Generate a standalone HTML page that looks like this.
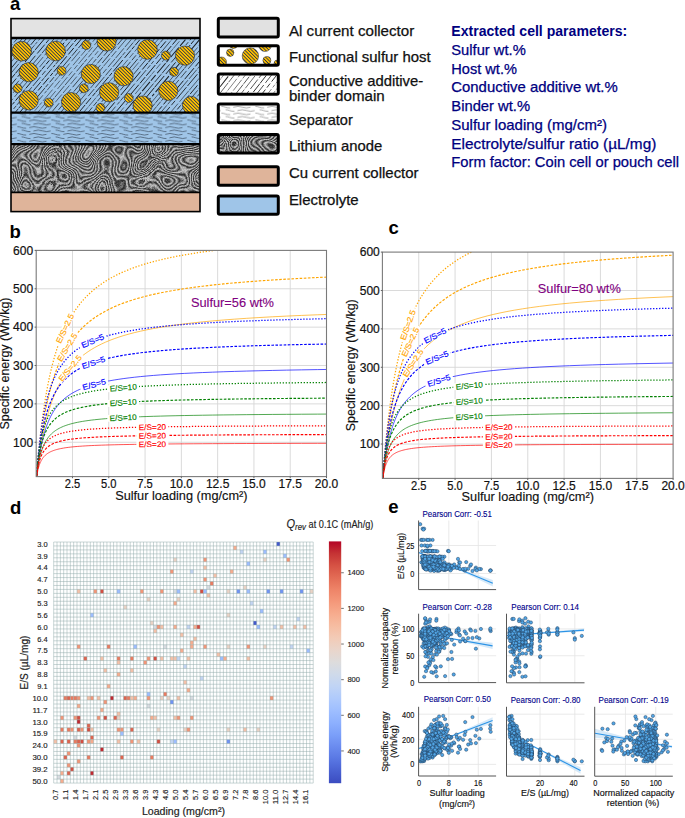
<!DOCTYPE html><html><head><meta charset="utf-8"><title>Figure</title><style>html,body{margin:0;padding:0;background:#fff;width:685px;height:818px;overflow:hidden}svg{display:block;font-family:"Liberation Sans",sans-serif}</style></head><body><svg width="685" height="818" viewBox="0 0 685 818" font-family='"Liberation Sans", sans-serif'><defs><pattern id="goldstripe" width="2.45" height="2.45" patternUnits="userSpaceOnUse" patternTransform="rotate(-45)"><rect width="2.45" height="2.45" fill="#ffc000"/><rect width="0.75" height="2.45" fill="#1c2a4a"/></pattern><pattern id="wave" width="34" height="6.8" patternUnits="userSpaceOnUse"><path d="M0 1.7 q4.25 -1.6 8.5 0 t8.5 0 t8.5 0 t8.5 0 M-4.25 5.1 q4.25 -1.6 8.5 0 t8.5 0 t8.5 0 t8.5 0 t8.5 0" stroke="#18202e" stroke-width="0.7" fill="none" opacity="0.75" stroke-dasharray="17 5 9 3"/></pattern><pattern id="wavew" width="34" height="6.8" patternUnits="userSpaceOnUse"><path d="M0 1.7 q4.25 -1.6 8.5 0 t8.5 0 t8.5 0 t8.5 0 M-4.25 5.1 q4.25 -1.6 8.5 0 t8.5 0 t8.5 0 t8.5 0 t8.5 0" stroke="#333" stroke-width="0.6" fill="none" opacity="0.7" stroke-dasharray="17 5 9 3"/></pattern><filter id="swirl" x="0" y="0" width="100%" height="100%" color-interpolation-filters="sRGB"><feTurbulence type="fractalNoise" baseFrequency="0.03" numOctaves="2" seed="11" result="n"/><feColorMatrix type="matrix" values="1 0 0 0 0  1 0 0 0 0  1 0 0 0 0  0 0 0 0 1"/><feComponentTransfer><feFuncR type="table" tableValues="0.17 0.77 0.17 0.77 0.17 0.77 0.17 0.77 0.17 0.77 0.17 0.77 0.17 0.77 0.17 0.77 0.17 0.77 0.17 0.77 0.17 0.77 0.17 0.77 0.17 0.77 0.17 0.77 0.17 0.77 0.17 0.77 0.17 0.77 0.17 0.77 0.17 0.77 0.17 0.77"/><feFuncG type="table" tableValues="0.17 0.77 0.17 0.77 0.17 0.77 0.17 0.77 0.17 0.77 0.17 0.77 0.17 0.77 0.17 0.77 0.17 0.77 0.17 0.77 0.17 0.77 0.17 0.77 0.17 0.77 0.17 0.77 0.17 0.77 0.17 0.77 0.17 0.77 0.17 0.77 0.17 0.77 0.17 0.77"/><feFuncB type="table" tableValues="0.17 0.77 0.17 0.77 0.17 0.77 0.17 0.77 0.17 0.77 0.17 0.77 0.17 0.77 0.17 0.77 0.17 0.77 0.17 0.77 0.17 0.77 0.17 0.77 0.17 0.77 0.17 0.77 0.17 0.77 0.17 0.77 0.17 0.77 0.17 0.77 0.17 0.77 0.17 0.77"/></feComponentTransfer></filter><clipPath id="cathclip"><rect x="11.5" y="38" width="188" height="74"/></clipPath><clipPath id="leg2clip"><rect x="218.3" y="45.8" width="60" height="19.5"/></clipPath><clipPath id="leg3clip"><rect x="218.3" y="74.1" width="60" height="20.1"/></clipPath><clipPath id="anclip"><rect x="11.5" y="144" width="188" height="48"/></clipPath><clipPath id="leg5clip"><rect x="218.3" y="134.4" width="60" height="18.7"/></clipPath><linearGradient id="cbar" x1="0" y1="1" x2="0" y2="0"><stop offset="0.000" stop-color="#3b4cc0"/><stop offset="0.050" stop-color="#4961d2"/><stop offset="0.100" stop-color="#5977e3"/><stop offset="0.150" stop-color="#6a8bef"/><stop offset="0.200" stop-color="#7b9ff9"/><stop offset="0.250" stop-color="#8db0fe"/><stop offset="0.300" stop-color="#9ebeff"/><stop offset="0.350" stop-color="#afcafc"/><stop offset="0.400" stop-color="#c0d4f5"/><stop offset="0.450" stop-color="#cfdaea"/><stop offset="0.500" stop-color="#dddcdc"/><stop offset="0.550" stop-color="#e9d5cb"/><stop offset="0.600" stop-color="#f2cbb7"/><stop offset="0.650" stop-color="#f6bda2"/><stop offset="0.700" stop-color="#f7ac8e"/><stop offset="0.750" stop-color="#f4987a"/><stop offset="0.800" stop-color="#ee8468"/><stop offset="0.850" stop-color="#e36c55"/><stop offset="0.900" stop-color="#d65244"/><stop offset="0.950" stop-color="#c53334"/><stop offset="1.000" stop-color="#b40426"/></linearGradient></defs><rect width="685" height="818" fill="#fff"/><text x="10.00" y="10.30" font-size="18.5" fill="#000" font-weight="bold">a</text><rect x="11" y="18.6" width="189" height="19.4" fill="#e3e3e3"/><rect x="11" y="38" width="189" height="74.5" fill="#9fc5e8"/><g clip-path="url(#cathclip)"><g stroke="#0a0a0a" opacity="0.9" fill="none"><path d="M-41.7 87.1 L91.4 -71.6" stroke-dasharray="10.1 1.5 10.9 2.1 3.9 0.6 13.9 1.2 6.0 3.0 9.1 2.6 9.2 2.1 5.0 2.1 14.3 1.9 12.6 2.2 3.8 2.4 10.7 1.3 3.4 2.7 9.1 2.3 14.4 2.3 15.0 1.5 13.4 1.7 15.2 2.7" stroke-width="0.61"/><path d="M-39.1 89.4 L94.0 -69.3" stroke-dasharray="5.8 2.9 8.7 2.1 6.9 1.8 8.0 1.4 10.6 2.0 14.8 2.2 15.1 2.7 15.9 2.2 5.1 2.7 15.5 2.8 10.4 2.3 5.7 2.6 10.5 1.3 3.8 2.6 15.9 0.8 13.4 1.6 5.0 1.3 13.0 2.7" stroke-width="0.58"/><path d="M-36.1 91.6 L97.1 -67.1" stroke-dasharray="3.6 2.3 7.3 2.7 15.7 1.8 16.0 1.3 4.0 2.0 3.4 1.1 8.3 2.1 5.0 0.7 14.3 1.4 15.5 2.8 7.9 1.7 9.8 2.1 10.7 1.9 11.1 2.9 9.6 1.6 12.4 1.2 6.9 2.9 9.8 1.9 3.1 1.6" stroke-width="0.84"/><path d="M-33.9 93.9 L99.3 -64.8" stroke-dasharray="11.0 2.1 3.8 2.1 9.1 2.2 7.6 2.3 12.6 0.7 3.8 2.2 15.5 1.2 8.9 2.0 7.2 1.5 7.1 1.5 10.7 1.3 7.9 2.5 3.3 2.0 12.6 1.3 5.9 2.5 6.1 1.0 8.7 2.3 4.3 1.4 7.3 2.6 8.7 2.7 5.2 1.4 11.5 2.7" stroke-width="0.78"/><path d="M-31.0 96.1 L102.1 -62.6" stroke-dasharray="4.6 1.9 5.5 2.5 13.9 1.0 6.6 2.5 11.3 2.5 7.5 0.9 6.8 2.5 6.5 1.4 8.4 1.6 8.3 2.8 5.0 0.6 15.3 2.7 15.8 1.6 15.4 2.8 5.9 2.4 13.9 2.2 9.7 1.3 7.4 1.1 3.9 2.0" stroke-width="0.70"/><path d="M-27.9 98.4 L105.3 -60.3" stroke-dasharray="3.6 2.8 12.0 2.8 14.7 2.8 10.5 0.6 12.7 1.0 6.9 2.2 9.8 1.6 15.2 2.1 7.4 1.2 14.2 1.7 13.2 1.4 5.6 1.9 13.6 1.0 13.3 2.8 13.5 2.6 3.1 2.1 14.2 0.7" stroke-width="0.69"/><path d="M-25.6 100.6 L107.5 -58.1" stroke-dasharray="9.9 1.6 9.1 2.5 3.0 0.7 4.6 0.9 3.9 2.9 14.1 0.8 9.5 1.4 7.1 1.4 11.4 2.0 7.7 1.1 7.3 0.9 10.2 2.3 7.9 0.8 5.3 1.5 10.9 2.5 7.9 2.5 11.1 1.6 7.8 1.8 12.1 1.6 12.0 1.7 6.2 1.9" stroke-width="0.89"/><path d="M-23.1 102.8 L110.1 -55.8" stroke-dasharray="8.5 1.6 14.4 2.8 7.9 2.8 13.3 1.2 9.0 0.9 13.6 2.2 14.5 2.5 11.7 2.4 10.3 0.8 10.6 0.6 4.9 2.5 3.6 0.8 4.3 2.7 5.3 0.7 13.9 0.9 14.0 2.2 13.9 2.9 10.5 2.5" stroke-width="0.58"/><path d="M-19.8 105.1 L113.3 -53.6" stroke-dasharray="9.6 2.3 4.4 2.4 15.1 0.7 7.2 2.0 13.8 1.2 5.3 1.2 11.0 2.4 8.1 1.5 8.2 1.4 8.4 0.8 9.5 2.9 8.4 2.4 5.1 2.3 12.8 2.2 9.7 1.8 11.4 2.8 4.9 0.8 12.7 2.8 9.7 1.7" stroke-width="0.91"/><path d="M-17.6 107.3 L115.5 -51.3" stroke-dasharray="6.5 1.1 10.6 1.4 6.0 2.3 15.4 1.3 12.2 1.6 14.1 2.0 6.5 1.1 3.3 1.8 8.0 1.0 7.7 1.4 13.1 0.9 15.9 1.8 10.8 1.7 13.8 2.6 10.2 1.8 12.4 2.7 8.2 2.4 15.5 1.7" stroke-width="0.67"/><path d="M-14.9 109.6 L118.2 -49.1" stroke-dasharray="12.3 2.2 15.5 2.6 6.1 1.1 6.4 1.0 12.2 2.7 14.7 1.2 14.2 1.4 8.5 2.3 4.1 0.8 13.8 1.3 7.6 2.0 11.8 0.6 7.4 1.6 9.3 1.1 10.6 2.9 8.1 1.9 4.5 1.3 11.7 0.9" stroke-width="0.99"/><path d="M-11.7 111.8 L121.5 -46.8" stroke-dasharray="4.3 2.9 7.9 2.5 12.8 1.3 11.8 2.2 13.5 1.2 12.8 2.9 11.7 1.9 4.5 1.8 7.6 2.3 11.8 2.0 5.4 2.1 11.2 1.0 14.6 2.2 4.6 2.8 4.8 1.4 12.4 2.0 10.2 2.2 9.0 1.3 5.3 0.8" stroke-width="0.90"/><path d="M-9.1 114.1 L124.0 -44.6" stroke-dasharray="10.1 2.4 7.7 1.2 8.0 2.7 3.5 1.8 6.2 2.4 7.6 1.4 8.2 1.9 13.0 1.4 14.0 0.9 6.5 0.8 4.5 2.5 12.5 1.0 5.5 1.6 12.7 2.6 12.7 2.0 4.9 1.6 5.5 1.9 10.4 1.1 6.3 2.5 3.4 2.5 14.6 2.9" stroke-width="0.74"/><path d="M-6.6 116.3 L126.5 -42.3" stroke-dasharray="10.6 2.1 15.7 2.2 6.9 2.7 9.3 2.0 12.4 0.6 13.0 2.2 9.4 1.9 9.0 1.1 9.9 0.7 9.5 2.2 8.8 2.0 15.5 2.7 4.8 2.5 11.1 0.7 7.7 1.2 4.0 1.9 15.1 1.4 14.3 2.3" stroke-width="0.62"/><path d="M-3.7 118.6 L129.5 -40.1" stroke-dasharray="10.8 2.8 12.3 2.4 7.5 2.5 15.1 2.7 8.7 2.4 9.3 0.9 3.6 0.8 5.6 1.0 9.5 2.3 10.0 1.6 11.4 1.3 9.0 2.4 8.2 1.0 14.7 2.3 7.8 1.5 9.9 2.0 5.9 0.6 5.7 2.5 4.9 1.7 5.5 1.1" stroke-width="0.64"/><path d="M-1.4 120.8 L131.8 -37.8" stroke-dasharray="5.2 0.7 4.4 1.0 9.4 0.7 3.3 1.7 8.3 2.3 3.7 1.6 8.2 0.7 15.6 1.1 4.2 1.7 5.1 2.1 7.5 0.9 3.7 2.3 6.6 2.5 9.1 2.8 6.9 1.2 6.5 2.6 11.2 1.4 4.2 2.2 15.6 2.0 3.0 0.7 4.2 1.0 3.5 0.7 11.5 2.8 5.6 2.9 9.2 2.5" stroke-width="1.00"/><path d="M1.7 123.1 L134.9 -35.6" stroke-dasharray="3.4 1.3 10.9 2.9 4.1 1.3 14.0 0.9 8.1 1.4 11.8 2.8 5.3 2.4 12.5 2.6 10.2 2.8 7.7 1.6 6.0 2.5 9.2 1.2 5.2 2.3 10.9 2.3 8.0 1.8 5.0 2.3 3.3 1.7 12.9 2.2 4.3 1.2 14.0 2.1 14.4 2.7" stroke-width="0.78"/><path d="M4.4 125.3 L137.5 -33.3" stroke-dasharray="12.5 1.4 7.8 0.8 8.2 2.9 4.4 2.0 4.4 0.8 11.4 1.2 3.6 1.0 11.4 2.0 3.2 1.2 15.6 1.1 10.3 1.6 13.2 2.1 13.3 1.9 5.4 1.0 4.0 2.6 4.5 0.7 15.6 1.1 14.6 0.8 9.0 1.1 13.8 2.1" stroke-width="0.87"/><path d="M7.0 127.6 L140.1 -31.1" stroke-dasharray="14.3 1.4 10.8 1.7 4.4 2.6 10.7 2.6 5.7 1.9 9.0 2.3 4.0 1.4 9.3 0.8 10.2 2.4 8.5 2.2 10.9 1.1 7.6 3.0 7.4 1.6 4.1 1.1 5.1 2.8 12.4 2.7 15.8 2.1 15.1 1.9 8.4 2.9" stroke-width="0.99"/><path d="M9.8 129.8 L142.9 -28.8" stroke-dasharray="9.3 2.5 8.3 3.0 15.0 1.3 15.1 1.0 4.2 2.3 6.8 1.8 11.3 0.7 12.7 1.3 8.6 1.4 12.6 2.4 6.7 0.8 6.9 1.6 4.0 1.0 12.9 2.3 15.7 3.0 14.4 1.5 5.1 1.3 9.0 1.9" stroke-width="0.82"/><path d="M12.0 132.1 L145.2 -26.6" stroke-dasharray="14.1 1.3 9.0 2.7 13.5 1.3 6.2 2.5 3.1 0.9 9.9 1.9 5.2 0.7 5.7 2.4 9.1 3.0 13.2 3.0 3.5 1.0 3.2 1.6 7.4 0.7 10.1 0.8 7.1 1.2 13.4 1.6 6.4 0.7 8.6 2.1 11.8 2.8 13.5 1.2" stroke-width="0.63"/><path d="M15.0 134.3 L148.2 -24.3" stroke-dasharray="13.3 1.8 13.8 1.9 6.6 1.0 3.2 2.1 14.7 2.8 9.1 2.2 15.1 2.6 10.8 1.6 9.7 1.0 5.4 2.2 15.9 1.9 8.3 1.4 8.9 2.5 8.9 2.9 5.0 1.4 9.8 1.6 14.1 2.6 15.1 2.1" stroke-width="0.57"/><path d="M17.5 136.6 L150.7 -22.1" stroke-dasharray="10.1 1.8 6.6 2.3 14.9 0.8 11.7 1.5 9.7 2.7 15.5 2.1 5.5 2.8 5.4 1.5 13.8 1.4 6.5 2.9 15.3 1.4 8.1 1.3 4.7 1.2 15.7 0.8 6.0 1.1 4.0 1.9 12.7 2.6 11.2 2.6" stroke-width="0.56"/><path d="M20.0 138.8 L153.1 -19.8" stroke-dasharray="15.5 0.8 6.5 1.8 6.5 1.9 3.6 1.2 15.4 0.9 14.8 1.0 15.9 2.2 11.4 0.9 3.7 2.4 5.3 1.1 13.7 2.7 3.6 2.9 10.0 1.5 4.4 1.5 15.8 1.3 4.7 0.9 4.6 1.4 14.9 0.8 5.5 2.9 16.0 3.0" stroke-width="0.68"/><path d="M22.7 141.1 L155.9 -17.6" stroke-dasharray="15.4 1.8 12.1 1.4 3.3 1.4 12.7 2.5 10.4 1.7 10.0 1.7 9.9 2.6 5.6 2.0 15.1 2.6 5.3 2.9 13.9 1.0 6.5 1.1 3.7 2.9 8.3 2.7 4.5 0.6 14.3 2.5 15.9 2.2 9.8 2.4" stroke-width="0.60"/><path d="M25.5 143.3 L158.7 -15.3" stroke-dasharray="8.7 1.0 10.8 1.4 9.6 1.5 7.1 1.5 10.8 3.0 15.2 2.7 13.9 1.3 15.7 1.2 4.6 1.8 12.5 1.4 11.4 1.3 15.6 1.7 9.2 1.9 14.4 3.0 9.9 1.7 11.0 0.8" stroke-width="0.76"/><path d="M28.5 145.6 L161.6 -13.1" stroke-dasharray="13.1 0.7 14.1 1.5 15.8 1.5 5.8 1.9 14.5 1.6 14.3 2.3 7.7 1.3 9.6 1.6 7.8 2.2 14.4 2.0 4.9 1.1 7.8 2.1 4.8 0.8 7.2 1.3 3.4 1.9 15.0 1.9 12.6 2.6 13.9 2.8" stroke-width="0.77"/><path d="M31.0 147.8 L164.2 -10.8" stroke-dasharray="4.6 2.7 7.9 1.7 14.6 1.3 5.5 2.6 10.8 0.8 3.4 1.4 3.1 2.6 5.4 1.3 8.1 1.8 8.6 2.1 11.6 1.6 4.3 2.9 12.0 0.8 8.7 2.4 15.9 0.8 3.1 1.8 8.5 2.7 13.7 1.4 8.4 2.0 14.5 1.1" stroke-width="0.75"/><path d="M33.2 150.1 L166.4 -8.6" stroke-dasharray="11.3 0.7 15.2 1.9 10.5 0.8 6.0 1.7 14.1 1.9 6.7 3.0 11.6 1.9 5.6 1.3 14.7 0.9 9.9 2.1 7.6 2.4 14.8 2.7 12.6 1.1 3.8 1.6 7.1 1.1 14.3 1.1 13.7 2.9" stroke-width="0.62"/><path d="M36.6 152.3 L169.7 -6.3" stroke-dasharray="8.2 1.1 5.4 0.7 9.5 1.5 14.1 2.6 3.7 1.6 8.1 1.0 6.3 1.2 12.0 1.4 4.4 1.1 8.7 2.0 6.2 2.3 5.8 2.2 10.9 1.0 12.8 1.5 10.0 2.0 11.2 1.7 3.7 2.5 14.2 1.8 10.5 1.2 14.7 2.2" stroke-width="0.67"/><path d="M39.2 154.6 L172.3 -4.1" stroke-dasharray="15.8 1.4 15.9 1.8 5.3 2.3 7.4 2.4 10.6 0.9 9.9 2.6 9.2 1.9 14.2 1.7 9.4 2.0 13.7 1.1 4.2 2.4 10.2 1.3 14.6 2.7 10.0 3.0 13.9 2.4 6.8 0.6 11.8 2.4" stroke-width="0.73"/><path d="M41.6 156.8 L174.7 -1.8" stroke-dasharray="10.4 1.2 12.1 2.0 8.0 0.9 10.2 1.4 12.4 1.0 8.1 1.1 8.3 2.0 4.4 0.7 9.3 1.1 9.6 1.0 4.3 1.9 15.0 2.7 9.7 1.6 3.9 1.3 7.1 2.9 4.5 2.9 9.2 1.6 6.4 2.9 5.4 2.0 9.6 1.1 5.9 3.0" stroke-width="0.94"/><path d="M44.5 159.1 L177.6 0.4" stroke-dasharray="14.7 0.8 12.1 2.4 5.9 1.7 15.7 1.4 12.9 1.0 11.7 1.2 9.6 1.5 14.3 2.4 9.6 2.2 8.6 2.5 6.3 1.9 10.6 1.5 3.6 1.0 11.3 1.1 12.9 1.8 15.4 2.6 12.5 1.5" stroke-width="0.58"/><path d="M47.0 161.3 L180.2 2.7" stroke-dasharray="12.7 2.8 5.6 1.0 15.7 2.4 9.3 2.4 4.9 1.9 11.7 2.0 5.1 0.9 11.1 2.7 4.8 0.6 4.1 2.5 8.1 1.7 15.9 2.1 6.4 2.3 3.0 1.3 12.1 1.0 3.4 1.8 7.3 2.9 4.3 2.5 8.1 2.5 8.8 2.2 7.2 1.1" stroke-width="0.78"/><path d="M49.9 163.6 L183.0 4.9" stroke-dasharray="7.5 1.2 8.4 0.8 7.1 2.0 10.1 2.0 6.8 0.7 3.3 1.4 5.6 2.0 6.4 2.4 10.8 2.2 12.6 1.9 8.5 1.3 3.8 2.5 9.5 0.8 15.0 2.0 11.1 1.7 4.6 3.0 5.2 1.5 16.0 0.9 9.5 1.8 6.2 2.8 8.4 0.6" stroke-width="0.79"/><path d="M51.9 165.8 L185.1 7.2" stroke-dasharray="12.2 2.7 14.8 0.7 11.8 1.3 9.1 1.3 7.0 0.9 11.1 0.8 15.5 0.7 15.5 1.1 4.1 2.4 9.9 2.4 9.6 2.1 4.1 2.2 9.7 2.9 3.1 0.8 11.8 2.8 8.5 2.3 10.3 1.5 9.1 2.0" stroke-width="0.57"/><path d="M54.9 168.1 L188.0 9.4" stroke-dasharray="12.6 1.2 9.2 1.2 7.6 2.2 12.7 2.9 9.2 1.1 7.4 0.7 6.1 2.0 10.9 1.2 5.4 0.8 5.3 1.8 6.3 2.7 10.3 1.4 8.6 0.7 12.5 2.4 7.7 2.3 6.5 1.1 6.0 1.1 10.9 2.1 12.5 0.8 13.0 1.7" stroke-width="0.74"/><path d="M57.7 170.3 L190.8 11.7" stroke-dasharray="8.6 1.1 8.1 2.2 12.3 2.8 5.5 2.7 13.4 2.3 15.7 0.9 13.1 2.8 4.6 2.0 15.3 1.3 14.1 2.8 8.7 0.9 5.8 2.6 8.5 1.4 8.8 2.8 6.3 0.6 15.3 1.4 8.0 2.9 6.7 0.8" stroke-width="0.99"/><path d="M60.2 172.6 L193.3 13.9" stroke-dasharray="5.9 2.9 6.0 2.8 7.3 1.3 5.8 1.9 10.3 1.6 9.6 1.3 13.9 2.8 12.8 2.6 3.9 1.2 5.6 1.0 15.6 2.8 14.9 1.9 4.5 1.6 3.7 2.8 6.5 1.3 15.3 1.1 15.0 1.3 11.6 0.9 14.7 1.6" stroke-width="0.73"/><path d="M63.2 174.8 L196.3 16.2" stroke-dasharray="10.7 1.2 4.6 2.0 3.3 2.7 7.5 1.0 7.3 0.9 7.1 1.9 8.3 1.4 6.8 1.8 13.1 1.7 13.0 1.8 4.6 1.0 14.0 1.8 8.0 1.8 14.0 1.5 7.7 1.5 3.1 1.9 9.2 1.8 8.9 1.7 12.3 1.0 15.8 0.9" stroke-width="0.98"/><path d="M65.5 177.1 L198.6 18.4" stroke-dasharray="13.3 1.2 4.0 1.9 13.9 2.6 14.4 3.0 3.7 1.5 4.4 2.4 8.9 2.4 13.3 3.0 11.8 2.7 10.1 0.8 14.6 0.8 4.1 2.6 6.6 2.2 3.4 1.1 12.3 0.7 9.6 2.8 5.8 2.3 12.7 2.1 13.0 2.3" stroke-width="0.57"/><path d="M68.2 179.3 L201.3 20.7" stroke-dasharray="10.0 2.9 5.8 2.0 4.7 2.6 8.8 1.9 11.7 0.9 12.5 2.5 14.2 1.3 6.0 1.0 14.7 1.7 8.1 1.8 12.1 1.4 7.4 2.4 13.1 1.3 4.0 2.8 12.5 2.0 8.3 2.9 8.6 1.1 4.3 1.4 10.8 1.5" stroke-width="1.01"/><path d="M71.2 181.6 L204.4 22.9" stroke-dasharray="9.0 2.2 10.8 2.1 9.4 1.9 9.4 2.6 5.5 2.5 6.9 2.6 3.9 1.8 8.8 2.3 5.6 1.2 4.7 1.9 10.5 0.6 5.3 1.1 15.4 1.7 10.4 1.3 11.6 2.6 11.7 0.6 8.7 1.8 3.6 2.5 7.1 1.3 11.1 2.0 9.5 2.7" stroke-width="0.81"/><path d="M73.7 183.8 L206.8 25.2" stroke-dasharray="3.8 1.9 7.7 1.9 7.5 0.6 3.5 1.0 4.2 2.6 10.5 1.2 12.2 2.1 3.8 2.4 6.0 3.0 4.8 1.3 6.2 2.7 13.6 2.0 4.9 1.6 12.1 0.7 15.0 2.6 15.1 2.3 11.0 2.9 6.5 1.3 4.6 1.0 13.4 0.8 12.7 1.6" stroke-width="0.98"/><path d="M76.7 186.1 L209.8 27.4" stroke-dasharray="11.9 2.6 3.6 1.2 7.8 1.6 11.7 2.7 12.6 2.8 12.0 1.5 9.6 2.4 13.6 1.5 7.6 2.1 6.0 2.7 3.0 2.2 9.3 1.1 10.4 1.7 15.5 2.7 10.6 2.7 14.5 1.0 13.8 2.6" stroke-width="1.04"/><path d="M79.3 188.3 L212.5 29.7" stroke-dasharray="8.1 1.1 11.5 1.1 12.8 2.0 13.7 1.5 6.9 2.8 11.6 1.5 10.3 1.6 11.4 1.8 6.7 3.0 14.5 2.4 6.6 1.1 12.5 2.6 11.5 1.1 12.4 1.9 7.9 2.0 8.8 2.2 12.8 3.0" stroke-width="0.61"/><path d="M81.9 190.6 L215.0 31.9" stroke-dasharray="15.3 2.2 10.5 2.6 3.4 2.5 11.1 2.0 7.0 2.1 4.6 1.9 6.4 2.8 13.5 1.7 12.8 1.5 9.8 1.0 14.2 2.4 12.9 0.8 13.7 0.6 10.3 1.8 3.8 1.6 14.5 2.1 7.1 2.6 7.6 2.8" stroke-width="0.75"/><path d="M84.2 192.8 L217.3 34.2" stroke-dasharray="15.6 0.8 6.3 2.5 4.5 1.9 14.2 2.0 7.5 2.4 13.7 2.0 11.1 1.4 8.3 3.0 15.6 0.6 5.6 1.1 13.3 1.1 5.2 2.4 5.2 2.9 8.9 2.8 13.7 1.1 13.2 1.6 5.9 0.7 12.1 1.9" stroke-width="0.71"/><path d="M87.4 195.1 L220.6 36.4" stroke-dasharray="5.6 1.7 4.1 1.4 14.5 1.8 5.0 1.2 11.4 1.3 14.5 0.7 14.3 2.1 13.7 1.5 3.9 1.0 11.1 0.7 4.4 2.5 14.4 2.7 13.9 1.9 14.4 2.3 10.2 1.6 3.3 0.8 6.2 1.7 4.6 2.9 10.5 2.4" stroke-width="0.99"/><path d="M89.6 197.3 L222.8 38.7" stroke-dasharray="14.5 2.9 6.5 0.9 13.4 2.7 13.4 1.6 10.8 0.9 6.0 1.6 12.7 0.8 15.1 0.7 15.6 1.2 13.6 2.6 15.4 1.7 12.1 1.3 13.8 0.9 14.5 2.0 3.8 2.9 7.1 0.8" stroke-width="0.68"/><path d="M92.2 199.6 L225.3 40.9" stroke-dasharray="6.7 2.3 15.9 2.1 14.1 2.6 12.3 1.5 6.3 1.0 10.1 1.1 12.6 1.4 10.5 1.9 11.2 1.0 6.3 2.3 5.8 2.2 15.5 1.5 15.5 2.1 15.3 1.9 12.8 2.2 5.5 1.8 10.6 1.7" stroke-width="0.88"/><path d="M95.6 201.8 L228.7 43.2" stroke-dasharray="13.3 2.5 4.9 2.3 11.2 2.9 3.0 1.0 15.7 1.5 12.2 2.0 8.2 1.7 10.3 3.0 9.9 2.5 6.9 2.3 10.9 2.4 14.4 0.8 15.6 2.1 6.4 1.7 4.3 1.2 13.9 2.3 14.3 1.0" stroke-width="0.61"/><path d="M97.8 204.1 L231.0 45.4" stroke-dasharray="9.4 2.3 6.9 2.4 10.6 1.3 13.2 0.8 10.7 1.1 3.6 1.7 9.8 2.1 7.9 2.8 13.2 1.0 3.1 2.9 8.3 0.9 5.3 2.3 5.3 1.5 11.8 1.4 11.5 2.9 13.3 2.1 11.1 1.3 11.3 2.2 10.6 1.8" stroke-width="0.92"/><path d="M100.4 206.3 L233.5 47.7" stroke-dasharray="12.3 2.9 3.5 1.2 15.8 0.8 13.6 2.0 3.9 2.1 3.1 2.6 6.9 2.8 14.7 0.9 8.2 1.0 12.9 0.8 4.0 0.9 14.2 1.2 7.2 1.7 10.2 1.6 15.3 1.4 9.2 2.7 6.2 1.0 13.9 1.4 14.6 2.6" stroke-width="0.74"/><path d="M103.1 208.6 L236.3 49.9" stroke-dasharray="4.3 2.7 8.8 1.4 5.3 1.1 14.4 0.9 10.2 2.1 9.8 1.8 8.2 1.1 13.7 2.8 10.3 1.2 14.9 1.1 5.2 2.1 13.8 2.0 4.4 2.9 5.0 1.4 15.8 2.5 12.8 0.8 14.1 1.6 3.1 2.5 15.1 0.7" stroke-width="0.78"/><path d="M106.3 210.8 L239.4 52.1" stroke-dasharray="7.3 1.3 13.1 1.7 16.0 2.7 14.2 2.3 5.5 2.2 10.5 1.8 10.4 1.3 5.6 2.8 7.8 0.9 15.7 1.8 11.8 1.4 4.9 1.4 13.8 1.3 14.9 1.3 14.7 1.0 8.8 0.9 4.9 1.9" stroke-width="0.74"/><path d="M108.7 213.1 L241.8 54.4" stroke-dasharray="5.8 1.3 7.2 2.8 4.1 1.6 14.1 2.0 6.3 3.0 4.4 0.9 3.2 1.7 14.2 1.3 6.7 2.5 4.0 0.6 11.6 0.8 9.9 0.9 10.8 2.6 8.9 1.3 11.1 2.3 3.7 1.2 7.9 1.8 6.6 2.2 6.3 2.8 7.6 1.1 4.0 0.9 5.8 2.7 8.4 1.7" stroke-width="1.02"/><path d="M111.7 215.3 L244.8 56.6" stroke-dasharray="13.0 1.2 7.3 1.8 6.4 1.4 5.8 1.2 12.7 2.0 8.8 1.7 11.0 2.2 3.3 2.6 9.0 1.4 15.5 2.4 7.6 0.7 8.7 1.7 7.9 0.8 10.5 1.2 12.9 1.9 6.8 2.6 8.8 0.8 6.6 0.7 8.6 2.8 15.2 2.2" stroke-width="0.63"/><path d="M113.8 217.6 L246.9 58.9" stroke-dasharray="5.6 1.5 11.3 0.7 9.4 1.6 11.6 2.6 8.2 2.0 6.5 1.7 11.3 0.7 9.7 1.8 5.4 1.2 13.7 1.4 5.5 1.3 9.8 1.6 7.6 1.4 5.8 1.8 10.8 0.8 10.7 1.3 15.7 2.9 4.7 2.3 7.5 0.9 14.4 2.8" stroke-width="0.94"/><path d="M116.8 219.8 L249.9 61.1" stroke-dasharray="15.7 1.9 11.8 2.2 14.2 2.7 7.0 1.1 10.1 2.0 7.6 2.7 14.0 2.2 10.0 2.3 5.5 2.5 4.7 2.8 11.1 1.3 5.5 2.0 9.0 2.3 4.3 2.7 8.6 1.7 12.6 2.1 8.8 1.3 9.1 0.7 6.3 2.6" stroke-width="0.62"/></g></g><g clip-path="url(#cathclip)"><circle cx="21.7" cy="51.2" r="9.8" fill="url(#goldstripe)" stroke="#1b2338" stroke-width="0.6"/><circle cx="55.6" cy="51" r="9.8" fill="url(#goldstripe)" stroke="#1b2338" stroke-width="0.6"/><circle cx="86.3" cy="45" r="4.5" fill="url(#goldstripe)" stroke="#1b2338" stroke-width="0.6"/><circle cx="106.6" cy="41.5" r="9.6" fill="url(#goldstripe)" stroke="#1b2338" stroke-width="0.6"/><circle cx="147.5" cy="49.5" r="9.8" fill="url(#goldstripe)" stroke="#1b2338" stroke-width="0.6"/><circle cx="165.9" cy="55.6" r="4.5" fill="url(#goldstripe)" stroke="#1b2338" stroke-width="0.6"/><circle cx="185" cy="55.6" r="9.6" fill="url(#goldstripe)" stroke="#1b2338" stroke-width="0.6"/><circle cx="28.7" cy="72.2" r="9.6" fill="url(#goldstripe)" stroke="#1b2338" stroke-width="0.6"/><circle cx="61.6" cy="70.8" r="4.4" fill="url(#goldstripe)" stroke="#1b2338" stroke-width="0.6"/><circle cx="90.8" cy="74" r="9.6" fill="url(#goldstripe)" stroke="#1b2338" stroke-width="0.6"/><circle cx="123.6" cy="76.2" r="9.6" fill="url(#goldstripe)" stroke="#1b2338" stroke-width="0.6"/><circle cx="174" cy="71.8" r="4.4" fill="url(#goldstripe)" stroke="#1b2338" stroke-width="0.6"/><circle cx="17.6" cy="88.4" r="4.4" fill="url(#goldstripe)" stroke="#1b2338" stroke-width="0.6"/><circle cx="83.8" cy="88.4" r="4.4" fill="url(#goldstripe)" stroke="#1b2338" stroke-width="0.6"/><circle cx="109.1" cy="92.3" r="9.6" fill="url(#goldstripe)" stroke="#1b2338" stroke-width="0.6"/><circle cx="168.3" cy="90.8" r="9.6" fill="url(#goldstripe)" stroke="#1b2338" stroke-width="0.6"/><circle cx="28.7" cy="100.3" r="9.6" fill="url(#goldstripe)" stroke="#1b2338" stroke-width="0.6"/><circle cx="48.7" cy="102.6" r="4.4" fill="url(#goldstripe)" stroke="#1b2338" stroke-width="0.6"/><circle cx="71.1" cy="102.1" r="9.6" fill="url(#goldstripe)" stroke="#1b2338" stroke-width="0.6"/><circle cx="100.5" cy="107.8" r="4.4" fill="url(#goldstripe)" stroke="#1b2338" stroke-width="0.6"/><circle cx="128.8" cy="98" r="4.4" fill="url(#goldstripe)" stroke="#1b2338" stroke-width="0.6"/><circle cx="142.6" cy="105.5" r="9.6" fill="url(#goldstripe)" stroke="#1b2338" stroke-width="0.6"/><circle cx="191.3" cy="105.2" r="8.8" fill="url(#goldstripe)" stroke="#1b2338" stroke-width="0.6"/></g><rect x="11" y="112.5" width="189" height="31.5" fill="#9fc5e8"/><rect x="11" y="112.5" width="189" height="31.5" fill="url(#wave)"/><g clip-path="url(#anclip)"><rect x="11" y="144" width="189" height="48.5" filter="url(#swirl)"/></g><rect x="11" y="192.4" width="189" height="19.2" fill="#dfb49a"/><path d="M11 38 H200 M11 112.6 H200 M11 144.1 H200" stroke="#000" stroke-width="2.3" fill="none"/><path d="M11 192.4 H200" stroke="#000" stroke-width="1.8" fill="none"/><rect x="11" y="18.6" width="189" height="193" fill="none" stroke="#000" stroke-width="1.6"/><rect x="218.3" y="18.2" width="60.0" height="18.8" fill="#e1e1e1"/><rect x="218.3" y="18.2" width="60.0" height="18.8" rx="1.5" fill="none" stroke="#000" stroke-width="3"/><rect x="218.3" y="45.8" width="60.0" height="19.5" fill="#ffffff"/><g clip-path="url(#leg2clip)"><circle cx="230.2" cy="52.7" r="3.7" fill="url(#goldstripe)" stroke="#1b2338" stroke-width="0.5"/><circle cx="250.4" cy="56" r="8.2" fill="url(#goldstripe)" stroke="#1b2338" stroke-width="0.5"/><circle cx="266.9" cy="60.4" r="4" fill="url(#goldstripe)" stroke="#1b2338" stroke-width="0.5"/><circle cx="221.5" cy="62" r="5" fill="url(#goldstripe)" stroke="#1b2338" stroke-width="0.5"/><circle cx="233.5" cy="44.5" r="4" fill="url(#goldstripe)" stroke="#1b2338" stroke-width="0.5"/><circle cx="265" cy="45" r="6.5" fill="url(#goldstripe)" stroke="#1b2338" stroke-width="0.5"/><circle cx="277.5" cy="63.5" r="3.5" fill="url(#goldstripe)" stroke="#1b2338" stroke-width="0.5"/></g><rect x="218.3" y="45.8" width="60.0" height="19.5" rx="1.5" fill="none" stroke="#000" stroke-width="3"/><rect x="218.3" y="74.1" width="60.0" height="20.1" fill="#ffffff"/><g clip-path="url(#leg3clip)"><g stroke="#000" opacity="0.85" fill="none"><path d="M197.8 87.9 L239.9 34.0" stroke-dasharray="12.6 2.5 15.3 2.4 15.0 0.7 9.1 2.9 11.4 2.8" stroke-width="0.61"/><path d="M201.0 90.5 L243.0 36.6" stroke-dasharray="6.2 1.9 10.5 0.6 5.8 1.3 14.9 2.4 5.1 2.5 4.8 2.1 4.6 0.6 14.3 1.1" stroke-width="0.66"/><path d="M204.7 93.1 L246.8 39.2" stroke-dasharray="14.3 1.3 15.5 1.9 11.8 1.1 15.2 2.3 15.6 2.7" stroke-width="0.70"/><path d="M207.5 95.7 L249.6 41.8" stroke-dasharray="5.2 0.9 3.8 1.3 10.8 0.6 11.8 1.4 7.0 2.6 9.2 1.4 9.3 2.3 3.7 2.9" stroke-width="0.57"/><path d="M211.1 98.3 L253.2 44.4" stroke-dasharray="14.0 0.6 13.2 1.5 10.5 0.6 3.6 1.0 15.4 1.1 12.8 2.8" stroke-width="1.01"/><path d="M214.1 100.8 L256.2 47.0" stroke-dasharray="7.6 1.9 13.1 0.9 12.7 2.5 14.2 0.7 15.3 0.8" stroke-width="0.72"/><path d="M217.6 103.4 L259.7 49.6" stroke-dasharray="14.9 1.4 15.0 1.9 7.1 1.4 5.3 0.8 4.9 2.3 16.0 1.0" stroke-width="0.58"/><path d="M221.2 106.0 L263.3 52.1" stroke-dasharray="9.9 1.6 6.1 2.0 13.7 1.7 8.5 0.7 14.9 0.7 9.4 2.6" stroke-width="0.62"/><path d="M224.3 108.6 L266.4 54.7" stroke-dasharray="15.3 2.1 13.2 0.9 8.6 1.0 14.0 1.3 8.9 3.0 14.1 2.9" stroke-width="0.78"/><path d="M227.4 111.2 L269.5 57.3" stroke-dasharray="12.5 1.7 6.8 1.6 4.9 1.5 15.8 2.9 11.2 1.8 7.4 0.8" stroke-width="0.69"/><path d="M231.0 113.8 L273.1 59.9" stroke-dasharray="14.3 1.5 13.2 2.5 12.0 2.2 12.9 1.5 12.2 1.3" stroke-width="0.79"/><path d="M234.3 116.4 L276.4 62.5" stroke-dasharray="12.0 1.3 15.3 2.2 10.5 0.6 10.1 1.2 11.7 1.7 13.6 2.2" stroke-width="0.94"/><path d="M237.3 118.9 L279.3 65.1" stroke-dasharray="11.4 2.4 13.8 1.4 14.0 2.7 11.9 2.9 15.4 1.8" stroke-width="0.81"/><path d="M240.4 121.5 L282.5 67.7" stroke-dasharray="13.9 2.8 9.2 2.3 12.4 2.4 5.2 2.5 10.6 2.2 8.5 2.1" stroke-width="0.93"/><path d="M244.1 124.1 L286.2 70.2" stroke-dasharray="12.4 0.7 5.1 1.7 11.5 1.1 11.9 2.1 3.5 1.7 5.9 0.7 4.7 1.4 5.4 1.1" stroke-width="0.58"/><path d="M247.3 126.7 L289.4 72.8" stroke-dasharray="7.9 2.1 10.7 1.2 14.7 0.6 8.3 1.3 8.3 0.9 13.8 1.5" stroke-width="0.58"/><path d="M250.7 129.3 L292.8 75.4" stroke-dasharray="4.2 1.9 7.4 2.0 15.5 2.6 8.4 2.6 11.3 1.5 4.8 2.0 10.3 2.9" stroke-width="1.02"/><path d="M254.0 131.9 L296.1 78.0" stroke-dasharray="7.6 2.7 3.0 0.9 10.4 2.1 4.8 2.1 14.6 1.5 8.6 1.1 6.8 2.9" stroke-width="0.74"/></g></g><rect x="218.3" y="74.1" width="60.0" height="20.1" rx="1.5" fill="none" stroke="#000" stroke-width="3"/><rect x="218.3" y="104.1" width="60.0" height="18.7" fill="#ffffff"/><rect x="218.3" y="104.1" width="60.0" height="18.7" fill="url(#wavew)"/><rect x="218.3" y="104.1" width="60.0" height="18.7" rx="1.5" fill="none" stroke="#000" stroke-width="3"/><g clip-path="url(#leg5clip)"><rect x="218.3" y="134.4" width="60.0" height="18.7" filter="url(#swirl)"/></g><rect x="218.3" y="134.4" width="60.0" height="18.7" rx="1.5" fill="none" stroke="#000" stroke-width="3"/><rect x="218.3" y="166.8" width="60.0" height="18.4" fill="#dfb49a"/><rect x="218.3" y="166.8" width="60.0" height="18.4" rx="1.5" fill="none" stroke="#000" stroke-width="3"/><rect x="218.3" y="196.1" width="60.0" height="18.1" fill="#9fc5e8"/><rect x="218.3" y="196.1" width="60.0" height="18.1" rx="1.5" fill="none" stroke="#000" stroke-width="3"/><text x="288.90" y="35.60" font-size="14.2" fill="#111" textLength="125.40" lengthAdjust="spacingAndGlyphs" stroke="#111" stroke-width="0.25">Al current collector</text><text x="288.90" y="61.70" font-size="14.2" fill="#111" textLength="141.80" lengthAdjust="spacingAndGlyphs" stroke="#111" stroke-width="0.25">Functional sulfur host</text><text x="288.90" y="86.30" font-size="14.2" fill="#111" textLength="134.30" lengthAdjust="spacingAndGlyphs" stroke="#111" stroke-width="0.25">Conductive additive-</text><text x="288.90" y="101.00" font-size="14.2" fill="#111" textLength="95.80" lengthAdjust="spacingAndGlyphs" stroke="#111" stroke-width="0.25">binder domain</text><text x="288.90" y="124.50" font-size="14.2" fill="#111" textLength="63.90" lengthAdjust="spacingAndGlyphs" stroke="#111" stroke-width="0.25">Separator</text><text x="288.90" y="151.40" font-size="14.2" fill="#111" textLength="93.30" lengthAdjust="spacingAndGlyphs" stroke="#111" stroke-width="0.25">Lithium anode</text><text x="288.90" y="178.30" font-size="14.2" fill="#111" textLength="129.70" lengthAdjust="spacingAndGlyphs" stroke="#111" stroke-width="0.25">Cu current collector</text><text x="288.90" y="205.10" font-size="14.2" fill="#111" textLength="69.80" lengthAdjust="spacingAndGlyphs" stroke="#111" stroke-width="0.25">Electrolyte</text><text x="451.30" y="36.00" font-size="14.2" fill="#000080" font-weight="bold" textLength="175.90" lengthAdjust="spacingAndGlyphs">Extracted cell parameters:</text><text x="451.30" y="54.60" font-size="14.2" fill="#000080" textLength="74.50" lengthAdjust="spacingAndGlyphs" stroke="#000080" stroke-width="0.25">Sulfur wt.%</text><text x="451.30" y="73.50" font-size="14.2" fill="#000080" textLength="65.60" lengthAdjust="spacingAndGlyphs" stroke="#000080" stroke-width="0.25">Host wt.%</text><text x="451.30" y="92.10" font-size="14.2" fill="#000080" textLength="166.40" lengthAdjust="spacingAndGlyphs" stroke="#000080" stroke-width="0.25">Conductive additive wt.%</text><text x="451.30" y="110.70" font-size="14.2" fill="#000080" textLength="78.80" lengthAdjust="spacingAndGlyphs" stroke="#000080" stroke-width="0.25">Binder wt.%</text><text x="451.30" y="130.00" font-size="14.2" fill="#000080" textLength="155.70" lengthAdjust="spacingAndGlyphs" stroke="#000080" stroke-width="0.25">Sulfur loading (mg/cm²)</text><text x="451.30" y="148.50" font-size="14.2" fill="#000080" textLength="205.00" lengthAdjust="spacingAndGlyphs" stroke="#000080" stroke-width="0.25">Electrolyte/sulfur ratio (µL/mg)</text><text x="451.30" y="167.10" font-size="14.2" fill="#000080" textLength="227.70" lengthAdjust="spacingAndGlyphs" stroke="#000080" stroke-width="0.25">Form factor: Coin cell or pouch cell</text><text x="9.60" y="238.00" font-size="18.5" fill="#000" font-weight="bold">b</text><clipPath id="clipb"><rect x="36.2" y="250.4" width="290.3" height="226.20000000000002"/></clipPath><path d="M72.49 250.4 V476.6 M108.78 250.4 V476.6 M145.06 250.4 V476.6 M181.35 250.4 V476.6 M217.64 250.4 V476.6 M253.93 250.4 V476.6 M290.21 250.4 V476.6 M36.2 442.26 H326.5 M36.2 403.89 H326.5 M36.2 365.51 H326.5 M36.2 327.14 H326.5 M36.2 288.77 H326.5" stroke="#d6d6d6" stroke-width="0.9" fill="none"/><g clip-path="url(#clipb)" fill="none"><path d="M36.20,480.63 L36.49,476.87 L36.51,476.65 L36.53,476.42 L36.55,476.17 L36.57,475.91 L36.59,475.63 L36.61,475.33 L36.64,475.02 L36.66,474.70 L36.69,474.35 L36.72,473.98 L36.75,473.59 L36.78,473.18 L36.82,472.75 L36.86,472.29 L36.90,471.81 L36.94,471.30 L36.98,470.76 L37.03,470.19 L37.08,469.60 L37.13,468.96 L37.19,468.30 L37.25,467.60 L37.31,466.86 L37.38,466.08 L37.45,465.26 L37.52,464.39 L37.60,463.48 L37.68,462.53 L37.77,461.52 L37.87,460.47 L37.97,459.36 L38.07,458.19 L38.19,456.97 L38.30,455.69 L38.43,454.35 L38.57,452.94 L38.71,451.47 L38.86,449.93 L39.02,448.32 L39.19,446.64 L39.37,444.89 L39.56,443.06 L39.76,441.16 L39.97,439.17 L40.20,437.11 L40.44,434.96 L40.69,432.74 L40.96,430.43 L41.24,428.04 L41.55,425.56 L41.87,423.00 L42.21,420.36 L42.57,417.64 L42.95,414.83 L43.36,411.95 L43.79,408.98 L44.24,405.94 L44.72,402.82 L45.23,399.64 L45.78,396.38 L46.35,393.06 L46.96,389.68 L47.61,386.24 L48.29,382.74 L49.02,379.20 L49.78,375.62 L50.60,372.00 L51.46,368.35 L52.38,364.67 L53.35,360.97 L54.38,357.26 L55.47,353.54 L56.63,349.82 L57.85,346.11 L59.15,342.41 L60.53,338.72 L61.99,335.06 L63.53,331.43 L65.17,327.84 L66.91,324.28 L68.76,320.77 L70.71,317.32 L72.78,313.91 L74.97,310.57 L77.30,307.29 L79.77,304.08 L82.38,300.95 L85.15,297.88 L88.09,294.89 L91.20,291.98 L94.50,289.15 L98.00,286.40 L101.71,283.73 L105.64,281.14 L109.80,278.64 L114.22,276.22 L118.90,273.89 L123.86,271.64 L129.12,269.47 L134.70,267.38 L140.61,265.37 L146.87,263.44 L153.51,261.58 L160.55,259.81 L168.01,258.10 L175.92,256.47 L184.31,254.91 L193.19,253.42 L202.61,251.99 L212.60,250.63 L223.18,249.33 L234.40,248.09 L246.29,246.90 L258.90,245.78 L272.26,244.71 L286.42,243.68 L301.44,242.71 L317.35,241.79 L335.21,240.86" stroke="#ffa500" stroke-width="1.25" stroke-dasharray="1.3 1.7"/><path d="M36.20,480.63 L36.49,477.44 L36.51,477.25 L36.53,477.05 L36.55,476.84 L36.57,476.61 L36.59,476.38 L36.61,476.13 L36.64,475.86 L36.66,475.58 L36.69,475.29 L36.72,474.98 L36.75,474.65 L36.78,474.30 L36.82,473.93 L36.86,473.54 L36.90,473.13 L36.94,472.70 L36.98,472.24 L37.03,471.76 L37.08,471.25 L37.13,470.71 L37.19,470.14 L37.25,469.55 L37.31,468.92 L37.38,468.25 L37.45,467.56 L37.52,466.82 L37.60,466.05 L37.68,465.24 L37.77,464.38 L37.87,463.48 L37.97,462.54 L38.07,461.55 L38.19,460.51 L38.30,459.42 L38.43,458.28 L38.57,457.09 L38.71,455.84 L38.86,454.53 L39.02,453.16 L39.19,451.73 L39.37,450.24 L39.56,448.68 L39.76,447.06 L39.97,445.38 L40.20,443.62 L40.44,441.80 L40.69,439.91 L40.96,437.94 L41.24,435.91 L41.55,433.80 L41.87,431.63 L42.21,429.38 L42.57,427.07 L42.95,424.68 L43.36,422.23 L43.79,419.70 L44.24,417.12 L44.72,414.47 L45.23,411.76 L45.78,408.99 L46.35,406.16 L46.96,403.29 L47.61,400.36 L48.29,397.39 L49.02,394.38 L49.78,391.34 L50.60,388.26 L51.46,385.15 L52.38,382.02 L53.35,378.88 L54.38,375.73 L55.47,372.56 L56.63,369.40 L57.85,366.24 L59.15,363.09 L60.53,359.96 L61.99,356.85 L63.53,353.76 L65.17,350.70 L66.91,347.68 L68.76,344.70 L70.71,341.76 L72.78,338.86 L74.97,336.02 L77.30,333.24 L79.77,330.51 L82.38,327.84 L85.15,325.23 L88.09,322.69 L91.20,320.21 L94.50,317.80 L98.00,315.47 L101.71,313.20 L105.64,311.00 L109.80,308.87 L114.22,306.82 L118.90,304.83 L123.86,302.91 L129.12,301.07 L134.70,299.29 L140.61,297.58 L146.87,295.94 L153.51,294.37 L160.55,292.85 L168.01,291.41 L175.92,290.02 L184.31,288.69 L193.19,287.42 L202.61,286.21 L212.60,285.05 L223.18,283.94 L234.40,282.89 L246.29,281.88 L258.90,280.93 L272.26,280.01 L286.42,279.15 L301.44,278.32 L317.35,277.53 L335.21,276.75" stroke="#ffa500" stroke-width="1.15" stroke-dasharray="2.6 1.5"/><path d="M36.20,480.63 L36.49,478.02 L36.51,477.87 L36.53,477.70 L36.55,477.53 L36.57,477.35 L36.59,477.16 L36.61,476.95 L36.64,476.74 L36.66,476.51 L36.69,476.27 L36.72,476.01 L36.75,475.74 L36.78,475.46 L36.82,475.16 L36.86,474.84 L36.90,474.51 L36.94,474.15 L36.98,473.78 L37.03,473.38 L37.08,472.97 L37.13,472.53 L37.19,472.07 L37.25,471.58 L37.31,471.07 L37.38,470.52 L37.45,469.95 L37.52,469.35 L37.60,468.72 L37.68,468.06 L37.77,467.36 L37.87,466.63 L37.97,465.86 L38.07,465.05 L38.19,464.20 L38.30,463.31 L38.43,462.38 L38.57,461.41 L38.71,460.38 L38.86,459.31 L39.02,458.20 L39.19,457.03 L39.37,455.81 L39.56,454.54 L39.76,453.22 L39.97,451.84 L40.20,450.41 L40.44,448.92 L40.69,447.37 L40.96,445.77 L41.24,444.11 L41.55,442.39 L41.87,440.62 L42.21,438.78 L42.57,436.89 L42.95,434.94 L43.36,432.94 L43.79,430.88 L44.24,428.77 L44.72,426.60 L45.23,424.39 L45.78,422.13 L46.35,419.82 L46.96,417.47 L47.61,415.09 L48.29,412.66 L49.02,410.20 L49.78,407.71 L50.60,405.20 L51.46,402.66 L52.38,400.11 L53.35,397.54 L54.38,394.97 L55.47,392.39 L56.63,389.80 L57.85,387.22 L59.15,384.65 L60.53,382.09 L61.99,379.55 L63.53,377.03 L65.17,374.53 L66.91,372.07 L68.76,369.63 L70.71,367.23 L72.78,364.87 L74.97,362.55 L77.30,360.27 L79.77,358.04 L82.38,355.86 L85.15,353.73 L88.09,351.66 L91.20,349.64 L94.50,347.67 L98.00,345.76 L101.71,343.91 L105.64,342.11 L109.80,340.38 L114.22,338.70 L118.90,337.08 L123.86,335.51 L129.12,334.00 L134.70,332.55 L140.61,331.16 L146.87,329.82 L153.51,328.53 L160.55,327.30 L168.01,326.11 L175.92,324.98 L184.31,323.90 L193.19,322.86 L202.61,321.87 L212.60,320.92 L223.18,320.02 L234.40,319.16 L246.29,318.34 L258.90,317.56 L272.26,316.81 L286.42,316.10 L301.44,315.43 L317.35,314.79 L335.21,314.14" stroke="#ffa500" stroke-width="0.75" stroke-opacity="0.9"/><path d="M36.20,480.63 L36.49,476.52 L36.51,476.28 L36.53,476.03 L36.55,475.76 L36.57,475.48 L36.59,475.18 L36.61,474.86 L36.64,474.53 L36.66,474.18 L36.69,473.80 L36.72,473.41 L36.75,473.00 L36.78,472.56 L36.82,472.10 L36.86,471.62 L36.90,471.11 L36.94,470.57 L36.98,470.01 L37.03,469.41 L37.08,468.79 L37.13,468.13 L37.19,467.44 L37.25,466.71 L37.31,465.95 L37.38,465.15 L37.45,464.31 L37.52,463.43 L37.60,462.51 L37.68,461.55 L37.77,460.54 L37.87,459.48 L37.97,458.38 L38.07,457.23 L38.19,456.03 L38.30,454.78 L38.43,453.48 L38.57,452.13 L38.71,450.72 L38.86,449.26 L39.02,447.75 L39.19,446.18 L39.37,444.56 L39.56,442.88 L39.76,441.14 L39.97,439.36 L40.20,437.51 L40.44,435.62 L40.69,433.67 L40.96,431.67 L41.24,429.62 L41.55,427.53 L41.87,425.39 L42.21,423.20 L42.57,420.98 L42.95,418.71 L43.36,416.42 L43.79,414.09 L44.24,411.73 L44.72,409.34 L45.23,406.94 L45.78,404.51 L46.35,402.08 L46.96,399.63 L47.61,397.18 L48.29,394.72 L49.02,392.27 L49.78,389.83 L50.60,387.40 L51.46,384.98 L52.38,382.58 L53.35,380.21 L54.38,377.86 L55.47,375.54 L56.63,373.26 L57.85,371.01 L59.15,368.80 L60.53,366.63 L61.99,364.51 L63.53,362.43 L65.17,360.40 L66.91,358.42 L68.76,356.49 L70.71,354.62 L72.78,352.80 L74.97,351.03 L77.30,349.32 L79.77,347.66 L82.38,346.05 L85.15,344.51 L88.09,343.01 L91.20,341.57 L94.50,340.19 L98.00,338.86 L101.71,337.57 L105.64,336.34 L109.80,335.17 L114.22,334.03 L118.90,332.95 L123.86,331.92 L129.12,330.92 L134.70,329.98 L140.61,329.07 L146.87,328.21 L153.51,327.38 L160.55,326.60 L168.01,325.85 L175.92,325.14 L184.31,324.46 L193.19,323.82 L202.61,323.20 L212.60,322.62 L223.18,322.06 L234.40,321.54 L246.29,321.04 L258.90,320.56 L272.26,320.11 L286.42,319.69 L301.44,319.28 L317.35,318.90 L335.21,318.51" stroke="#0000ff" stroke-width="1.25" stroke-dasharray="1.3 1.7"/><path d="M36.20,480.63 L36.49,477.16 L36.51,476.96 L36.53,476.75 L36.55,476.52 L36.57,476.28 L36.59,476.03 L36.61,475.76 L36.64,475.48 L36.66,475.19 L36.69,474.87 L36.72,474.54 L36.75,474.19 L36.78,473.83 L36.82,473.44 L36.86,473.03 L36.90,472.60 L36.94,472.15 L36.98,471.67 L37.03,471.17 L37.08,470.64 L37.13,470.08 L37.19,469.50 L37.25,468.89 L37.31,468.25 L37.38,467.57 L37.45,466.86 L37.52,466.12 L37.60,465.35 L37.68,464.53 L37.77,463.68 L37.87,462.79 L37.97,461.86 L38.07,460.89 L38.19,459.88 L38.30,458.83 L38.43,457.73 L38.57,456.59 L38.71,455.41 L38.86,454.17 L39.02,452.90 L39.19,451.57 L39.37,450.20 L39.56,448.79 L39.76,447.32 L39.97,445.82 L40.20,444.26 L40.44,442.66 L40.69,441.02 L40.96,439.33 L41.24,437.61 L41.55,435.84 L41.87,434.03 L42.21,432.19 L42.57,430.31 L42.95,428.41 L43.36,426.47 L43.79,424.50 L44.24,422.51 L44.72,420.50 L45.23,418.47 L45.78,416.43 L46.35,414.37 L46.96,412.31 L47.61,410.24 L48.29,408.17 L49.02,406.10 L49.78,404.04 L50.60,401.99 L51.46,399.95 L52.38,397.93 L53.35,395.93 L54.38,393.95 L55.47,391.99 L56.63,390.06 L57.85,388.17 L59.15,386.30 L60.53,384.47 L61.99,382.68 L63.53,380.93 L65.17,379.22 L66.91,377.55 L68.76,375.92 L70.71,374.34 L72.78,372.81 L74.97,371.32 L77.30,369.87 L79.77,368.47 L82.38,367.12 L85.15,365.81 L88.09,364.55 L91.20,363.34 L94.50,362.17 L98.00,361.05 L101.71,359.97 L105.64,358.93 L109.80,357.93 L114.22,356.98 L118.90,356.07 L123.86,355.19 L129.12,354.36 L134.70,353.56 L140.61,352.79 L146.87,352.07 L153.51,351.37 L160.55,350.71 L168.01,350.08 L175.92,349.48 L184.31,348.91 L193.19,348.36 L202.61,347.84 L212.60,347.35 L223.18,346.88 L234.40,346.44 L246.29,346.02 L258.90,345.62 L272.26,345.24 L286.42,344.88 L301.44,344.54 L317.35,344.21 L335.21,343.89" stroke="#0000ff" stroke-width="1.15" stroke-dasharray="2.6 1.5"/><path d="M36.20,480.63 L36.49,477.81 L36.51,477.64 L36.53,477.47 L36.55,477.29 L36.57,477.09 L36.59,476.89 L36.61,476.67 L36.64,476.44 L36.66,476.20 L36.69,475.94 L36.72,475.67 L36.75,475.39 L36.78,475.09 L36.82,474.78 L36.86,474.44 L36.90,474.09 L36.94,473.73 L36.98,473.34 L37.03,472.93 L37.08,472.50 L37.13,472.05 L37.19,471.57 L37.25,471.07 L37.31,470.55 L37.38,470.00 L37.45,469.43 L37.52,468.82 L37.60,468.19 L37.68,467.53 L37.77,466.84 L37.87,466.11 L37.97,465.36 L38.07,464.57 L38.19,463.74 L38.30,462.89 L38.43,461.99 L38.57,461.07 L38.71,460.10 L38.86,459.10 L39.02,458.06 L39.19,456.98 L39.37,455.87 L39.56,454.71 L39.76,453.52 L39.97,452.29 L40.20,451.03 L40.44,449.73 L40.69,448.39 L40.96,447.02 L41.24,445.61 L41.55,444.18 L41.87,442.71 L42.21,441.21 L42.57,439.68 L42.95,438.13 L43.36,436.55 L43.79,434.95 L44.24,433.33 L44.72,431.69 L45.23,430.04 L45.78,428.38 L46.35,426.70 L46.96,425.02 L47.61,423.34 L48.29,421.66 L49.02,419.97 L49.78,418.30 L50.60,416.63 L51.46,414.97 L52.38,413.32 L53.35,411.69 L54.38,410.08 L55.47,408.49 L56.63,406.92 L57.85,405.38 L59.15,403.86 L60.53,402.37 L61.99,400.91 L63.53,399.49 L65.17,398.09 L66.91,396.73 L68.76,395.41 L70.71,394.12 L72.78,392.87 L74.97,391.66 L77.30,390.48 L79.77,389.35 L82.38,388.25 L85.15,387.18 L88.09,386.16 L91.20,385.17 L94.50,384.22 L98.00,383.30 L101.71,382.42 L105.64,381.58 L109.80,380.77 L114.22,379.99 L118.90,379.25 L123.86,378.54 L129.12,377.86 L134.70,377.21 L140.61,376.59 L146.87,375.99 L153.51,375.43 L160.55,374.89 L168.01,374.38 L175.92,373.89 L184.31,373.42 L193.19,372.98 L202.61,372.56 L212.60,372.16 L223.18,371.78 L234.40,371.41 L246.29,371.07 L258.90,370.75 L272.26,370.44 L286.42,370.14 L301.44,369.86 L317.35,369.60 L335.21,369.34" stroke="#0000ff" stroke-width="0.75" stroke-opacity="0.9"/><path d="M36.20,480.63 L36.49,476.61 L36.51,476.38 L36.53,476.13 L36.55,475.88 L36.57,475.61 L36.59,475.32 L36.61,475.02 L36.64,474.70 L36.66,474.37 L36.69,474.02 L36.72,473.65 L36.75,473.26 L36.78,472.86 L36.82,472.43 L36.86,471.98 L36.90,471.51 L36.94,471.01 L36.98,470.49 L37.03,469.95 L37.08,469.38 L37.13,468.78 L37.19,468.16 L37.25,467.51 L37.31,466.83 L37.38,466.12 L37.45,465.38 L37.52,464.61 L37.60,463.81 L37.68,462.98 L37.77,462.12 L37.87,461.22 L37.97,460.29 L38.07,459.33 L38.19,458.34 L38.30,457.31 L38.43,456.25 L38.57,455.16 L38.71,454.04 L38.86,452.88 L39.02,451.70 L39.19,450.48 L39.37,449.24 L39.56,447.97 L39.76,446.67 L39.97,445.35 L40.20,444.00 L40.44,442.63 L40.69,441.25 L40.96,439.84 L41.24,438.42 L41.55,436.99 L41.87,435.55 L42.21,434.09 L42.57,432.64 L42.95,431.17 L43.36,429.71 L43.79,428.25 L44.24,426.79 L44.72,425.34 L45.23,423.89 L45.78,422.46 L46.35,421.04 L46.96,419.63 L47.61,418.24 L48.29,416.87 L49.02,415.53 L49.78,414.20 L50.60,412.90 L51.46,411.63 L52.38,410.38 L53.35,409.17 L54.38,407.98 L55.47,406.82 L56.63,405.69 L57.85,404.60 L59.15,403.54 L60.53,402.51 L61.99,401.51 L63.53,400.55 L65.17,399.61 L66.91,398.72 L68.76,397.85 L70.71,397.02 L72.78,396.21 L74.97,395.44 L77.30,394.70 L79.77,393.99 L82.38,393.31 L85.15,392.66 L88.09,392.03 L91.20,391.43 L94.50,390.86 L98.00,390.32 L101.71,389.79 L105.64,389.30 L109.80,388.82 L114.22,388.37 L118.90,387.94 L123.86,387.53 L129.12,387.14 L134.70,386.77 L140.61,386.42 L146.87,386.09 L153.51,385.77 L160.55,385.47 L168.01,385.18 L175.92,384.91 L184.31,384.65 L193.19,384.40 L202.61,384.17 L212.60,383.95 L223.18,383.74 L234.40,383.55 L246.29,383.36 L258.90,383.18 L272.26,383.02 L286.42,382.86 L301.44,382.71 L317.35,382.56 L335.21,382.42" stroke="#008000" stroke-width="1.25" stroke-dasharray="1.3 1.7"/><path d="M36.20,480.63 L36.49,477.25 L36.51,477.06 L36.53,476.85 L36.55,476.64 L36.57,476.41 L36.59,476.17 L36.61,475.92 L36.64,475.65 L36.66,475.37 L36.69,475.07 L36.72,474.76 L36.75,474.44 L36.78,474.10 L36.82,473.74 L36.86,473.36 L36.90,472.96 L36.94,472.55 L36.98,472.11 L37.03,471.65 L37.08,471.17 L37.13,470.67 L37.19,470.15 L37.25,469.60 L37.31,469.03 L37.38,468.44 L37.45,467.82 L37.52,467.17 L37.60,466.50 L37.68,465.80 L37.77,465.07 L37.87,464.32 L37.97,463.54 L38.07,462.73 L38.19,461.90 L38.30,461.03 L38.43,460.14 L38.57,459.22 L38.71,458.28 L38.86,457.31 L39.02,456.31 L39.19,455.29 L39.37,454.25 L39.56,453.18 L39.76,452.09 L39.97,450.98 L40.20,449.85 L40.44,448.70 L40.69,447.53 L40.96,446.35 L41.24,445.16 L41.55,443.96 L41.87,442.74 L42.21,441.52 L42.57,440.30 L42.95,439.07 L43.36,437.84 L43.79,436.61 L44.24,435.38 L44.72,434.16 L45.23,432.95 L45.78,431.74 L46.35,430.55 L46.96,429.37 L47.61,428.20 L48.29,427.05 L49.02,425.92 L49.78,424.80 L50.60,423.71 L51.46,422.64 L52.38,421.60 L53.35,420.57 L54.38,419.57 L55.47,418.60 L56.63,417.65 L57.85,416.73 L59.15,415.84 L60.53,414.98 L61.99,414.14 L63.53,413.33 L65.17,412.55 L66.91,411.79 L68.76,411.06 L70.71,410.36 L72.78,409.69 L74.97,409.04 L77.30,408.41 L79.77,407.82 L82.38,407.24 L85.15,406.70 L88.09,406.17 L91.20,405.67 L94.50,405.19 L98.00,404.73 L101.71,404.29 L105.64,403.87 L109.80,403.48 L114.22,403.10 L118.90,402.74 L123.86,402.39 L129.12,402.06 L134.70,401.75 L140.61,401.46 L146.87,401.18 L153.51,400.91 L160.55,400.65 L168.01,400.41 L175.92,400.18 L184.31,399.97 L193.19,399.76 L202.61,399.57 L212.60,399.38 L223.18,399.21 L234.40,399.04 L246.29,398.88 L258.90,398.74 L272.26,398.59 L286.42,398.46 L301.44,398.34 L317.35,398.22 L335.21,398.10" stroke="#008000" stroke-width="1.15" stroke-dasharray="2.6 1.5"/><path d="M36.20,480.63 L36.49,477.90 L36.51,477.75 L36.53,477.58 L36.55,477.41 L36.57,477.22 L36.59,477.03 L36.61,476.83 L36.64,476.61 L36.66,476.39 L36.69,476.15 L36.72,475.90 L36.75,475.63 L36.78,475.36 L36.82,475.07 L36.86,474.76 L36.90,474.44 L36.94,474.11 L36.98,473.75 L37.03,473.39 L37.08,473.00 L37.13,472.60 L37.19,472.17 L37.25,471.73 L37.31,471.27 L37.38,470.79 L37.45,470.29 L37.52,469.77 L37.60,469.23 L37.68,468.66 L37.77,468.08 L37.87,467.47 L37.97,466.84 L38.07,466.19 L38.19,465.51 L38.30,464.82 L38.43,464.10 L38.57,463.36 L38.71,462.60 L38.86,461.81 L39.02,461.01 L39.19,460.18 L39.37,459.34 L39.56,458.48 L39.76,457.60 L39.97,456.70 L40.20,455.79 L40.44,454.86 L40.69,453.92 L40.96,452.97 L41.24,452.01 L41.55,451.04 L41.87,450.06 L42.21,449.07 L42.57,448.08 L42.95,447.09 L43.36,446.10 L43.79,445.11 L44.24,444.12 L44.72,443.13 L45.23,442.15 L45.78,441.18 L46.35,440.22 L46.96,439.26 L47.61,438.32 L48.29,437.40 L49.02,436.48 L49.78,435.58 L50.60,434.70 L51.46,433.84 L52.38,432.99 L53.35,432.17 L54.38,431.36 L55.47,430.58 L56.63,429.81 L57.85,429.07 L59.15,428.35 L60.53,427.65 L61.99,426.98 L63.53,426.32 L65.17,425.69 L66.91,425.08 L68.76,424.49 L70.71,423.93 L72.78,423.38 L74.97,422.86 L77.30,422.36 L79.77,421.88 L82.38,421.41 L85.15,420.97 L88.09,420.55 L91.20,420.14 L94.50,419.76 L98.00,419.39 L101.71,419.03 L105.64,418.70 L109.80,418.37 L114.22,418.07 L118.90,417.78 L123.86,417.50 L129.12,417.23 L134.70,416.98 L140.61,416.74 L146.87,416.52 L153.51,416.30 L160.55,416.10 L168.01,415.90 L175.92,415.72 L184.31,415.54 L193.19,415.38 L202.61,415.22 L212.60,415.07 L223.18,414.93 L234.40,414.80 L246.29,414.67 L258.90,414.55 L272.26,414.43 L286.42,414.33 L301.44,414.23 L317.35,414.13 L335.21,414.03" stroke="#008000" stroke-width="0.75" stroke-opacity="0.9"/><path d="M36.20,480.63 L36.49,477.25 L36.51,477.06 L36.53,476.86 L36.55,476.65 L36.57,476.43 L36.59,476.20 L36.61,475.96 L36.64,475.70 L36.66,475.43 L36.69,475.15 L36.72,474.86 L36.75,474.55 L36.78,474.23 L36.82,473.89 L36.86,473.54 L36.90,473.17 L36.94,472.78 L36.98,472.38 L37.03,471.96 L37.08,471.53 L37.13,471.08 L37.19,470.61 L37.25,470.12 L37.31,469.61 L37.38,469.09 L37.45,468.55 L37.52,467.99 L37.60,467.41 L37.68,466.81 L37.77,466.20 L37.87,465.57 L37.97,464.92 L38.07,464.25 L38.19,463.57 L38.30,462.87 L38.43,462.16 L38.57,461.43 L38.71,460.69 L38.86,459.94 L39.02,459.18 L39.19,458.40 L39.37,457.62 L39.56,456.83 L39.76,456.03 L39.97,455.23 L40.20,454.42 L40.44,453.61 L40.69,452.80 L40.96,451.99 L41.24,451.18 L41.55,450.37 L41.87,449.57 L42.21,448.77 L42.57,447.98 L42.95,447.20 L43.36,446.42 L43.79,445.66 L44.24,444.91 L44.72,444.16 L45.23,443.44 L45.78,442.72 L46.35,442.03 L46.96,441.34 L47.61,440.68 L48.29,440.03 L49.02,439.39 L49.78,438.78 L50.60,438.18 L51.46,437.60 L52.38,437.04 L53.35,436.49 L54.38,435.97 L55.47,435.46 L56.63,434.97 L57.85,434.50 L59.15,434.05 L60.53,433.61 L61.99,433.19 L63.53,432.79 L65.17,432.40 L66.91,432.03 L68.76,431.68 L70.71,431.34 L72.78,431.02 L74.97,430.71 L77.30,430.41 L79.77,430.13 L82.38,429.86 L85.15,429.60 L88.09,429.36 L91.20,429.13 L94.50,428.91 L98.00,428.69 L101.71,428.49 L105.64,428.30 L109.80,428.12 L114.22,427.95 L118.90,427.79 L123.86,427.63 L129.12,427.49 L134.70,427.35 L140.61,427.22 L146.87,427.09 L153.51,426.97 L160.55,426.86 L168.01,426.75 L175.92,426.65 L184.31,426.56 L193.19,426.47 L202.61,426.38 L212.60,426.30 L223.18,426.22 L234.40,426.15 L246.29,426.08 L258.90,426.02 L272.26,425.96 L286.42,425.90 L301.44,425.84 L317.35,425.79 L335.21,425.74" stroke="#ff0000" stroke-width="1.25" stroke-dasharray="1.3 1.7"/><path d="M36.20,480.63 L36.49,477.79 L36.51,477.63 L36.53,477.47 L36.55,477.29 L36.57,477.11 L36.59,476.91 L36.61,476.71 L36.64,476.49 L36.66,476.27 L36.69,476.03 L36.72,475.78 L36.75,475.53 L36.78,475.25 L36.82,474.97 L36.86,474.67 L36.90,474.37 L36.94,474.04 L36.98,473.71 L37.03,473.35 L37.08,472.99 L37.13,472.61 L37.19,472.22 L37.25,471.81 L37.31,471.38 L37.38,470.94 L37.45,470.49 L37.52,470.02 L37.60,469.53 L37.68,469.03 L37.77,468.51 L37.87,467.98 L37.97,467.44 L38.07,466.88 L38.19,466.31 L38.30,465.72 L38.43,465.12 L38.57,464.51 L38.71,463.89 L38.86,463.26 L39.02,462.62 L39.19,461.97 L39.37,461.31 L39.56,460.65 L39.76,459.98 L39.97,459.31 L40.20,458.63 L40.44,457.95 L40.69,457.27 L40.96,456.59 L41.24,455.91 L41.55,455.23 L41.87,454.55 L42.21,453.88 L42.57,453.22 L42.95,452.56 L43.36,451.91 L43.79,451.27 L44.24,450.64 L44.72,450.02 L45.23,449.41 L45.78,448.81 L46.35,448.22 L46.96,447.65 L47.61,447.09 L48.29,446.54 L49.02,446.01 L49.78,445.49 L50.60,444.99 L51.46,444.50 L52.38,444.03 L53.35,443.58 L54.38,443.13 L55.47,442.71 L56.63,442.30 L57.85,441.90 L59.15,441.52 L60.53,441.16 L61.99,440.80 L63.53,440.47 L65.17,440.14 L66.91,439.83 L68.76,439.53 L70.71,439.25 L72.78,438.98 L74.97,438.72 L77.30,438.47 L79.77,438.23 L82.38,438.01 L85.15,437.79 L88.09,437.59 L91.20,437.39 L94.50,437.21 L98.00,437.03 L101.71,436.86 L105.64,436.70 L109.80,436.55 L114.22,436.40 L118.90,436.27 L123.86,436.14 L129.12,436.01 L134.70,435.90 L140.61,435.79 L146.87,435.68 L153.51,435.58 L160.55,435.49 L168.01,435.40 L175.92,435.31 L184.31,435.23 L193.19,435.16 L202.61,435.09 L212.60,435.02 L223.18,434.95 L234.40,434.89 L246.29,434.83 L258.90,434.78 L272.26,434.73 L286.42,434.68 L301.44,434.63 L317.35,434.59 L335.21,434.55" stroke="#ff0000" stroke-width="1.15" stroke-dasharray="2.6 1.5"/><path d="M36.20,480.63 L36.49,478.33 L36.51,478.20 L36.53,478.07 L36.55,477.92 L36.57,477.77 L36.59,477.62 L36.61,477.45 L36.64,477.28 L36.66,477.09 L36.69,476.90 L36.72,476.70 L36.75,476.49 L36.78,476.27 L36.82,476.04 L36.86,475.80 L36.90,475.55 L36.94,475.29 L36.98,475.02 L37.03,474.73 L37.08,474.44 L37.13,474.13 L37.19,473.81 L37.25,473.48 L37.31,473.13 L37.38,472.78 L37.45,472.41 L37.52,472.03 L37.60,471.63 L37.68,471.23 L37.77,470.81 L37.87,470.38 L37.97,469.94 L38.07,469.48 L38.19,469.02 L38.30,468.55 L38.43,468.06 L38.57,467.57 L38.71,467.06 L38.86,466.55 L39.02,466.03 L39.19,465.51 L39.37,464.97 L39.56,464.44 L39.76,463.89 L39.97,463.35 L40.20,462.80 L40.44,462.25 L40.69,461.69 L40.96,461.14 L41.24,460.59 L41.55,460.04 L41.87,459.49 L42.21,458.95 L42.57,458.41 L42.95,457.88 L43.36,457.35 L43.79,456.83 L44.24,456.32 L44.72,455.82 L45.23,455.32 L45.78,454.84 L46.35,454.36 L46.96,453.90 L47.61,453.44 L48.29,453.00 L49.02,452.57 L49.78,452.15 L50.60,451.74 L51.46,451.35 L52.38,450.97 L53.35,450.60 L54.38,450.24 L55.47,449.89 L56.63,449.56 L57.85,449.24 L59.15,448.93 L60.53,448.64 L61.99,448.35 L63.53,448.08 L65.17,447.81 L66.91,447.56 L68.76,447.32 L70.71,447.09 L72.78,446.87 L74.97,446.66 L77.30,446.46 L79.77,446.27 L82.38,446.08 L85.15,445.91 L88.09,445.74 L91.20,445.58 L94.50,445.43 L98.00,445.29 L101.71,445.15 L105.64,445.03 L109.80,444.90 L114.22,444.79 L118.90,444.67 L123.86,444.57 L129.12,444.47 L134.70,444.37 L140.61,444.28 L146.87,444.20 L153.51,444.12 L160.55,444.04 L168.01,443.97 L175.92,443.90 L184.31,443.84 L193.19,443.77 L202.61,443.72 L212.60,443.66 L223.18,443.61 L234.40,443.56 L246.29,443.51 L258.90,443.47 L272.26,443.43 L286.42,443.39 L301.44,443.35 L317.35,443.32 L335.21,443.28" stroke="#ff0000" stroke-width="0.75" stroke-opacity="0.9"/></g><g transform="translate(64.90 328.42) rotate(-64.98)"><rect x="-18.15" y="-3.4" width="36.30" height="6.8" fill="#fff"/><text x="-15.75" y="2.90" font-size="8" fill="#ffa500" textLength="31.50" lengthAdjust="spacingAndGlyphs" stroke="#ffa500" stroke-width="0.15">E/S=2.5</text></g><g transform="translate(67.20 347.20) rotate(-58.93)"><rect x="-18.15" y="-3.4" width="36.30" height="6.8" fill="#fff"/><text x="-15.75" y="2.90" font-size="8" fill="#ffa500" textLength="31.50" lengthAdjust="spacingAndGlyphs" stroke="#ffa500" stroke-width="0.15">E/S=2.5</text></g><g transform="translate(70.00 368.08) rotate(-50.57)"><rect x="-18.15" y="-3.4" width="36.30" height="6.8" fill="#fff"/><text x="-15.75" y="2.90" font-size="8" fill="#ffa500" textLength="31.50" lengthAdjust="spacingAndGlyphs" stroke="#ffa500" stroke-width="0.15">E/S=2.5</text></g><g transform="translate(92.60 340.97) rotate(-22.92)"><rect x="-14.40" y="-3.4" width="28.80" height="6.8" fill="#fff"/><text x="-12.00" y="2.90" font-size="8" fill="#0000ff" textLength="24.00" lengthAdjust="spacingAndGlyphs" stroke="#0000ff" stroke-width="0.15">E/S=5</text></g><g transform="translate(93.50 362.51) rotate(-19.15)"><rect x="-14.40" y="-3.4" width="28.80" height="6.8" fill="#fff"/><text x="-12.00" y="2.90" font-size="8" fill="#0000ff" textLength="24.00" lengthAdjust="spacingAndGlyphs" stroke="#0000ff" stroke-width="0.15">E/S=5</text></g><g transform="translate(94.10 384.33) rotate(-15.53)"><rect x="-14.40" y="-3.4" width="28.80" height="6.8" fill="#fff"/><text x="-12.00" y="2.90" font-size="8" fill="#0000ff" textLength="24.00" lengthAdjust="spacingAndGlyphs" stroke="#0000ff" stroke-width="0.15">E/S=5</text></g><g transform="translate(123.20 387.59) rotate(-4.53)"><rect x="-15.95" y="-3.4" width="31.90" height="6.8" fill="#fff"/><text x="-13.55" y="2.90" font-size="8" fill="#008000" textLength="27.10" lengthAdjust="spacingAndGlyphs" stroke="#008000" stroke-width="0.15">E/S=10</text></g><g transform="translate(123.20 402.44) rotate(-3.81)"><rect x="-15.95" y="-3.4" width="31.90" height="6.8" fill="#fff"/><text x="-13.55" y="2.90" font-size="8" fill="#008000" textLength="27.10" lengthAdjust="spacingAndGlyphs" stroke="#008000" stroke-width="0.15">E/S=10</text></g><g transform="translate(123.20 417.53) rotate(-3.08)"><rect x="-15.95" y="-3.4" width="31.90" height="6.8" fill="#fff"/><text x="-13.55" y="2.90" font-size="8" fill="#008000" textLength="27.10" lengthAdjust="spacingAndGlyphs" stroke="#008000" stroke-width="0.15">E/S=10</text></g><g transform="translate(152.40 426.99) rotate(-0.99)"><rect x="-16.00" y="-3.4" width="32.00" height="6.8" fill="#fff"/><text x="-13.60" y="2.90" font-size="8" fill="#ff0000" textLength="27.20" lengthAdjust="spacingAndGlyphs" stroke="#ff0000" stroke-width="0.15">E/S=20</text></g><g transform="translate(152.40 435.60) rotate(-0.83)"><rect x="-16.00" y="-3.4" width="32.00" height="6.8" fill="#fff"/><text x="-13.60" y="2.90" font-size="8" fill="#ff0000" textLength="27.20" lengthAdjust="spacingAndGlyphs" stroke="#ff0000" stroke-width="0.15">E/S=20</text></g><g transform="translate(152.40 444.13) rotate(-0.67)"><rect x="-16.00" y="-3.4" width="32.00" height="6.8" fill="#fff"/><text x="-13.60" y="2.90" font-size="8" fill="#ff0000" textLength="27.20" lengthAdjust="spacingAndGlyphs" stroke="#ff0000" stroke-width="0.15">E/S=20</text></g><rect x="36.2" y="250.4" width="290.30" height="226.20" fill="none" stroke="#7a7a7a" stroke-width="1.1"/><path d="M34.60 442.26 H36.2 M34.60 403.89 H36.2 M34.60 365.51 H36.2 M34.60 327.14 H36.2 M34.60 288.77 H36.2 M34.60 250.40 H36.2 M72.49 476.6 V478.20 M108.78 476.6 V478.20 M145.06 476.6 V478.20 M181.35 476.6 V478.20 M217.64 476.6 V478.20 M253.93 476.6 V478.20 M290.21 476.6 V478.20 M326.50 476.6 V478.20" stroke="#555" stroke-width="0.9"/><text x="33.10" y="446.61" font-size="12.2" fill="#111" text-anchor="end" textLength="20.10" lengthAdjust="spacingAndGlyphs" stroke="#111" stroke-width="0.2">100</text><text x="33.10" y="408.24" font-size="12.2" fill="#111" text-anchor="end" textLength="20.10" lengthAdjust="spacingAndGlyphs" stroke="#111" stroke-width="0.2">200</text><text x="33.10" y="369.86" font-size="12.2" fill="#111" text-anchor="end" textLength="20.10" lengthAdjust="spacingAndGlyphs" stroke="#111" stroke-width="0.2">300</text><text x="33.10" y="331.49" font-size="12.2" fill="#111" text-anchor="end" textLength="20.10" lengthAdjust="spacingAndGlyphs" stroke="#111" stroke-width="0.2">400</text><text x="33.10" y="293.12" font-size="12.2" fill="#111" text-anchor="end" textLength="20.10" lengthAdjust="spacingAndGlyphs" stroke="#111" stroke-width="0.2">500</text><text x="33.10" y="254.75" font-size="12.2" fill="#111" text-anchor="end" textLength="20.10" lengthAdjust="spacingAndGlyphs" stroke="#111" stroke-width="0.2">600</text><text x="72.49" y="487.50" font-size="12.2" fill="#111" text-anchor="middle" textLength="15.50" lengthAdjust="spacingAndGlyphs" stroke="#111" stroke-width="0.2">2.5</text><text x="108.78" y="487.50" font-size="12.2" fill="#111" text-anchor="middle" textLength="15.50" lengthAdjust="spacingAndGlyphs" stroke="#111" stroke-width="0.2">5.0</text><text x="145.06" y="487.50" font-size="12.2" fill="#111" text-anchor="middle" textLength="15.50" lengthAdjust="spacingAndGlyphs" stroke="#111" stroke-width="0.2">7.5</text><text x="181.35" y="487.50" font-size="12.2" fill="#111" text-anchor="middle" textLength="23.40" lengthAdjust="spacingAndGlyphs" stroke="#111" stroke-width="0.2">10.0</text><text x="217.64" y="487.50" font-size="12.2" fill="#111" text-anchor="middle" textLength="23.40" lengthAdjust="spacingAndGlyphs" stroke="#111" stroke-width="0.2">12.5</text><text x="253.93" y="487.50" font-size="12.2" fill="#111" text-anchor="middle" textLength="23.40" lengthAdjust="spacingAndGlyphs" stroke="#111" stroke-width="0.2">15.0</text><text x="290.21" y="487.50" font-size="12.2" fill="#111" text-anchor="middle" textLength="23.40" lengthAdjust="spacingAndGlyphs" stroke="#111" stroke-width="0.2">17.5</text><text x="326.50" y="487.50" font-size="12.2" fill="#111" text-anchor="middle" textLength="23.40" lengthAdjust="spacingAndGlyphs" stroke="#111" stroke-width="0.2">20.0</text><text x="181.35" y="499.50" font-size="12.6" fill="#111" text-anchor="middle" textLength="132.40" lengthAdjust="spacingAndGlyphs" stroke="#111" stroke-width="0.15">Sulfur loading (mg/cm²)</text><text x="8.90" y="363.50" font-size="12.6" fill="#111" text-anchor="middle" textLength="132.00" lengthAdjust="spacingAndGlyphs" transform="rotate(-90.00 8.90 363.50)" stroke="#111" stroke-width="0.15">Specific energy (Wh/kg)</text><text x="190.90" y="307.20" font-size="12.5" fill="#800080" textLength="83.00" lengthAdjust="spacingAndGlyphs" stroke="#800080" stroke-width="0.12">Sulfur=56 wt%</text><text x="388.60" y="234.40" font-size="18.5" fill="#000" font-weight="bold">c</text><clipPath id="clipc"><rect x="382.4" y="252.1" width="290.70000000000005" height="226.29999999999998"/></clipPath><path d="M418.74 252.1 V478.4 M455.07 252.1 V478.4 M491.41 252.1 V478.4 M527.75 252.1 V478.4 M564.09 252.1 V478.4 M600.42 252.1 V478.4 M636.76 252.1 V478.4 M382.4 444.04 H673.1 M382.4 405.65 H673.1 M382.4 367.27 H673.1 M382.4 328.88 H673.1 M382.4 290.49 H673.1" stroke="#d6d6d6" stroke-width="0.9" fill="none"/><g clip-path="url(#clipc)" fill="none"><path d="M382.40,482.43 L382.69,478.45 L382.71,478.21 L382.73,477.96 L382.75,477.70 L382.77,477.42 L382.79,477.12 L382.81,476.81 L382.84,476.48 L382.86,476.13 L382.89,475.76 L382.92,475.37 L382.95,474.96 L382.98,474.53 L383.02,474.06 L383.06,473.58 L383.10,473.07 L383.14,472.52 L383.18,471.95 L383.23,471.35 L383.28,470.71 L383.33,470.04 L383.39,469.33 L383.45,468.58 L383.51,467.79 L383.58,466.96 L383.65,466.09 L383.72,465.17 L383.80,464.20 L383.89,463.18 L383.98,462.10 L384.07,460.98 L384.17,459.79 L384.28,458.55 L384.39,457.24 L384.51,455.87 L384.63,454.44 L384.77,452.93 L384.91,451.36 L385.06,449.71 L385.22,447.99 L385.39,446.18 L385.57,444.30 L385.76,442.34 L385.96,440.29 L386.17,438.16 L386.40,435.94 L386.64,433.63 L386.90,431.23 L387.17,428.74 L387.45,426.16 L387.75,423.49 L388.08,420.73 L388.42,417.87 L388.78,414.92 L389.16,411.88 L389.57,408.75 L390.00,405.53 L390.45,402.22 L390.93,398.83 L391.45,395.36 L391.99,391.81 L392.56,388.18 L393.17,384.49 L393.82,380.72 L394.51,376.90 L395.23,373.01 L396.00,369.08 L396.82,365.10 L397.68,361.08 L398.60,357.02 L399.57,352.94 L400.60,348.84 L401.70,344.73 L402.85,340.61 L404.08,336.49 L405.38,332.37 L406.76,328.28 L408.22,324.20 L409.77,320.15 L411.41,316.14 L413.15,312.16 L415.00,308.24 L416.96,304.36 L419.03,300.55 L421.23,296.80 L423.56,293.11 L426.03,289.50 L428.64,285.96 L431.42,282.50 L434.36,279.13 L437.48,275.84 L440.78,272.63 L444.28,269.52 L448.00,266.49 L451.93,263.56 L456.11,260.72 L460.53,257.97 L465.22,255.31 L470.18,252.75 L475.45,250.28 L481.04,247.89 L486.95,245.60 L493.23,243.40 L499.88,241.28 L506.92,239.25 L514.40,237.30 L522.32,235.43 L530.71,233.64 L539.61,231.93 L549.04,230.30 L559.04,228.73 L569.64,227.24 L580.87,225.82 L592.78,224.46 L605.40,223.17 L618.78,221.93 L632.97,220.76 L648.00,219.64 L663.94,218.58 L681.82,217.51" stroke="#ffa500" stroke-width="1.25" stroke-dasharray="1.3 1.7"/><path d="M382.40,482.43 L382.69,479.01 L382.71,478.80 L382.73,478.59 L382.75,478.36 L382.77,478.12 L382.79,477.87 L382.81,477.60 L382.84,477.32 L382.86,477.02 L382.89,476.70 L382.92,476.37 L382.95,476.01 L382.98,475.64 L383.02,475.24 L383.06,474.82 L383.10,474.38 L383.14,473.92 L383.18,473.42 L383.23,472.90 L383.28,472.36 L383.33,471.78 L383.39,471.17 L383.45,470.53 L383.51,469.85 L383.58,469.14 L383.65,468.38 L383.72,467.59 L383.80,466.76 L383.89,465.88 L383.98,464.96 L384.07,463.99 L384.17,462.98 L384.28,461.91 L384.39,460.78 L384.51,459.61 L384.63,458.37 L384.77,457.08 L384.91,455.73 L385.06,454.31 L385.22,452.83 L385.39,451.28 L385.57,449.66 L385.76,447.97 L385.96,446.22 L386.17,444.38 L386.40,442.47 L386.64,440.49 L386.90,438.43 L387.17,436.29 L387.45,434.07 L387.75,431.78 L388.08,429.40 L388.42,426.94 L388.78,424.41 L389.16,421.80 L389.57,419.11 L390.00,416.34 L390.45,413.50 L390.93,410.58 L391.45,407.60 L391.99,404.55 L392.56,401.43 L393.17,398.25 L393.82,395.02 L394.51,391.73 L395.23,388.39 L396.00,385.01 L396.82,381.59 L397.68,378.13 L398.60,374.65 L399.57,371.14 L400.60,367.62 L401.70,364.08 L402.85,360.54 L404.08,357.00 L405.38,353.47 L406.76,349.95 L408.22,346.44 L409.77,342.96 L411.41,339.51 L413.15,336.10 L415.00,332.72 L416.96,329.40 L419.03,326.12 L421.23,322.89 L423.56,319.72 L426.03,316.62 L428.64,313.58 L431.42,310.61 L434.36,307.71 L437.48,304.88 L440.78,302.12 L444.28,299.45 L448.00,296.85 L451.93,294.33 L456.11,291.88 L460.53,289.52 L465.22,287.24 L470.18,285.04 L475.45,282.91 L481.04,280.86 L486.95,278.89 L493.23,277.00 L499.88,275.18 L506.92,273.43 L514.40,271.76 L522.32,270.15 L530.71,268.61 L539.61,267.14 L549.04,265.74 L559.04,264.40 L569.64,263.11 L580.87,261.89 L592.78,260.72 L605.40,259.61 L618.78,258.55 L632.97,257.54 L648.00,256.58 L663.94,255.67 L681.82,254.75" stroke="#ffa500" stroke-width="1.15" stroke-dasharray="2.6 1.5"/><path d="M382.40,482.43 L382.69,479.63 L382.71,479.47 L382.73,479.29 L382.75,479.10 L382.77,478.91 L382.79,478.70 L382.81,478.48 L382.84,478.25 L382.86,478.00 L382.89,477.75 L382.92,477.47 L382.95,477.18 L382.98,476.88 L383.02,476.55 L383.06,476.21 L383.10,475.85 L383.14,475.47 L383.18,475.07 L383.23,474.64 L383.28,474.19 L383.33,473.72 L383.39,473.22 L383.45,472.70 L383.51,472.14 L383.58,471.56 L383.65,470.95 L383.72,470.30 L383.80,469.62 L383.89,468.90 L383.98,468.15 L384.07,467.36 L384.17,466.52 L384.28,465.65 L384.39,464.73 L384.51,463.77 L384.63,462.76 L384.77,461.70 L384.91,460.60 L385.06,459.44 L385.22,458.23 L385.39,456.96 L385.57,455.64 L385.76,454.26 L385.96,452.82 L386.17,451.32 L386.40,449.76 L386.64,448.14 L386.90,446.45 L387.17,444.70 L387.45,442.89 L387.75,441.01 L388.08,439.07 L388.42,437.06 L388.78,434.99 L389.16,432.85 L389.57,430.65 L390.00,428.39 L390.45,426.07 L390.93,423.68 L391.45,421.24 L391.99,418.75 L392.56,416.20 L393.17,413.60 L393.82,410.96 L394.51,408.27 L395.23,405.54 L396.00,402.78 L396.82,399.98 L397.68,397.15 L398.60,394.30 L399.57,391.44 L400.60,388.56 L401.70,385.66 L402.85,382.77 L404.08,379.87 L405.38,376.98 L406.76,374.10 L408.22,371.24 L409.77,368.39 L411.41,365.57 L413.15,362.78 L415.00,360.02 L416.96,357.30 L419.03,354.62 L421.23,351.98 L423.56,349.39 L426.03,346.85 L428.64,344.37 L431.42,341.94 L434.36,339.57 L437.48,337.25 L440.78,335.00 L444.28,332.81 L448.00,330.69 L451.93,328.63 L456.11,326.63 L460.53,324.70 L465.22,322.83 L470.18,321.03 L475.45,319.29 L481.04,317.62 L486.95,316.01 L493.23,314.46 L499.88,312.97 L506.92,311.54 L514.40,310.17 L522.32,308.86 L530.71,307.60 L539.61,306.40 L549.04,305.25 L559.04,304.15 L569.64,303.11 L580.87,302.11 L592.78,301.15 L605.40,300.24 L618.78,299.38 L632.97,298.55 L648.00,297.77 L663.94,297.02 L681.82,296.27" stroke="#ffa500" stroke-width="0.75" stroke-opacity="0.9"/><path d="M382.40,482.43 L382.69,478.30 L382.71,478.06 L382.73,477.80 L382.75,477.53 L382.77,477.25 L382.79,476.94 L382.81,476.63 L382.84,476.29 L382.86,475.93 L382.89,475.56 L382.92,475.16 L382.95,474.75 L382.98,474.31 L383.02,473.84 L383.06,473.35 L383.10,472.83 L383.14,472.29 L383.18,471.72 L383.23,471.12 L383.28,470.48 L383.33,469.81 L383.39,469.11 L383.45,468.38 L383.51,467.60 L383.58,466.79 L383.65,465.93 L383.72,465.04 L383.80,464.10 L383.89,463.12 L383.98,462.09 L384.07,461.01 L384.17,459.89 L384.28,458.71 L384.39,457.48 L384.51,456.20 L384.63,454.87 L384.77,453.48 L384.91,452.03 L385.06,450.53 L385.22,448.96 L385.39,447.34 L385.57,445.66 L385.76,443.93 L385.96,442.13 L386.17,440.27 L386.40,438.35 L386.64,436.38 L386.90,434.35 L387.17,432.26 L387.45,430.11 L387.75,427.92 L388.08,425.67 L388.42,423.37 L388.78,421.02 L389.16,418.63 L389.57,416.20 L390.00,413.73 L390.45,411.22 L390.93,408.68 L391.45,406.11 L391.99,403.52 L392.56,400.91 L393.17,398.28 L393.82,395.64 L394.51,393.00 L395.23,390.35 L396.00,387.71 L396.82,385.07 L397.68,382.44 L398.60,379.83 L399.57,377.23 L400.60,374.66 L401.70,372.12 L402.85,369.61 L404.08,367.13 L405.38,364.70 L406.76,362.30 L408.22,359.95 L409.77,357.65 L411.41,355.39 L413.15,353.19 L415.00,351.04 L416.96,348.95 L419.03,346.91 L421.23,344.93 L423.56,343.01 L426.03,341.14 L428.64,339.34 L431.42,337.60 L434.36,335.91 L437.48,334.28 L440.78,332.72 L444.28,331.21 L448.00,329.75 L451.93,328.36 L456.11,327.02 L460.53,325.73 L465.22,324.50 L470.18,323.32 L475.45,322.19 L481.04,321.11 L486.95,320.07 L493.23,319.09 L499.88,318.14 L506.92,317.24 L514.40,316.39 L522.32,315.57 L530.71,314.79 L539.61,314.05 L549.04,313.34 L559.04,312.67 L569.64,312.04 L580.87,311.43 L592.78,310.86 L605.40,310.31 L618.78,309.79 L632.97,309.30 L648.00,308.83 L663.94,308.39 L681.82,307.95" stroke="#0000ff" stroke-width="1.25" stroke-dasharray="1.3 1.7"/><path d="M382.40,482.43 L382.69,478.95 L382.71,478.74 L382.73,478.53 L382.75,478.30 L382.77,478.06 L382.79,477.80 L382.81,477.53 L382.84,477.25 L382.86,476.95 L382.89,476.63 L382.92,476.30 L382.95,475.95 L382.98,475.57 L383.02,475.18 L383.06,474.77 L383.10,474.33 L383.14,473.88 L383.18,473.39 L383.23,472.88 L383.28,472.35 L383.33,471.79 L383.39,471.19 L383.45,470.57 L383.51,469.92 L383.58,469.23 L383.65,468.51 L383.72,467.76 L383.80,466.97 L383.89,466.14 L383.98,465.27 L384.07,464.36 L384.17,463.41 L384.28,462.42 L384.39,461.38 L384.51,460.30 L384.63,459.17 L384.77,458.00 L384.91,456.78 L385.06,455.51 L385.22,454.19 L385.39,452.83 L385.57,451.41 L385.76,449.94 L385.96,448.43 L386.17,446.86 L386.40,445.24 L386.64,443.58 L386.90,441.86 L387.17,440.10 L387.45,438.29 L387.75,436.44 L388.08,434.54 L388.42,432.60 L388.78,430.62 L389.16,428.60 L389.57,426.55 L390.00,424.46 L390.45,422.35 L390.93,420.21 L391.45,418.04 L391.99,415.85 L392.56,413.65 L393.17,411.43 L393.82,409.21 L394.51,406.98 L395.23,404.74 L396.00,402.51 L396.82,400.28 L397.68,398.07 L398.60,395.86 L399.57,393.67 L400.60,391.51 L401.70,389.36 L402.85,387.24 L404.08,385.15 L405.38,383.10 L406.76,381.08 L408.22,379.09 L409.77,377.15 L411.41,375.25 L413.15,373.39 L415.00,371.58 L416.96,369.81 L419.03,368.09 L421.23,366.42 L423.56,364.80 L426.03,363.22 L428.64,361.70 L431.42,360.23 L434.36,358.81 L437.48,357.44 L440.78,356.11 L444.28,354.84 L448.00,353.62 L451.93,352.44 L456.11,351.31 L460.53,350.22 L465.22,349.18 L470.18,348.18 L475.45,347.23 L481.04,346.32 L486.95,345.45 L493.23,344.61 L499.88,343.82 L506.92,343.06 L514.40,342.34 L522.32,341.65 L530.71,340.99 L539.61,340.36 L549.04,339.77 L559.04,339.20 L569.64,338.67 L580.87,338.16 L592.78,337.67 L605.40,337.21 L618.78,336.77 L632.97,336.36 L648.00,335.96 L663.94,335.59 L681.82,335.21" stroke="#0000ff" stroke-width="1.15" stroke-dasharray="2.6 1.5"/><path d="M382.40,482.43 L382.69,479.60 L382.71,479.43 L382.73,479.26 L382.75,479.07 L382.77,478.88 L382.79,478.67 L382.81,478.45 L382.84,478.22 L382.86,477.98 L382.89,477.72 L382.92,477.45 L382.95,477.17 L382.98,476.86 L383.02,476.55 L383.06,476.21 L383.10,475.86 L383.14,475.48 L383.18,475.09 L383.23,474.68 L383.28,474.24 L383.33,473.79 L383.39,473.31 L383.45,472.80 L383.51,472.27 L383.58,471.71 L383.65,471.13 L383.72,470.52 L383.80,469.87 L383.89,469.20 L383.98,468.49 L384.07,467.76 L384.17,466.99 L384.28,466.18 L384.39,465.34 L384.51,464.46 L384.63,463.55 L384.77,462.59 L384.91,461.60 L385.06,460.57 L385.22,459.50 L385.39,458.39 L385.57,457.24 L385.76,456.05 L385.96,454.82 L386.17,453.55 L386.40,452.23 L386.64,450.88 L386.90,449.49 L387.17,448.06 L387.45,446.59 L387.75,445.08 L388.08,443.54 L388.42,441.97 L388.78,440.36 L389.16,438.72 L389.57,437.05 L390.00,435.36 L390.45,433.64 L390.93,431.90 L391.45,430.14 L391.99,428.37 L392.56,426.58 L393.17,424.78 L393.82,422.97 L394.51,421.16 L395.23,419.35 L396.00,417.53 L396.82,415.73 L397.68,413.93 L398.60,412.14 L399.57,410.36 L400.60,408.60 L401.70,406.86 L402.85,405.14 L404.08,403.44 L405.38,401.77 L406.76,400.13 L408.22,398.52 L409.77,396.94 L411.41,395.40 L413.15,393.89 L415.00,392.41 L416.96,390.98 L419.03,389.58 L421.23,388.23 L423.56,386.91 L426.03,385.63 L428.64,384.40 L431.42,383.20 L434.36,382.05 L437.48,380.93 L440.78,379.86 L444.28,378.83 L448.00,377.83 L451.93,376.87 L456.11,375.96 L460.53,375.07 L465.22,374.23 L470.18,373.42 L475.45,372.65 L481.04,371.91 L486.95,371.20 L493.23,370.52 L499.88,369.88 L506.92,369.26 L514.40,368.67 L522.32,368.11 L530.71,367.58 L539.61,367.07 L549.04,366.59 L559.04,366.13 L569.64,365.69 L580.87,365.28 L592.78,364.88 L605.40,364.51 L618.78,364.15 L632.97,363.82 L648.00,363.50 L663.94,363.19 L681.82,362.89" stroke="#0000ff" stroke-width="0.75" stroke-opacity="0.9"/><path d="M382.40,482.43 L382.69,478.46 L382.71,478.24 L382.73,477.99 L382.75,477.74 L382.77,477.47 L382.79,477.19 L382.81,476.89 L382.84,476.58 L382.86,476.25 L382.89,475.90 L382.92,475.53 L382.95,475.15 L382.98,474.74 L383.02,474.32 L383.06,473.87 L383.10,473.40 L383.14,472.91 L383.18,472.39 L383.23,471.85 L383.28,471.28 L383.33,470.69 L383.39,470.07 L383.45,469.42 L383.51,468.74 L383.58,468.03 L383.65,467.29 L383.72,466.52 L383.80,465.71 L383.89,464.88 L383.98,464.01 L384.07,463.11 L384.17,462.17 L384.28,461.20 L384.39,460.20 L384.51,459.16 L384.63,458.09 L384.77,456.98 L384.91,455.84 L385.06,454.67 L385.22,453.46 L385.39,452.22 L385.57,450.95 L385.76,449.65 L385.96,448.32 L386.17,446.97 L386.40,445.58 L386.64,444.18 L386.90,442.75 L387.17,441.30 L387.45,439.83 L387.75,438.35 L388.08,436.85 L388.42,435.34 L388.78,433.82 L389.16,432.30 L389.57,430.77 L390.00,429.24 L390.45,427.71 L390.93,426.18 L391.45,424.66 L391.99,423.15 L392.56,421.65 L393.17,420.16 L393.82,418.69 L394.51,417.24 L395.23,415.81 L396.00,414.40 L396.82,413.01 L397.68,411.65 L398.60,410.32 L399.57,409.01 L400.60,407.74 L401.70,406.50 L402.85,405.28 L404.08,404.10 L405.38,402.96 L406.76,401.85 L408.22,400.77 L409.77,399.72 L411.41,398.71 L413.15,397.74 L415.00,396.80 L416.96,395.89 L419.03,395.01 L421.23,394.17 L423.56,393.36 L426.03,392.59 L428.64,391.84 L431.42,391.13 L434.36,390.45 L437.48,389.79 L440.78,389.17 L444.28,388.57 L448.00,387.99 L451.93,387.45 L456.11,386.93 L460.53,386.43 L465.22,385.96 L470.18,385.51 L475.45,385.08 L481.04,384.67 L486.95,384.28 L493.23,383.91 L499.88,383.56 L506.92,383.23 L514.40,382.91 L522.32,382.61 L530.71,382.33 L539.61,382.06 L549.04,381.80 L559.04,381.56 L569.64,381.33 L580.87,381.11 L592.78,380.90 L605.40,380.70 L618.78,380.52 L632.97,380.34 L648.00,380.18 L663.94,380.02 L681.82,379.86" stroke="#008000" stroke-width="1.25" stroke-dasharray="1.3 1.7"/><path d="M382.40,482.43 L382.69,479.10 L382.71,478.91 L382.73,478.71 L382.75,478.50 L382.77,478.27 L382.79,478.03 L382.81,477.78 L382.84,477.52 L382.86,477.24 L382.89,476.95 L382.92,476.64 L382.95,476.32 L382.98,475.98 L383.02,475.62 L383.06,475.25 L383.10,474.86 L383.14,474.44 L383.18,474.01 L383.23,473.55 L383.28,473.08 L383.33,472.58 L383.39,472.06 L383.45,471.51 L383.51,470.94 L383.58,470.35 L383.65,469.73 L383.72,469.08 L383.80,468.41 L383.89,467.71 L383.98,466.98 L384.07,466.22 L384.17,465.44 L384.28,464.62 L384.39,463.78 L384.51,462.91 L384.63,462.01 L384.77,461.08 L384.91,460.12 L385.06,459.14 L385.22,458.13 L385.39,457.09 L385.57,456.02 L385.76,454.93 L385.96,453.82 L386.17,452.68 L386.40,451.52 L386.64,450.34 L386.90,449.14 L387.17,447.92 L387.45,446.69 L387.75,445.45 L388.08,444.19 L388.42,442.93 L388.78,441.65 L389.16,440.37 L389.57,439.09 L390.00,437.80 L390.45,436.52 L390.93,435.24 L391.45,433.97 L391.99,432.70 L392.56,431.44 L393.17,430.19 L393.82,428.96 L394.51,427.74 L395.23,426.54 L396.00,425.36 L396.82,424.19 L397.68,423.05 L398.60,421.93 L399.57,420.84 L400.60,419.77 L401.70,418.73 L402.85,417.71 L404.08,416.72 L405.38,415.76 L406.76,414.82 L408.22,413.92 L409.77,413.04 L411.41,412.20 L413.15,411.38 L415.00,410.59 L416.96,409.83 L419.03,409.09 L421.23,408.39 L423.56,407.71 L426.03,407.06 L428.64,406.43 L431.42,405.84 L434.36,405.26 L437.48,404.71 L440.78,404.19 L444.28,403.69 L448.00,403.21 L451.93,402.75 L456.11,402.31 L460.53,401.89 L465.22,401.50 L470.18,401.12 L475.45,400.76 L481.04,400.42 L486.95,400.09 L493.23,399.78 L499.88,399.49 L506.92,399.21 L514.40,398.94 L522.32,398.69 L530.71,398.45 L539.61,398.22 L549.04,398.01 L559.04,397.80 L569.64,397.61 L580.87,397.43 L592.78,397.25 L605.40,397.09 L618.78,396.93 L632.97,396.79 L648.00,396.65 L663.94,396.51 L681.82,396.38" stroke="#008000" stroke-width="1.15" stroke-dasharray="2.6 1.5"/><path d="M382.40,482.43 L382.69,479.73 L382.71,479.58 L382.73,479.42 L382.75,479.24 L382.77,479.06 L382.79,478.87 L382.81,478.67 L382.84,478.45 L382.86,478.23 L382.89,477.99 L382.92,477.74 L382.95,477.48 L382.98,477.21 L383.02,476.92 L383.06,476.61 L383.10,476.29 L383.14,475.96 L383.18,475.61 L383.23,475.24 L383.28,474.85 L383.33,474.45 L383.39,474.03 L383.45,473.59 L383.51,473.12 L383.58,472.64 L383.65,472.14 L383.72,471.61 L383.80,471.07 L383.89,470.50 L383.98,469.91 L384.07,469.30 L384.17,468.66 L384.28,468.00 L384.39,467.32 L384.51,466.61 L384.63,465.88 L384.77,465.13 L384.91,464.36 L385.06,463.56 L385.22,462.74 L385.39,461.90 L385.57,461.03 L385.76,460.15 L385.96,459.25 L386.17,458.33 L386.40,457.39 L386.64,456.43 L386.90,455.46 L387.17,454.47 L387.45,453.48 L387.75,452.47 L388.08,451.45 L388.42,450.42 L388.78,449.39 L389.16,448.36 L389.57,447.32 L390.00,446.27 L390.45,445.24 L390.93,444.20 L391.45,443.16 L391.99,442.14 L392.56,441.12 L393.17,440.11 L393.82,439.11 L394.51,438.12 L395.23,437.15 L396.00,436.19 L396.82,435.25 L397.68,434.32 L398.60,433.42 L399.57,432.53 L400.60,431.66 L401.70,430.82 L402.85,429.99 L404.08,429.19 L405.38,428.41 L406.76,427.66 L408.22,426.92 L409.77,426.21 L411.41,425.53 L413.15,424.86 L415.00,424.23 L416.96,423.61 L419.03,423.01 L421.23,422.44 L423.56,421.89 L426.03,421.37 L428.64,420.86 L431.42,420.37 L434.36,419.91 L437.48,419.46 L440.78,419.04 L444.28,418.63 L448.00,418.24 L451.93,417.87 L456.11,417.52 L460.53,417.18 L465.22,416.86 L470.18,416.55 L475.45,416.26 L481.04,415.98 L486.95,415.72 L493.23,415.47 L499.88,415.23 L506.92,415.00 L514.40,414.79 L522.32,414.58 L530.71,414.39 L539.61,414.21 L549.04,414.03 L559.04,413.87 L569.64,413.71 L580.87,413.56 L592.78,413.42 L605.40,413.29 L618.78,413.16 L632.97,413.04 L648.00,412.93 L663.94,412.82 L681.82,412.72" stroke="#008000" stroke-width="0.75" stroke-opacity="0.9"/><path d="M382.40,482.43 L382.69,478.68 L382.71,478.47 L382.73,478.25 L382.75,478.02 L382.77,477.77 L382.79,477.52 L382.81,477.25 L382.84,476.97 L382.86,476.67 L382.89,476.36 L382.92,476.04 L382.95,475.70 L382.98,475.35 L383.02,474.98 L383.06,474.59 L383.10,474.19 L383.14,473.77 L383.18,473.33 L383.23,472.88 L383.28,472.41 L383.33,471.92 L383.39,471.41 L383.45,470.88 L383.51,470.33 L383.58,469.77 L383.65,469.18 L383.72,468.58 L383.80,467.96 L383.89,467.32 L383.98,466.66 L384.07,465.99 L384.17,465.30 L384.28,464.59 L384.39,463.87 L384.51,463.13 L384.63,462.38 L384.77,461.61 L384.91,460.83 L385.06,460.04 L385.22,459.24 L385.39,458.44 L385.57,457.62 L385.76,456.80 L385.96,455.97 L386.17,455.14 L386.40,454.31 L386.64,453.47 L386.90,452.64 L387.17,451.81 L387.45,450.98 L387.75,450.16 L388.08,449.34 L388.42,448.53 L388.78,447.73 L389.16,446.94 L389.57,446.16 L390.00,445.39 L390.45,444.64 L390.93,443.90 L391.45,443.17 L391.99,442.46 L392.56,441.77 L393.17,441.09 L393.82,440.43 L394.51,439.79 L395.23,439.16 L396.00,438.56 L396.82,437.97 L397.68,437.40 L398.60,436.85 L399.57,436.32 L400.60,435.80 L401.70,435.31 L402.85,434.83 L404.08,434.38 L405.38,433.93 L406.76,433.51 L408.22,433.11 L409.77,432.72 L411.41,432.34 L413.15,431.99 L415.00,431.65 L416.96,431.32 L419.03,431.01 L421.23,430.71 L423.56,430.43 L426.03,430.16 L428.64,429.90 L431.42,429.65 L434.36,429.42 L437.48,429.20 L440.78,428.99 L444.28,428.78 L448.00,428.59 L451.93,428.41 L456.11,428.24 L460.53,428.08 L465.22,427.92 L470.18,427.77 L475.45,427.63 L481.04,427.50 L486.95,427.37 L493.23,427.26 L499.88,427.14 L506.92,427.04 L514.40,426.94 L522.32,426.84 L530.71,426.75 L539.61,426.66 L549.04,426.58 L559.04,426.51 L569.64,426.43 L580.87,426.36 L592.78,426.30 L605.40,426.24 L618.78,426.18 L632.97,426.12 L648.00,426.07 L663.94,426.02 L681.82,425.97" stroke="#ff0000" stroke-width="1.25" stroke-dasharray="1.3 1.7"/><path d="M382.40,482.43 L382.69,479.32 L382.71,479.14 L382.73,478.96 L382.75,478.77 L382.77,478.57 L382.79,478.35 L382.81,478.13 L382.84,477.90 L382.86,477.65 L382.89,477.40 L382.92,477.13 L382.95,476.85 L382.98,476.56 L383.02,476.25 L383.06,475.93 L383.10,475.59 L383.14,475.25 L383.18,474.88 L383.23,474.51 L383.28,474.11 L383.33,473.71 L383.39,473.28 L383.45,472.85 L383.51,472.39 L383.58,471.92 L383.65,471.44 L383.72,470.94 L383.80,470.42 L383.89,469.89 L383.98,469.35 L384.07,468.79 L384.17,468.22 L384.28,467.63 L384.39,467.03 L384.51,466.42 L384.63,465.79 L384.77,465.16 L384.91,464.51 L385.06,463.86 L385.22,463.19 L385.39,462.52 L385.57,461.85 L385.76,461.17 L385.96,460.48 L386.17,459.79 L386.40,459.10 L386.64,458.41 L386.90,457.72 L387.17,457.03 L387.45,456.34 L387.75,455.66 L388.08,454.98 L388.42,454.31 L388.78,453.64 L389.16,452.99 L389.57,452.34 L390.00,451.70 L390.45,451.08 L390.93,450.46 L391.45,449.86 L391.99,449.27 L392.56,448.69 L393.17,448.13 L393.82,447.58 L394.51,447.05 L395.23,446.53 L396.00,446.03 L396.82,445.54 L397.68,445.07 L398.60,444.61 L399.57,444.17 L400.60,443.75 L401.70,443.34 L402.85,442.94 L404.08,442.56 L405.38,442.20 L406.76,441.85 L408.22,441.51 L409.77,441.19 L411.41,440.88 L413.15,440.58 L415.00,440.30 L416.96,440.03 L419.03,439.77 L421.23,439.52 L423.56,439.29 L426.03,439.06 L428.64,438.85 L431.42,438.64 L434.36,438.45 L437.48,438.27 L440.78,438.09 L444.28,437.92 L448.00,437.76 L451.93,437.61 L456.11,437.47 L460.53,437.34 L465.22,437.21 L470.18,437.08 L475.45,436.97 L481.04,436.86 L486.95,436.75 L493.23,436.66 L499.88,436.56 L506.92,436.47 L514.40,436.39 L522.32,436.31 L530.71,436.23 L539.61,436.16 L549.04,436.10 L559.04,436.03 L569.64,435.97 L580.87,435.92 L592.78,435.86 L605.40,435.81 L618.78,435.76 L632.97,435.72 L648.00,435.67 L663.94,435.63 L681.82,435.59" stroke="#ff0000" stroke-width="1.15" stroke-dasharray="2.6 1.5"/><path d="M382.40,482.43 L382.69,479.89 L382.71,479.75 L382.73,479.60 L382.75,479.44 L382.77,479.28 L382.79,479.11 L382.81,478.92 L382.84,478.73 L382.86,478.53 L382.89,478.33 L382.92,478.11 L382.95,477.88 L382.98,477.64 L383.02,477.39 L383.06,477.13 L383.10,476.85 L383.14,476.57 L383.18,476.27 L383.23,475.97 L383.28,475.65 L383.33,475.31 L383.39,474.97 L383.45,474.61 L383.51,474.24 L383.58,473.86 L383.65,473.47 L383.72,473.06 L383.80,472.64 L383.89,472.20 L383.98,471.76 L384.07,471.30 L384.17,470.84 L384.28,470.36 L384.39,469.87 L384.51,469.37 L384.63,468.86 L384.77,468.34 L384.91,467.81 L385.06,467.28 L385.22,466.74 L385.39,466.19 L385.57,465.64 L385.76,465.08 L385.96,464.53 L386.17,463.96 L386.40,463.40 L386.64,462.84 L386.90,462.27 L387.17,461.71 L387.45,461.15 L387.75,460.59 L388.08,460.04 L388.42,459.49 L388.78,458.95 L389.16,458.41 L389.57,457.89 L390.00,457.37 L390.45,456.86 L390.93,456.35 L391.45,455.86 L391.99,455.38 L392.56,454.91 L393.17,454.45 L393.82,454.01 L394.51,453.57 L395.23,453.15 L396.00,452.74 L396.82,452.34 L397.68,451.96 L398.60,451.58 L399.57,451.22 L400.60,450.88 L401.70,450.54 L402.85,450.22 L404.08,449.91 L405.38,449.61 L406.76,449.33 L408.22,449.05 L409.77,448.79 L411.41,448.54 L413.15,448.29 L415.00,448.06 L416.96,447.84 L419.03,447.63 L421.23,447.43 L423.56,447.24 L426.03,447.06 L428.64,446.88 L431.42,446.72 L434.36,446.56 L437.48,446.41 L440.78,446.26 L444.28,446.13 L448.00,446.00 L451.93,445.87 L456.11,445.76 L460.53,445.65 L465.22,445.54 L470.18,445.44 L475.45,445.35 L481.04,445.26 L486.95,445.17 L493.23,445.09 L499.88,445.02 L506.92,444.94 L514.40,444.88 L522.32,444.81 L530.71,444.75 L539.61,444.69 L549.04,444.64 L559.04,444.58 L569.64,444.54 L580.87,444.49 L592.78,444.44 L605.40,444.40 L618.78,444.36 L632.97,444.33 L648.00,444.29 L663.94,444.26 L681.82,444.23" stroke="#ff0000" stroke-width="0.75" stroke-opacity="0.9"/></g><g transform="translate(407.90 325.08) rotate(-69.94)"><rect x="-18.15" y="-3.4" width="36.30" height="6.8" fill="#fff"/><text x="-15.75" y="2.90" font-size="8" fill="#ffa500" textLength="31.50" lengthAdjust="spacingAndGlyphs" stroke="#ffa500" stroke-width="0.15">E/S=2.5</text></g><g transform="translate(410.20 342.04) rotate(-64.89)"><rect x="-18.15" y="-3.4" width="36.30" height="6.8" fill="#fff"/><text x="-15.75" y="2.90" font-size="8" fill="#ffa500" textLength="31.50" lengthAdjust="spacingAndGlyphs" stroke="#ffa500" stroke-width="0.15">E/S=2.5</text></g><g transform="translate(413.00 363.02) rotate(-57.31)"><rect x="-18.15" y="-3.4" width="36.30" height="6.8" fill="#fff"/><text x="-15.75" y="2.90" font-size="8" fill="#ffa500" textLength="31.50" lengthAdjust="spacingAndGlyphs" stroke="#ffa500" stroke-width="0.15">E/S=2.5</text></g><g transform="translate(435.00 335.56) rotate(-28.20)"><rect x="-14.40" y="-3.4" width="28.80" height="6.8" fill="#fff"/><text x="-12.00" y="2.90" font-size="8" fill="#0000ff" textLength="24.00" lengthAdjust="spacingAndGlyphs" stroke="#0000ff" stroke-width="0.15">E/S=5</text></g><g transform="translate(437.00 357.64) rotate(-23.06)"><rect x="-14.40" y="-3.4" width="28.80" height="6.8" fill="#fff"/><text x="-12.00" y="2.90" font-size="8" fill="#0000ff" textLength="24.00" lengthAdjust="spacingAndGlyphs" stroke="#0000ff" stroke-width="0.15">E/S=5</text></g><g transform="translate(438.90 380.46) rotate(-18.11)"><rect x="-14.40" y="-3.4" width="28.80" height="6.8" fill="#fff"/><text x="-12.00" y="2.90" font-size="8" fill="#0000ff" textLength="24.00" lengthAdjust="spacingAndGlyphs" stroke="#0000ff" stroke-width="0.15">E/S=5</text></g><g transform="translate(469.20 385.59) rotate(-5.02)"><rect x="-15.95" y="-3.4" width="31.90" height="6.8" fill="#fff"/><text x="-13.55" y="2.90" font-size="8" fill="#008000" textLength="27.10" lengthAdjust="spacingAndGlyphs" stroke="#008000" stroke-width="0.15">E/S=10</text></g><g transform="translate(469.20 401.19) rotate(-4.21)"><rect x="-15.95" y="-3.4" width="31.90" height="6.8" fill="#fff"/><text x="-13.55" y="2.90" font-size="8" fill="#008000" textLength="27.10" lengthAdjust="spacingAndGlyphs" stroke="#008000" stroke-width="0.15">E/S=10</text></g><g transform="translate(469.20 416.61) rotate(-3.41)"><rect x="-15.95" y="-3.4" width="31.90" height="6.8" fill="#fff"/><text x="-13.55" y="2.90" font-size="8" fill="#008000" textLength="27.10" lengthAdjust="spacingAndGlyphs" stroke="#008000" stroke-width="0.15">E/S=10</text></g><g transform="translate(498.90 427.16) rotate(-0.93)"><rect x="-16.00" y="-3.4" width="32.00" height="6.8" fill="#fff"/><text x="-13.60" y="2.90" font-size="8" fill="#ff0000" textLength="27.20" lengthAdjust="spacingAndGlyphs" stroke="#ff0000" stroke-width="0.15">E/S=20</text></g><g transform="translate(498.90 436.57) rotate(-0.77)"><rect x="-16.00" y="-3.4" width="32.00" height="6.8" fill="#fff"/><text x="-13.60" y="2.90" font-size="8" fill="#ff0000" textLength="27.20" lengthAdjust="spacingAndGlyphs" stroke="#ff0000" stroke-width="0.15">E/S=20</text></g><g transform="translate(498.90 445.03) rotate(-0.63)"><rect x="-16.00" y="-3.4" width="32.00" height="6.8" fill="#fff"/><text x="-13.60" y="2.90" font-size="8" fill="#ff0000" textLength="27.20" lengthAdjust="spacingAndGlyphs" stroke="#ff0000" stroke-width="0.15">E/S=20</text></g><rect x="382.4" y="252.1" width="290.70" height="226.30" fill="none" stroke="#7a7a7a" stroke-width="1.1"/><path d="M380.80 444.04 H382.4 M380.80 405.65 H382.4 M380.80 367.27 H382.4 M380.80 328.88 H382.4 M380.80 290.49 H382.4 M380.80 252.10 H382.4 M418.74 478.4 V480.00 M455.07 478.4 V480.00 M491.41 478.4 V480.00 M527.75 478.4 V480.00 M564.09 478.4 V480.00 M600.42 478.4 V480.00 M636.76 478.4 V480.00 M673.10 478.4 V480.00" stroke="#555" stroke-width="0.9"/><text x="379.80" y="448.39" font-size="12.2" fill="#111" text-anchor="end" textLength="20.10" lengthAdjust="spacingAndGlyphs" stroke="#111" stroke-width="0.2">100</text><text x="379.80" y="410.00" font-size="12.2" fill="#111" text-anchor="end" textLength="20.10" lengthAdjust="spacingAndGlyphs" stroke="#111" stroke-width="0.2">200</text><text x="379.80" y="371.62" font-size="12.2" fill="#111" text-anchor="end" textLength="20.10" lengthAdjust="spacingAndGlyphs" stroke="#111" stroke-width="0.2">300</text><text x="379.80" y="333.23" font-size="12.2" fill="#111" text-anchor="end" textLength="20.10" lengthAdjust="spacingAndGlyphs" stroke="#111" stroke-width="0.2">400</text><text x="379.80" y="294.84" font-size="12.2" fill="#111" text-anchor="end" textLength="20.10" lengthAdjust="spacingAndGlyphs" stroke="#111" stroke-width="0.2">500</text><text x="379.80" y="256.45" font-size="12.2" fill="#111" text-anchor="end" textLength="20.10" lengthAdjust="spacingAndGlyphs" stroke="#111" stroke-width="0.2">600</text><text x="418.74" y="489.90" font-size="12.2" fill="#111" text-anchor="middle" textLength="15.50" lengthAdjust="spacingAndGlyphs" stroke="#111" stroke-width="0.2">2.5</text><text x="455.07" y="489.90" font-size="12.2" fill="#111" text-anchor="middle" textLength="15.50" lengthAdjust="spacingAndGlyphs" stroke="#111" stroke-width="0.2">5.0</text><text x="491.41" y="489.90" font-size="12.2" fill="#111" text-anchor="middle" textLength="15.50" lengthAdjust="spacingAndGlyphs" stroke="#111" stroke-width="0.2">7.5</text><text x="527.75" y="489.90" font-size="12.2" fill="#111" text-anchor="middle" textLength="23.40" lengthAdjust="spacingAndGlyphs" stroke="#111" stroke-width="0.2">10.0</text><text x="564.09" y="489.90" font-size="12.2" fill="#111" text-anchor="middle" textLength="23.40" lengthAdjust="spacingAndGlyphs" stroke="#111" stroke-width="0.2">12.5</text><text x="600.42" y="489.90" font-size="12.2" fill="#111" text-anchor="middle" textLength="23.40" lengthAdjust="spacingAndGlyphs" stroke="#111" stroke-width="0.2">15.0</text><text x="636.76" y="489.90" font-size="12.2" fill="#111" text-anchor="middle" textLength="23.40" lengthAdjust="spacingAndGlyphs" stroke="#111" stroke-width="0.2">17.5</text><text x="673.10" y="489.90" font-size="12.2" fill="#111" text-anchor="middle" textLength="23.40" lengthAdjust="spacingAndGlyphs" stroke="#111" stroke-width="0.2">20.0</text><text x="527.75" y="500.60" font-size="12.6" fill="#111" text-anchor="middle" textLength="132.40" lengthAdjust="spacingAndGlyphs" stroke="#111" stroke-width="0.15">Sulfur loading (mg/cm²)</text><text x="355.00" y="365.25" font-size="12.6" fill="#111" text-anchor="middle" textLength="132.00" lengthAdjust="spacingAndGlyphs" transform="rotate(-90.00 355.00 365.25)" stroke="#111" stroke-width="0.15">Specific energy (Wh/kg)</text><text x="537.80" y="292.80" font-size="12.5" fill="#800080" textLength="83.00" lengthAdjust="spacingAndGlyphs" stroke="#800080" stroke-width="0.12">Sulfur=80 wt%</text><text x="10.00" y="513.60" font-size="18.5" fill="#000" font-weight="bold">d</text><rect x="53.7" y="542.0" width="259.51" height="241.07" fill="#fff"/><rect x="76.99" y="589.42" width="3.33" height="3.95" fill="#f5c1a9"/><rect x="93.62" y="589.42" width="3.33" height="3.95" fill="#f39577"/><rect x="100.28" y="589.42" width="3.33" height="3.95" fill="#d44e41"/><rect x="116.91" y="589.42" width="3.33" height="3.95" fill="#9dbdff"/><rect x="90.30" y="613.14" width="3.33" height="3.95" fill="#9dbdff"/><rect x="173.47" y="557.81" width="3.33" height="3.95" fill="#ebd3c6"/><rect x="170.14" y="569.66" width="3.33" height="3.95" fill="#f39577"/><rect x="140.20" y="589.42" width="3.33" height="3.95" fill="#f39577"/><rect x="160.16" y="589.42" width="3.33" height="3.95" fill="#f39577"/><rect x="173.47" y="589.42" width="3.33" height="3.95" fill="#d9dce1"/><rect x="176.80" y="589.42" width="3.33" height="3.95" fill="#9dbdff"/><rect x="146.86" y="597.33" width="3.33" height="3.95" fill="#ebd3c6"/><rect x="176.80" y="597.33" width="3.33" height="3.95" fill="#ebd3c6"/><rect x="173.47" y="601.28" width="3.33" height="3.95" fill="#f7ac8e"/><rect x="123.57" y="605.23" width="3.33" height="3.95" fill="#ebd3c6"/><rect x="233.36" y="545.95" width="3.33" height="3.95" fill="#f7ac8e"/><rect x="240.01" y="549.90" width="3.33" height="3.95" fill="#c4d5f3"/><rect x="203.42" y="557.81" width="3.33" height="3.95" fill="#f39577"/><rect x="246.67" y="561.76" width="3.33" height="3.95" fill="#9dbdff"/><rect x="203.42" y="565.71" width="3.33" height="3.95" fill="#f5c1a9"/><rect x="190.11" y="569.66" width="3.33" height="3.95" fill="#c4d5f3"/><rect x="230.03" y="569.66" width="3.33" height="3.95" fill="#f7ac8e"/><rect x="213.40" y="573.62" width="3.33" height="3.95" fill="#f5c1a9"/><rect x="203.42" y="577.57" width="3.33" height="3.95" fill="#f39577"/><rect x="210.07" y="581.52" width="3.33" height="3.95" fill="#ea7b60"/><rect x="206.74" y="585.47" width="3.33" height="3.95" fill="#d9dce1"/><rect x="243.34" y="585.47" width="3.33" height="3.95" fill="#ebd3c6"/><rect x="193.43" y="589.42" width="3.33" height="3.95" fill="#f5c1a9"/><rect x="200.09" y="589.42" width="3.33" height="3.95" fill="#d44e41"/><rect x="203.42" y="589.42" width="3.33" height="3.95" fill="#9dbdff"/><rect x="226.70" y="589.42" width="3.33" height="3.95" fill="#ebd3c6"/><rect x="236.69" y="589.42" width="3.33" height="3.95" fill="#7093f3"/><rect x="246.67" y="589.42" width="3.33" height="3.95" fill="#9dbdff"/><rect x="206.74" y="593.38" width="3.33" height="3.95" fill="#f5c1a9"/><rect x="249.99" y="601.28" width="3.33" height="3.95" fill="#c4d5f3"/><rect x="226.70" y="613.14" width="3.33" height="3.95" fill="#ebd3c6"/><rect x="276.61" y="542.00" width="3.33" height="3.95" fill="#4358cb"/><rect x="263.30" y="549.90" width="3.33" height="3.95" fill="#9dbdff"/><rect x="283.26" y="553.86" width="3.33" height="3.95" fill="#9dbdff"/><rect x="263.30" y="557.81" width="3.33" height="3.95" fill="#ebd3c6"/><rect x="286.59" y="557.81" width="3.33" height="3.95" fill="#f39577"/><rect x="266.63" y="589.42" width="3.33" height="3.95" fill="#7093f3"/><rect x="279.94" y="589.42" width="3.33" height="3.95" fill="#7093f3"/><rect x="299.90" y="589.42" width="3.33" height="3.95" fill="#7093f3"/><rect x="309.88" y="589.42" width="3.33" height="3.95" fill="#ebd3c6"/><rect x="259.97" y="609.18" width="3.33" height="3.95" fill="#9dbdff"/><rect x="296.57" y="617.09" width="3.33" height="3.95" fill="#c4d5f3"/><rect x="76.99" y="644.75" width="3.33" height="3.95" fill="#f39577"/><rect x="106.93" y="644.75" width="3.33" height="3.95" fill="#ea7b60"/><rect x="83.64" y="656.61" width="3.33" height="3.95" fill="#df634e"/><rect x="100.28" y="656.61" width="3.33" height="3.95" fill="#f5c1a9"/><rect x="116.91" y="656.61" width="3.33" height="3.95" fill="#ea7b60"/><rect x="116.91" y="660.56" width="3.33" height="3.95" fill="#f5c1a9"/><rect x="103.61" y="668.46" width="3.33" height="3.95" fill="#f5c1a9"/><rect x="116.91" y="672.42" width="3.33" height="3.95" fill="#f7ac8e"/><rect x="106.93" y="684.27" width="3.33" height="3.95" fill="#f7ac8e"/><rect x="63.68" y="696.13" width="3.33" height="3.95" fill="#ea7b60"/><rect x="67.01" y="696.13" width="3.33" height="3.95" fill="#df634e"/><rect x="70.34" y="696.13" width="3.33" height="3.95" fill="#ea7b60"/><rect x="73.66" y="696.13" width="3.33" height="3.95" fill="#ea7b60"/><rect x="76.99" y="696.13" width="3.33" height="3.95" fill="#f39577"/><rect x="86.97" y="696.13" width="3.33" height="3.95" fill="#f5c1a9"/><rect x="90.30" y="696.13" width="3.33" height="3.95" fill="#f39577"/><rect x="96.95" y="696.13" width="3.33" height="3.95" fill="#f5c1a9"/><rect x="110.26" y="696.13" width="3.33" height="3.95" fill="#c0282f"/><rect x="150.18" y="621.04" width="3.33" height="3.95" fill="#ebd3c6"/><rect x="153.51" y="624.99" width="3.33" height="3.95" fill="#d9dce1"/><rect x="156.84" y="624.99" width="3.33" height="3.95" fill="#f39577"/><rect x="160.16" y="624.99" width="3.33" height="3.95" fill="#f5c1a9"/><rect x="173.47" y="624.99" width="3.33" height="3.95" fill="#f7ac8e"/><rect x="153.51" y="628.94" width="3.33" height="3.95" fill="#f5c1a9"/><rect x="180.13" y="632.90" width="3.33" height="3.95" fill="#f5c1a9"/><rect x="133.55" y="644.75" width="3.33" height="3.95" fill="#9dbdff"/><rect x="163.49" y="644.75" width="3.33" height="3.95" fill="#d9dce1"/><rect x="180.13" y="648.70" width="3.33" height="3.95" fill="#f7ac8e"/><rect x="130.22" y="656.61" width="3.33" height="3.95" fill="#ea7b60"/><rect x="146.86" y="656.61" width="3.33" height="3.95" fill="#f39577"/><rect x="153.51" y="656.61" width="3.33" height="3.95" fill="#d44e41"/><rect x="160.16" y="656.61" width="3.33" height="3.95" fill="#f5c1a9"/><rect x="170.14" y="656.61" width="3.33" height="3.95" fill="#f5c1a9"/><rect x="173.47" y="656.61" width="3.33" height="3.95" fill="#f5c1a9"/><rect x="176.80" y="656.61" width="3.33" height="3.95" fill="#c4d5f3"/><rect x="143.53" y="660.56" width="3.33" height="3.95" fill="#f39577"/><rect x="183.45" y="664.51" width="3.33" height="3.95" fill="#c4d5f3"/><rect x="130.22" y="668.46" width="3.33" height="3.95" fill="#f5c1a9"/><rect x="183.45" y="680.32" width="3.33" height="3.95" fill="#f5c1a9"/><rect x="146.86" y="692.18" width="3.33" height="3.95" fill="#9dbdff"/><rect x="163.49" y="692.18" width="3.33" height="3.95" fill="#ea7b60"/><rect x="123.57" y="696.13" width="3.33" height="3.95" fill="#df634e"/><rect x="126.89" y="696.13" width="3.33" height="3.95" fill="#ea7b60"/><rect x="130.22" y="696.13" width="3.33" height="3.95" fill="#f5c1a9"/><rect x="133.55" y="696.13" width="3.33" height="3.95" fill="#f7ac8e"/><rect x="146.86" y="696.13" width="3.33" height="3.95" fill="#f39577"/><rect x="160.16" y="696.13" width="3.33" height="3.95" fill="#ebd3c6"/><rect x="166.82" y="696.13" width="3.33" height="3.95" fill="#ebd3c6"/><rect x="176.80" y="696.13" width="3.33" height="3.95" fill="#f5c1a9"/><rect x="186.78" y="624.99" width="3.33" height="3.95" fill="#c4d5f3"/><rect x="193.43" y="624.99" width="3.33" height="3.95" fill="#f7ac8e"/><rect x="196.76" y="624.99" width="3.33" height="3.95" fill="#d44e41"/><rect x="193.43" y="636.85" width="3.33" height="3.95" fill="#f5c1a9"/><rect x="190.11" y="640.80" width="3.33" height="3.95" fill="#f7ac8e"/><rect x="190.11" y="644.75" width="3.33" height="3.95" fill="#f7ac8e"/><rect x="203.42" y="644.75" width="3.33" height="3.95" fill="#f39577"/><rect x="226.70" y="644.75" width="3.33" height="3.95" fill="#ebd3c6"/><rect x="246.67" y="644.75" width="3.33" height="3.95" fill="#f39577"/><rect x="216.72" y="652.66" width="3.33" height="3.95" fill="#f5c1a9"/><rect x="186.78" y="656.61" width="3.33" height="3.95" fill="#f5c1a9"/><rect x="220.05" y="656.61" width="3.33" height="3.95" fill="#9dbdff"/><rect x="223.38" y="656.61" width="3.33" height="3.95" fill="#f7ac8e"/><rect x="246.67" y="656.61" width="3.33" height="3.95" fill="#f5c1a9"/><rect x="200.09" y="676.37" width="3.33" height="3.95" fill="#c4d5f3"/><rect x="186.78" y="688.22" width="3.33" height="3.95" fill="#f7ac8e"/><rect x="190.11" y="696.13" width="3.33" height="3.95" fill="#d9dce1"/><rect x="253.32" y="621.04" width="3.33" height="3.95" fill="#4358cb"/><rect x="256.65" y="624.99" width="3.33" height="3.95" fill="#9dbdff"/><rect x="273.28" y="624.99" width="3.33" height="3.95" fill="#c4d5f3"/><rect x="279.94" y="624.99" width="3.33" height="3.95" fill="#f5c1a9"/><rect x="293.24" y="624.99" width="3.33" height="3.95" fill="#f5c1a9"/><rect x="303.23" y="624.99" width="3.33" height="3.95" fill="#f5c1a9"/><rect x="263.30" y="644.75" width="3.33" height="3.95" fill="#ebd3c6"/><rect x="289.92" y="644.75" width="3.33" height="3.95" fill="#c4d5f3"/><rect x="306.55" y="648.70" width="3.33" height="3.95" fill="#9dbdff"/><rect x="269.95" y="696.13" width="3.33" height="3.95" fill="#f39577"/><rect x="103.61" y="700.08" width="3.33" height="3.95" fill="#f39577"/><rect x="76.99" y="704.03" width="3.33" height="3.95" fill="#f7ac8e"/><rect x="100.28" y="707.98" width="3.33" height="3.95" fill="#f7ac8e"/><rect x="116.91" y="711.94" width="3.33" height="3.95" fill="#f5c1a9"/><rect x="60.35" y="715.89" width="3.33" height="3.95" fill="#f39577"/><rect x="73.66" y="715.89" width="3.33" height="3.95" fill="#f39577"/><rect x="76.99" y="715.89" width="3.33" height="3.95" fill="#d44e41"/><rect x="96.95" y="715.89" width="3.33" height="3.95" fill="#f39577"/><rect x="103.61" y="715.89" width="3.33" height="3.95" fill="#d44e41"/><rect x="113.59" y="715.89" width="3.33" height="3.95" fill="#df634e"/><rect x="116.91" y="715.89" width="3.33" height="3.95" fill="#ebd3c6"/><rect x="76.99" y="719.84" width="3.33" height="3.95" fill="#c0282f"/><rect x="86.97" y="723.79" width="3.33" height="3.95" fill="#df634e"/><rect x="60.35" y="727.74" width="3.33" height="3.95" fill="#ea7b60"/><rect x="67.01" y="727.74" width="3.33" height="3.95" fill="#ea7b60"/><rect x="70.34" y="727.74" width="3.33" height="3.95" fill="#f39577"/><rect x="76.99" y="727.74" width="3.33" height="3.95" fill="#df634e"/><rect x="80.32" y="727.74" width="3.33" height="3.95" fill="#f39577"/><rect x="86.97" y="727.74" width="3.33" height="3.95" fill="#d44e41"/><rect x="90.30" y="727.74" width="3.33" height="3.95" fill="#f5c1a9"/><rect x="116.91" y="727.74" width="3.33" height="3.95" fill="#f39577"/><rect x="73.66" y="735.65" width="3.33" height="3.95" fill="#d9dce1"/><rect x="90.30" y="735.65" width="3.33" height="3.95" fill="#df634e"/><rect x="53.70" y="739.60" width="3.33" height="3.95" fill="#f5c1a9"/><rect x="60.35" y="739.60" width="3.33" height="3.95" fill="#df634e"/><rect x="67.01" y="739.60" width="3.33" height="3.95" fill="#df634e"/><rect x="73.66" y="739.60" width="3.33" height="3.95" fill="#ea7b60"/><rect x="76.99" y="739.60" width="3.33" height="3.95" fill="#df634e"/><rect x="80.32" y="739.60" width="3.33" height="3.95" fill="#d44e41"/><rect x="86.97" y="739.60" width="3.33" height="3.95" fill="#f39577"/><rect x="90.30" y="739.60" width="3.33" height="3.95" fill="#f7ac8e"/><rect x="116.91" y="739.60" width="3.33" height="3.95" fill="#f5c1a9"/><rect x="76.99" y="743.55" width="3.33" height="3.95" fill="#f39577"/><rect x="100.28" y="747.50" width="3.33" height="3.95" fill="#c0282f"/><rect x="67.01" y="751.46" width="3.33" height="3.95" fill="#f39577"/><rect x="63.68" y="755.41" width="3.33" height="3.95" fill="#df634e"/><rect x="86.97" y="755.41" width="3.33" height="3.95" fill="#ea7b60"/><rect x="76.99" y="759.36" width="3.33" height="3.95" fill="#f39577"/><rect x="67.01" y="763.31" width="3.33" height="3.95" fill="#f39577"/><rect x="70.34" y="767.26" width="3.33" height="3.95" fill="#d44e41"/><rect x="60.35" y="771.22" width="3.33" height="3.95" fill="#f7ac8e"/><rect x="67.01" y="771.22" width="3.33" height="3.95" fill="#df634e"/><rect x="90.30" y="771.22" width="3.33" height="3.95" fill="#c0282f"/><rect x="57.03" y="775.17" width="3.33" height="3.95" fill="#d9dce1"/><rect x="60.35" y="779.12" width="3.33" height="3.95" fill="#f7ac8e"/><rect x="170.14" y="700.08" width="3.33" height="3.95" fill="#7093f3"/><rect x="146.86" y="704.03" width="3.33" height="3.95" fill="#d9dce1"/><rect x="150.18" y="715.89" width="3.33" height="3.95" fill="#f7ac8e"/><rect x="153.51" y="715.89" width="3.33" height="3.95" fill="#f5c1a9"/><rect x="173.47" y="715.89" width="3.33" height="3.95" fill="#f5c1a9"/><rect x="176.80" y="715.89" width="3.33" height="3.95" fill="#f39577"/><rect x="120.24" y="727.74" width="3.33" height="3.95" fill="#f39577"/><rect x="130.22" y="727.74" width="3.33" height="3.95" fill="#df634e"/><rect x="156.84" y="727.74" width="3.33" height="3.95" fill="#ebd3c6"/><rect x="183.45" y="727.74" width="3.33" height="3.95" fill="#ebd3c6"/><rect x="120.24" y="731.70" width="3.33" height="3.95" fill="#9dbdff"/><rect x="130.22" y="739.60" width="3.33" height="3.95" fill="#f39577"/><rect x="136.88" y="739.60" width="3.33" height="3.95" fill="#f5c1a9"/><rect x="156.84" y="739.60" width="3.33" height="3.95" fill="#d44e41"/><rect x="170.14" y="739.60" width="3.33" height="3.95" fill="#c4d5f3"/><rect x="173.47" y="739.60" width="3.33" height="3.95" fill="#9dbdff"/><rect x="120.24" y="755.41" width="3.33" height="3.95" fill="#df634e"/><rect x="150.18" y="755.41" width="3.33" height="3.95" fill="#ea7b60"/><rect x="190.11" y="715.89" width="3.33" height="3.95" fill="#f39577"/><rect x="186.78" y="727.74" width="3.33" height="3.95" fill="#f39577"/><rect x="226.70" y="727.74" width="3.33" height="3.95" fill="#ebd3c6"/><rect x="243.34" y="727.74" width="3.33" height="3.95" fill="#f5c1a9"/><rect x="226.70" y="739.60" width="3.33" height="3.95" fill="#7093f3"/><rect x="256.65" y="727.74" width="3.33" height="3.95" fill="#ebd3c6"/><path d="M53.70 542.0 V783.07 M57.03 542.0 V783.07 M60.35 542.0 V783.07 M63.68 542.0 V783.07 M67.01 542.0 V783.07 M70.34 542.0 V783.07 M73.66 542.0 V783.07 M76.99 542.0 V783.07 M80.32 542.0 V783.07 M83.64 542.0 V783.07 M86.97 542.0 V783.07 M90.30 542.0 V783.07 M93.62 542.0 V783.07 M96.95 542.0 V783.07 M100.28 542.0 V783.07 M103.61 542.0 V783.07 M106.93 542.0 V783.07 M110.26 542.0 V783.07 M113.59 542.0 V783.07 M116.91 542.0 V783.07 M120.24 542.0 V783.07 M123.57 542.0 V783.07 M126.89 542.0 V783.07 M130.22 542.0 V783.07 M133.55 542.0 V783.07 M136.88 542.0 V783.07 M140.20 542.0 V783.07 M143.53 542.0 V783.07 M146.86 542.0 V783.07 M150.18 542.0 V783.07 M153.51 542.0 V783.07 M156.84 542.0 V783.07 M160.16 542.0 V783.07 M163.49 542.0 V783.07 M166.82 542.0 V783.07 M170.14 542.0 V783.07 M173.47 542.0 V783.07 M176.80 542.0 V783.07 M180.13 542.0 V783.07 M183.45 542.0 V783.07 M186.78 542.0 V783.07 M190.11 542.0 V783.07 M193.43 542.0 V783.07 M196.76 542.0 V783.07 M200.09 542.0 V783.07 M203.42 542.0 V783.07 M206.74 542.0 V783.07 M210.07 542.0 V783.07 M213.40 542.0 V783.07 M216.72 542.0 V783.07 M220.05 542.0 V783.07 M223.38 542.0 V783.07 M226.70 542.0 V783.07 M230.03 542.0 V783.07 M233.36 542.0 V783.07 M236.69 542.0 V783.07 M240.01 542.0 V783.07 M243.34 542.0 V783.07 M246.67 542.0 V783.07 M249.99 542.0 V783.07 M253.32 542.0 V783.07 M256.65 542.0 V783.07 M259.97 542.0 V783.07 M263.30 542.0 V783.07 M266.63 542.0 V783.07 M269.95 542.0 V783.07 M273.28 542.0 V783.07 M276.61 542.0 V783.07 M279.94 542.0 V783.07 M283.26 542.0 V783.07 M286.59 542.0 V783.07 M289.92 542.0 V783.07 M293.24 542.0 V783.07 M296.57 542.0 V783.07 M299.90 542.0 V783.07 M303.23 542.0 V783.07 M306.55 542.0 V783.07 M309.88 542.0 V783.07 M313.21 542.0 V783.07 M53.7 542.00 H313.21 M53.7 545.95 H313.21 M53.7 549.90 H313.21 M53.7 553.86 H313.21 M53.7 557.81 H313.21 M53.7 561.76 H313.21 M53.7 565.71 H313.21 M53.7 569.66 H313.21 M53.7 573.62 H313.21 M53.7 577.57 H313.21 M53.7 581.52 H313.21 M53.7 585.47 H313.21 M53.7 589.42 H313.21 M53.7 593.38 H313.21 M53.7 597.33 H313.21 M53.7 601.28 H313.21 M53.7 605.23 H313.21 M53.7 609.18 H313.21 M53.7 613.14 H313.21 M53.7 617.09 H313.21 M53.7 621.04 H313.21 M53.7 624.99 H313.21 M53.7 628.94 H313.21 M53.7 632.90 H313.21 M53.7 636.85 H313.21 M53.7 640.80 H313.21 M53.7 644.75 H313.21 M53.7 648.70 H313.21 M53.7 652.66 H313.21 M53.7 656.61 H313.21 M53.7 660.56 H313.21 M53.7 664.51 H313.21 M53.7 668.46 H313.21 M53.7 672.42 H313.21 M53.7 676.37 H313.21 M53.7 680.32 H313.21 M53.7 684.27 H313.21 M53.7 688.22 H313.21 M53.7 692.18 H313.21 M53.7 696.13 H313.21 M53.7 700.08 H313.21 M53.7 704.03 H313.21 M53.7 707.98 H313.21 M53.7 711.94 H313.21 M53.7 715.89 H313.21 M53.7 719.84 H313.21 M53.7 723.79 H313.21 M53.7 727.74 H313.21 M53.7 731.70 H313.21 M53.7 735.65 H313.21 M53.7 739.60 H313.21 M53.7 743.55 H313.21 M53.7 747.50 H313.21 M53.7 751.46 H313.21 M53.7 755.41 H313.21 M53.7 759.36 H313.21 M53.7 763.31 H313.21 M53.7 767.26 H313.21 M53.7 771.22 H313.21 M53.7 775.17 H313.21 M53.7 779.12 H313.21 M53.7 783.07 H313.21" stroke="#8fa8a8" stroke-width="0.48" fill="none"/><text x="47.60" y="546.68" font-size="7.8" fill="#222" text-anchor="end" textLength="10.40" lengthAdjust="spacingAndGlyphs" stroke="#222" stroke-width="0.15">3.0</text><text x="47.60" y="558.53" font-size="7.8" fill="#222" text-anchor="end" textLength="10.40" lengthAdjust="spacingAndGlyphs" stroke="#222" stroke-width="0.15">3.9</text><text x="47.60" y="570.39" font-size="7.8" fill="#222" text-anchor="end" textLength="10.40" lengthAdjust="spacingAndGlyphs" stroke="#222" stroke-width="0.15">4.4</text><text x="47.60" y="582.24" font-size="7.8" fill="#222" text-anchor="end" textLength="10.40" lengthAdjust="spacingAndGlyphs" stroke="#222" stroke-width="0.15">4.7</text><text x="47.60" y="594.10" font-size="7.8" fill="#222" text-anchor="end" textLength="10.40" lengthAdjust="spacingAndGlyphs" stroke="#222" stroke-width="0.15">5.0</text><text x="47.60" y="605.96" font-size="7.8" fill="#222" text-anchor="end" textLength="10.40" lengthAdjust="spacingAndGlyphs" stroke="#222" stroke-width="0.15">5.3</text><text x="47.60" y="617.81" font-size="7.8" fill="#222" text-anchor="end" textLength="10.40" lengthAdjust="spacingAndGlyphs" stroke="#222" stroke-width="0.15">5.6</text><text x="47.60" y="629.67" font-size="7.8" fill="#222" text-anchor="end" textLength="10.40" lengthAdjust="spacingAndGlyphs" stroke="#222" stroke-width="0.15">6.0</text><text x="47.60" y="641.52" font-size="7.8" fill="#222" text-anchor="end" textLength="10.40" lengthAdjust="spacingAndGlyphs" stroke="#222" stroke-width="0.15">6.4</text><text x="47.60" y="653.38" font-size="7.8" fill="#222" text-anchor="end" textLength="10.40" lengthAdjust="spacingAndGlyphs" stroke="#222" stroke-width="0.15">7.5</text><text x="47.60" y="665.24" font-size="7.8" fill="#222" text-anchor="end" textLength="10.40" lengthAdjust="spacingAndGlyphs" stroke="#222" stroke-width="0.15">8.3</text><text x="47.60" y="677.09" font-size="7.8" fill="#222" text-anchor="end" textLength="10.40" lengthAdjust="spacingAndGlyphs" stroke="#222" stroke-width="0.15">8.8</text><text x="47.60" y="688.95" font-size="7.8" fill="#222" text-anchor="end" textLength="10.40" lengthAdjust="spacingAndGlyphs" stroke="#222" stroke-width="0.15">9.1</text><text x="47.60" y="700.80" font-size="7.8" fill="#222" text-anchor="end" textLength="15.20" lengthAdjust="spacingAndGlyphs" stroke="#222" stroke-width="0.15">10.0</text><text x="47.60" y="712.66" font-size="7.8" fill="#222" text-anchor="end" textLength="15.20" lengthAdjust="spacingAndGlyphs" stroke="#222" stroke-width="0.15">11.7</text><text x="47.60" y="724.52" font-size="7.8" fill="#222" text-anchor="end" textLength="15.20" lengthAdjust="spacingAndGlyphs" stroke="#222" stroke-width="0.15">13.0</text><text x="47.60" y="736.37" font-size="7.8" fill="#222" text-anchor="end" textLength="15.20" lengthAdjust="spacingAndGlyphs" stroke="#222" stroke-width="0.15">15.9</text><text x="47.60" y="748.23" font-size="7.8" fill="#222" text-anchor="end" textLength="15.20" lengthAdjust="spacingAndGlyphs" stroke="#222" stroke-width="0.15">24.0</text><text x="47.60" y="760.08" font-size="7.8" fill="#222" text-anchor="end" textLength="15.20" lengthAdjust="spacingAndGlyphs" stroke="#222" stroke-width="0.15">30.0</text><text x="47.60" y="771.94" font-size="7.8" fill="#222" text-anchor="end" textLength="15.20" lengthAdjust="spacingAndGlyphs" stroke="#222" stroke-width="0.15">39.2</text><text x="47.60" y="783.80" font-size="7.8" fill="#222" text-anchor="end" textLength="15.20" lengthAdjust="spacingAndGlyphs" stroke="#222" stroke-width="0.15">50.0</text><text x="58.06" y="789.60" font-size="7.8" fill="#222" text-anchor="end" textLength="10.30" lengthAdjust="spacingAndGlyphs" transform="rotate(-90.00 58.06 789.60)" stroke="#222" stroke-width="0.15">0.7</text><text x="68.04" y="789.60" font-size="7.8" fill="#222" text-anchor="end" textLength="10.30" lengthAdjust="spacingAndGlyphs" transform="rotate(-90.00 68.04 789.60)" stroke="#222" stroke-width="0.15">1.1</text><text x="78.03" y="789.60" font-size="7.8" fill="#222" text-anchor="end" textLength="10.30" lengthAdjust="spacingAndGlyphs" transform="rotate(-90.00 78.03 789.60)" stroke="#222" stroke-width="0.15">1.4</text><text x="88.01" y="789.60" font-size="7.8" fill="#222" text-anchor="end" textLength="10.30" lengthAdjust="spacingAndGlyphs" transform="rotate(-90.00 88.01 789.60)" stroke="#222" stroke-width="0.15">1.7</text><text x="97.99" y="789.60" font-size="7.8" fill="#222" text-anchor="end" textLength="10.30" lengthAdjust="spacingAndGlyphs" transform="rotate(-90.00 97.99 789.60)" stroke="#222" stroke-width="0.15">2.1</text><text x="107.97" y="789.60" font-size="7.8" fill="#222" text-anchor="end" textLength="10.30" lengthAdjust="spacingAndGlyphs" transform="rotate(-90.00 107.97 789.60)" stroke="#222" stroke-width="0.15">2.5</text><text x="117.95" y="789.60" font-size="7.8" fill="#222" text-anchor="end" textLength="10.30" lengthAdjust="spacingAndGlyphs" transform="rotate(-90.00 117.95 789.60)" stroke="#222" stroke-width="0.15">2.9</text><text x="127.93" y="789.60" font-size="7.8" fill="#222" text-anchor="end" textLength="10.30" lengthAdjust="spacingAndGlyphs" transform="rotate(-90.00 127.93 789.60)" stroke="#222" stroke-width="0.15">3.3</text><text x="137.91" y="789.60" font-size="7.8" fill="#222" text-anchor="end" textLength="10.30" lengthAdjust="spacingAndGlyphs" transform="rotate(-90.00 137.91 789.60)" stroke="#222" stroke-width="0.15">3.6</text><text x="147.89" y="789.60" font-size="7.8" fill="#222" text-anchor="end" textLength="10.30" lengthAdjust="spacingAndGlyphs" transform="rotate(-90.00 147.89 789.60)" stroke="#222" stroke-width="0.15">3.9</text><text x="157.87" y="789.60" font-size="7.8" fill="#222" text-anchor="end" textLength="10.30" lengthAdjust="spacingAndGlyphs" transform="rotate(-90.00 157.87 789.60)" stroke="#222" stroke-width="0.15">4.3</text><text x="167.85" y="789.60" font-size="7.8" fill="#222" text-anchor="end" textLength="10.30" lengthAdjust="spacingAndGlyphs" transform="rotate(-90.00 167.85 789.60)" stroke="#222" stroke-width="0.15">4.6</text><text x="177.84" y="789.60" font-size="7.8" fill="#222" text-anchor="end" textLength="10.30" lengthAdjust="spacingAndGlyphs" transform="rotate(-90.00 177.84 789.60)" stroke="#222" stroke-width="0.15">5.0</text><text x="187.82" y="789.60" font-size="7.8" fill="#222" text-anchor="end" textLength="10.30" lengthAdjust="spacingAndGlyphs" transform="rotate(-90.00 187.82 789.60)" stroke="#222" stroke-width="0.15">5.4</text><text x="197.80" y="789.60" font-size="7.8" fill="#222" text-anchor="end" textLength="10.30" lengthAdjust="spacingAndGlyphs" transform="rotate(-90.00 197.80 789.60)" stroke="#222" stroke-width="0.15">5.7</text><text x="207.78" y="789.60" font-size="7.8" fill="#222" text-anchor="end" textLength="10.30" lengthAdjust="spacingAndGlyphs" transform="rotate(-90.00 207.78 789.60)" stroke="#222" stroke-width="0.15">6.0</text><text x="217.76" y="789.60" font-size="7.8" fill="#222" text-anchor="end" textLength="10.30" lengthAdjust="spacingAndGlyphs" transform="rotate(-90.00 217.76 789.60)" stroke="#222" stroke-width="0.15">6.5</text><text x="227.74" y="789.60" font-size="7.8" fill="#222" text-anchor="end" textLength="10.30" lengthAdjust="spacingAndGlyphs" transform="rotate(-90.00 227.74 789.60)" stroke="#222" stroke-width="0.15">6.9</text><text x="237.72" y="789.60" font-size="7.8" fill="#222" text-anchor="end" textLength="10.30" lengthAdjust="spacingAndGlyphs" transform="rotate(-90.00 237.72 789.60)" stroke="#222" stroke-width="0.15">7.2</text><text x="247.70" y="789.60" font-size="7.8" fill="#222" text-anchor="end" textLength="10.30" lengthAdjust="spacingAndGlyphs" transform="rotate(-90.00 247.70 789.60)" stroke="#222" stroke-width="0.15">7.8</text><text x="257.68" y="789.60" font-size="7.8" fill="#222" text-anchor="end" textLength="10.30" lengthAdjust="spacingAndGlyphs" transform="rotate(-90.00 257.68 789.60)" stroke="#222" stroke-width="0.15">8.6</text><text x="267.66" y="789.60" font-size="7.8" fill="#222" text-anchor="end" textLength="14.60" lengthAdjust="spacingAndGlyphs" transform="rotate(-90.00 267.66 789.60)" stroke="#222" stroke-width="0.15">10.0</text><text x="277.65" y="789.60" font-size="7.8" fill="#222" text-anchor="end" textLength="14.60" lengthAdjust="spacingAndGlyphs" transform="rotate(-90.00 277.65 789.60)" stroke="#222" stroke-width="0.15">11.0</text><text x="287.63" y="789.60" font-size="7.8" fill="#222" text-anchor="end" textLength="14.60" lengthAdjust="spacingAndGlyphs" transform="rotate(-90.00 287.63 789.60)" stroke="#222" stroke-width="0.15">12.7</text><text x="297.61" y="789.60" font-size="7.8" fill="#222" text-anchor="end" textLength="14.60" lengthAdjust="spacingAndGlyphs" transform="rotate(-90.00 297.61 789.60)" stroke="#222" stroke-width="0.15">14.4</text><text x="307.59" y="789.60" font-size="7.8" fill="#222" text-anchor="end" textLength="14.60" lengthAdjust="spacingAndGlyphs" transform="rotate(-90.00 307.59 789.60)" stroke="#222" stroke-width="0.15">16.1</text><text x="28.40" y="662.54" font-size="10.8" fill="#222" text-anchor="middle" textLength="54.00" lengthAdjust="spacingAndGlyphs" transform="rotate(-90.00 28.40 662.54)" stroke="#222" stroke-width="0.2">E/S (µL/mg)</text><text x="183.45" y="815.00" font-size="10.8" fill="#222" text-anchor="middle" textLength="83.00" lengthAdjust="spacingAndGlyphs" stroke="#222" stroke-width="0.2">Loading (mg/cm²)</text><rect x="328.9" y="541.4" width="12.30" height="241.80" fill="url(#cbar)"/><text x="347.40" y="753.65" font-size="7.8" fill="#222" textLength="12.60" lengthAdjust="spacingAndGlyphs" stroke="#222" stroke-width="0.15">400</text><text x="347.40" y="718.01" font-size="7.8" fill="#222" textLength="12.60" lengthAdjust="spacingAndGlyphs" stroke="#222" stroke-width="0.15">600</text><text x="347.40" y="682.37" font-size="7.8" fill="#222" textLength="12.60" lengthAdjust="spacingAndGlyphs" stroke="#222" stroke-width="0.15">800</text><text x="347.40" y="646.74" font-size="7.8" fill="#222" textLength="16.80" lengthAdjust="spacingAndGlyphs" stroke="#222" stroke-width="0.15">1000</text><text x="347.40" y="611.10" font-size="7.8" fill="#222" textLength="16.80" lengthAdjust="spacingAndGlyphs" stroke="#222" stroke-width="0.15">1200</text><text x="347.40" y="575.46" font-size="7.8" fill="#222" textLength="16.80" lengthAdjust="spacingAndGlyphs" stroke="#222" stroke-width="0.15">1400</text><path d="M341.2 750.95 H343.80 M341.2 715.31 H343.80 M341.2 679.67 H343.80 M341.2 644.04 H343.80 M341.2 608.40 H343.80 M341.2 572.76 H343.80" stroke="#333" stroke-width="0.7"/><text x="286.5" y="528.3" font-size="10" fill="#222" stroke="#222" stroke-width="0.15" textLength="86.9" lengthAdjust="spacingAndGlyphs"><tspan font-style="italic" font-size="12">Q</tspan><tspan font-style="italic" font-size="8.6" dy="1.9">rev</tspan><tspan dy="-1.9"> at 0.1C (mAh/g)</tspan></text><text x="388.20" y="512.80" font-size="18.5" fill="#000" font-weight="bold">e</text><clipPath id="cer1c1"><rect x="418.6" y="518.5" width="79.5" height="71.10000000000002"/></clipPath><path d="M448.80 520.5 V589.6 M478.30 520.5 V589.6 M418.6 573.50 H496.1 M418.6 545.50 H496.1" stroke="#e4e4e4" stroke-width="0.8" fill="none"/><path d="M418.8 551.5 L455.8 567.2 L492.8 580.1 L492.8 586.5 L455.8 568.6 L418.8 553.5 Z" fill="#cfe5f7" opacity="0.85"/><path d="M418.8 552.5 L492.8 583.3" stroke="#2b93e6" stroke-width="1.1"/><g clip-path="url(#cer1c1)" fill="#52a6e6" stroke="#1f3a58" stroke-width="0.45"><circle cx="420.2" cy="524.2" r="1.65"/><circle cx="422.6" cy="528.7" r="1.65"/><circle cx="424.1" cy="528.7" r="1.65"/><circle cx="423.4" cy="529.6" r="1.65"/><circle cx="421.1" cy="539.9" r="1.65"/><circle cx="422.2" cy="539.9" r="1.65"/><circle cx="423.7" cy="539.9" r="1.65"/><circle cx="426.7" cy="539.9" r="1.65"/><circle cx="432.6" cy="539.9" r="1.65"/><circle cx="429.6" cy="539.9" r="1.65"/><circle cx="421.5" cy="545.5" r="1.65"/><circle cx="424.8" cy="545.5" r="1.65"/><circle cx="427.4" cy="546.6" r="1.65"/><circle cx="430.4" cy="545.5" r="1.65"/><circle cx="435.9" cy="551.1" r="1.65"/><circle cx="433.3" cy="551.1" r="1.65"/><circle cx="444.4" cy="556.7" r="1.65"/><circle cx="439.6" cy="556.7" r="1.65"/><circle cx="458.0" cy="558.9" r="1.65"/><circle cx="429.4" cy="568.1" r="1.65"/><circle cx="430.8" cy="556.8" r="1.65"/><circle cx="445.7" cy="565.8" r="1.65"/><circle cx="434.6" cy="570.1" r="1.65"/><circle cx="427.9" cy="567.7" r="1.65"/><circle cx="429.5" cy="564.4" r="1.65"/><circle cx="434.5" cy="567.8" r="1.65"/><circle cx="452.1" cy="565.8" r="1.65"/><circle cx="429.0" cy="564.8" r="1.65"/><circle cx="429.2" cy="560.3" r="1.65"/><circle cx="438.9" cy="569.0" r="1.65"/><circle cx="426.2" cy="560.3" r="1.65"/><circle cx="428.9" cy="550.9" r="1.65"/><circle cx="437.7" cy="567.9" r="1.65"/><circle cx="434.9" cy="556.7" r="1.65"/><circle cx="431.2" cy="559.3" r="1.65"/><circle cx="435.6" cy="562.2" r="1.65"/><circle cx="421.7" cy="562.3" r="1.65"/><circle cx="439.1" cy="569.1" r="1.65"/><circle cx="426.0" cy="566.7" r="1.65"/><circle cx="490.7" cy="570.3" r="1.65"/><circle cx="432.5" cy="559.0" r="1.65"/><circle cx="435.9" cy="558.6" r="1.65"/><circle cx="428.1" cy="558.8" r="1.65"/><circle cx="425.6" cy="556.5" r="1.65"/><circle cx="430.8" cy="565.5" r="1.65"/><circle cx="430.3" cy="567.8" r="1.65"/><circle cx="443.8" cy="565.6" r="1.65"/><circle cx="436.3" cy="561.9" r="1.65"/><circle cx="431.9" cy="564.5" r="1.65"/><circle cx="440.1" cy="570.0" r="1.65"/><circle cx="429.4" cy="565.7" r="1.65"/><circle cx="426.1" cy="568.0" r="1.65"/><circle cx="434.9" cy="564.9" r="1.65"/><circle cx="434.9" cy="568.2" r="1.65"/><circle cx="429.3" cy="564.3" r="1.65"/><circle cx="426.6" cy="562.0" r="1.65"/><circle cx="432.1" cy="564.6" r="1.65"/><circle cx="422.2" cy="551.1" r="1.65"/><circle cx="435.8" cy="568.9" r="1.65"/><circle cx="434.1" cy="570.9" r="1.65"/><circle cx="423.9" cy="556.4" r="1.65"/><circle cx="431.0" cy="556.9" r="1.65"/><circle cx="470.2" cy="565.8" r="1.65"/><circle cx="436.4" cy="565.0" r="1.65"/><circle cx="423.0" cy="558.7" r="1.65"/><circle cx="426.1" cy="562.3" r="1.65"/><circle cx="436.0" cy="568.7" r="1.65"/><circle cx="440.6" cy="568.1" r="1.65"/><circle cx="422.7" cy="558.9" r="1.65"/><circle cx="427.9" cy="565.6" r="1.65"/><circle cx="432.8" cy="551.1" r="1.65"/><circle cx="427.4" cy="568.7" r="1.65"/><circle cx="446.4" cy="567.5" r="1.65"/><circle cx="425.2" cy="556.5" r="1.65"/><circle cx="433.0" cy="566.8" r="1.65"/><circle cx="464.7" cy="570.5" r="1.65"/><circle cx="443.8" cy="569.9" r="1.65"/><circle cx="430.5" cy="566.7" r="1.65"/><circle cx="428.5" cy="551.0" r="1.65"/><circle cx="423.7" cy="560.3" r="1.65"/><circle cx="447.8" cy="565.8" r="1.65"/><circle cx="436.4" cy="566.7" r="1.65"/><circle cx="436.4" cy="560.1" r="1.65"/><circle cx="440.4" cy="565.8" r="1.65"/><circle cx="433.0" cy="567.9" r="1.65"/><circle cx="427.3" cy="565.5" r="1.65"/><circle cx="426.6" cy="562.5" r="1.65"/><circle cx="426.6" cy="556.7" r="1.65"/><circle cx="443.3" cy="567.1" r="1.65"/><circle cx="451.3" cy="565.8" r="1.65"/><circle cx="427.4" cy="545.7" r="1.65"/><circle cx="428.8" cy="566.9" r="1.65"/><circle cx="432.1" cy="569.1" r="1.65"/><circle cx="434.8" cy="560.4" r="1.65"/><circle cx="425.0" cy="560.4" r="1.65"/><circle cx="423.7" cy="562.7" r="1.65"/><circle cx="468.2" cy="568.8" r="1.65"/><circle cx="441.3" cy="566.8" r="1.65"/><circle cx="436.4" cy="562.5" r="1.65"/><circle cx="432.0" cy="565.8" r="1.65"/><circle cx="428.8" cy="558.9" r="1.65"/><circle cx="432.6" cy="568.1" r="1.65"/><circle cx="429.2" cy="566.8" r="1.65"/><circle cx="437.0" cy="564.6" r="1.65"/><circle cx="426.6" cy="565.6" r="1.65"/><circle cx="431.5" cy="560.5" r="1.65"/><circle cx="429.9" cy="564.5" r="1.65"/><circle cx="434.5" cy="566.7" r="1.65"/><circle cx="432.1" cy="564.6" r="1.65"/><circle cx="465.2" cy="569.9" r="1.65"/><circle cx="445.1" cy="570.1" r="1.65"/><circle cx="445.0" cy="569.2" r="1.65"/><circle cx="423.0" cy="565.6" r="1.65"/><circle cx="428.7" cy="565.6" r="1.65"/><circle cx="427.4" cy="562.3" r="1.65"/><circle cx="434.4" cy="560.4" r="1.65"/><circle cx="422.5" cy="558.5" r="1.65"/><circle cx="440.9" cy="556.7" r="1.65"/><circle cx="439.6" cy="558.9" r="1.65"/><circle cx="424.8" cy="564.6" r="1.65"/><circle cx="425.9" cy="550.9" r="1.65"/><circle cx="426.6" cy="556.7" r="1.65"/><circle cx="430.9" cy="565.8" r="1.65"/><circle cx="435.4" cy="564.7" r="1.65"/><circle cx="454.2" cy="564.5" r="1.65"/><circle cx="429.4" cy="562.2" r="1.65"/><circle cx="436.5" cy="560.7" r="1.65"/><circle cx="431.6" cy="562.4" r="1.65"/><circle cx="449.1" cy="564.4" r="1.65"/><circle cx="436.3" cy="566.6" r="1.65"/><circle cx="443.3" cy="564.8" r="1.65"/><circle cx="425.5" cy="564.6" r="1.65"/><circle cx="429.5" cy="560.3" r="1.65"/><circle cx="426.5" cy="569.1" r="1.65"/><circle cx="445.2" cy="565.7" r="1.65"/><circle cx="435.5" cy="559.0" r="1.65"/><circle cx="428.9" cy="560.6" r="1.65"/><circle cx="428.1" cy="564.5" r="1.65"/><circle cx="434.1" cy="562.2" r="1.65"/><circle cx="427.0" cy="567.0" r="1.65"/><circle cx="426.1" cy="566.8" r="1.65"/><circle cx="434.0" cy="565.5" r="1.65"/><circle cx="463.1" cy="569.0" r="1.65"/><circle cx="429.2" cy="558.8" r="1.65"/><circle cx="427.6" cy="566.9" r="1.65"/><circle cx="425.2" cy="556.5" r="1.65"/><circle cx="424.7" cy="568.0" r="1.65"/><circle cx="434.4" cy="567.6" r="1.65"/><circle cx="437.3" cy="565.7" r="1.65"/><circle cx="430.7" cy="556.8" r="1.65"/><circle cx="432.9" cy="566.9" r="1.65"/><circle cx="431.3" cy="570.2" r="1.65"/><circle cx="431.5" cy="562.4" r="1.65"/><circle cx="424.2" cy="562.4" r="1.65"/><circle cx="428.1" cy="568.0" r="1.65"/><circle cx="431.3" cy="567.8" r="1.65"/><circle cx="426.6" cy="565.5" r="1.65"/><circle cx="428.0" cy="562.4" r="1.65"/><circle cx="426.5" cy="558.7" r="1.65"/><circle cx="428.7" cy="569.2" r="1.65"/><circle cx="437.4" cy="551.3" r="1.65"/><circle cx="428.3" cy="564.7" r="1.65"/><circle cx="429.7" cy="565.6" r="1.65"/><circle cx="437.0" cy="562.6" r="1.65"/><circle cx="435.4" cy="564.8" r="1.65"/><circle cx="448.0" cy="550.9" r="1.65"/><circle cx="422.9" cy="556.4" r="1.65"/><circle cx="437.4" cy="566.6" r="1.65"/><circle cx="428.0" cy="565.9" r="1.65"/><circle cx="431.5" cy="565.7" r="1.65"/><circle cx="437.2" cy="566.6" r="1.65"/><circle cx="439.8" cy="562.3" r="1.65"/><circle cx="439.3" cy="568.2" r="1.65"/><circle cx="431.6" cy="551.2" r="1.65"/><circle cx="446.7" cy="567.1" r="1.65"/><circle cx="429.0" cy="564.7" r="1.65"/><circle cx="429.8" cy="558.6" r="1.65"/><circle cx="436.8" cy="570.0" r="1.65"/><circle cx="427.6" cy="567.0" r="1.65"/><circle cx="456.4" cy="567.0" r="1.65"/><circle cx="458.4" cy="567.8" r="1.65"/><circle cx="456.7" cy="568.0" r="1.65"/><circle cx="430.4" cy="562.2" r="1.65"/><circle cx="428.5" cy="565.8" r="1.65"/><circle cx="431.7" cy="564.6" r="1.65"/><circle cx="436.2" cy="569.0" r="1.65"/><circle cx="427.5" cy="569.2" r="1.65"/><circle cx="433.2" cy="557.0" r="1.65"/><circle cx="430.5" cy="568.1" r="1.65"/><circle cx="446.8" cy="569.1" r="1.65"/><circle cx="427.1" cy="551.1" r="1.65"/><circle cx="439.4" cy="560.4" r="1.65"/><circle cx="427.2" cy="565.7" r="1.65"/><circle cx="426.0" cy="565.6" r="1.65"/><circle cx="426.9" cy="564.7" r="1.65"/><circle cx="425.2" cy="566.5" r="1.65"/><circle cx="431.5" cy="562.0" r="1.65"/><circle cx="439.2" cy="565.6" r="1.65"/><circle cx="431.7" cy="564.5" r="1.65"/><circle cx="435.2" cy="560.2" r="1.65"/><circle cx="447.0" cy="564.4" r="1.65"/><circle cx="432.4" cy="551.1" r="1.65"/><circle cx="431.9" cy="556.7" r="1.65"/><circle cx="429.0" cy="569.1" r="1.65"/><circle cx="424.0" cy="556.9" r="1.65"/><circle cx="436.5" cy="568.9" r="1.65"/><circle cx="423.6" cy="567.7" r="1.65"/><circle cx="435.5" cy="562.5" r="1.65"/><circle cx="430.5" cy="566.8" r="1.65"/><circle cx="440.3" cy="566.7" r="1.65"/><circle cx="430.2" cy="556.8" r="1.65"/><circle cx="426.5" cy="565.8" r="1.65"/><circle cx="433.1" cy="568.0" r="1.65"/><circle cx="427.6" cy="562.6" r="1.65"/><circle cx="429.5" cy="556.7" r="1.65"/><circle cx="480.9" cy="569.1" r="1.65"/><circle cx="429.8" cy="568.7" r="1.65"/><circle cx="429.5" cy="566.6" r="1.65"/><circle cx="426.4" cy="564.6" r="1.65"/><circle cx="429.5" cy="551.1" r="1.65"/><circle cx="475.9" cy="567.6" r="1.65"/><circle cx="429.7" cy="558.7" r="1.65"/><circle cx="425.1" cy="556.7" r="1.65"/><circle cx="440.2" cy="566.8" r="1.65"/><circle cx="442.0" cy="564.8" r="1.65"/><circle cx="423.2" cy="559.0" r="1.65"/><circle cx="431.5" cy="567.9" r="1.65"/><circle cx="429.8" cy="564.7" r="1.65"/><circle cx="425.7" cy="560.1" r="1.65"/><circle cx="434.4" cy="568.2" r="1.65"/><circle cx="428.1" cy="559.0" r="1.65"/><circle cx="423.6" cy="556.6" r="1.65"/><circle cx="429.1" cy="556.6" r="1.65"/><circle cx="429.7" cy="566.5" r="1.65"/><circle cx="431.3" cy="564.8" r="1.65"/><circle cx="425.0" cy="551.2" r="1.65"/><circle cx="435.2" cy="560.4" r="1.65"/><circle cx="436.2" cy="567.9" r="1.65"/><circle cx="425.3" cy="562.4" r="1.65"/><circle cx="427.2" cy="551.2" r="1.65"/><circle cx="430.1" cy="564.4" r="1.65"/><circle cx="427.6" cy="562.5" r="1.65"/><circle cx="448.8" cy="551.2" r="1.65"/><circle cx="432.0" cy="564.3" r="1.65"/><circle cx="425.8" cy="564.3" r="1.65"/><circle cx="426.6" cy="566.6" r="1.65"/><circle cx="430.3" cy="566.9" r="1.65"/><circle cx="459.2" cy="562.4" r="1.65"/><circle cx="429.5" cy="564.7" r="1.65"/><circle cx="431.4" cy="568.1" r="1.65"/><circle cx="434.3" cy="568.0" r="1.65"/><circle cx="430.4" cy="564.3" r="1.65"/><circle cx="458.9" cy="565.6" r="1.65"/><circle cx="427.7" cy="566.9" r="1.65"/><circle cx="436.3" cy="562.4" r="1.65"/><circle cx="431.6" cy="567.0" r="1.65"/><circle cx="435.2" cy="564.3" r="1.65"/><circle cx="425.2" cy="560.7" r="1.65"/><circle cx="449.2" cy="565.6" r="1.65"/><circle cx="429.9" cy="565.9" r="1.65"/><circle cx="430.8" cy="564.7" r="1.65"/><circle cx="426.1" cy="560.7" r="1.65"/><circle cx="426.9" cy="567.7" r="1.65"/><circle cx="434.7" cy="564.6" r="1.65"/><circle cx="438.7" cy="564.1" r="1.65"/><circle cx="436.4" cy="560.6" r="1.65"/><circle cx="441.3" cy="567.0" r="1.65"/><circle cx="436.0" cy="565.6" r="1.65"/><circle cx="430.8" cy="564.5" r="1.65"/><circle cx="437.2" cy="568.0" r="1.65"/><circle cx="435.0" cy="566.0" r="1.65"/><circle cx="430.0" cy="562.1" r="1.65"/><circle cx="436.1" cy="564.5" r="1.65"/><circle cx="442.2" cy="569.0" r="1.65"/><circle cx="432.2" cy="565.8" r="1.65"/><circle cx="490.2" cy="570.6" r="1.65"/><circle cx="436.1" cy="562.4" r="1.65"/><circle cx="451.4" cy="569.0" r="1.65"/><circle cx="429.4" cy="562.3" r="1.65"/><circle cx="430.0" cy="567.7" r="1.65"/><circle cx="429.8" cy="564.6" r="1.65"/><circle cx="441.4" cy="564.6" r="1.65"/><circle cx="423.4" cy="556.5" r="1.65"/><circle cx="433.1" cy="569.0" r="1.65"/><circle cx="479.3" cy="569.0" r="1.65"/><circle cx="426.5" cy="564.6" r="1.65"/><circle cx="444.9" cy="568.9" r="1.65"/><circle cx="434.5" cy="562.4" r="1.65"/><circle cx="459.9" cy="568.9" r="1.65"/><circle cx="431.9" cy="565.3" r="1.65"/><circle cx="424.2" cy="565.6" r="1.65"/><circle cx="427.6" cy="562.4" r="1.65"/><circle cx="450.2" cy="568.1" r="1.65"/><circle cx="426.2" cy="564.5" r="1.65"/><circle cx="450.5" cy="570.4" r="1.65"/><circle cx="430.1" cy="567.1" r="1.65"/><circle cx="438.8" cy="564.7" r="1.65"/><circle cx="430.9" cy="556.9" r="1.65"/><circle cx="422.6" cy="562.2" r="1.65"/><circle cx="427.5" cy="557.0" r="1.65"/><circle cx="431.8" cy="564.3" r="1.65"/><circle cx="425.3" cy="568.0" r="1.65"/><circle cx="424.7" cy="558.9" r="1.65"/><circle cx="433.1" cy="567.8" r="1.65"/><circle cx="427.2" cy="562.3" r="1.65"/><circle cx="423.7" cy="556.6" r="1.65"/><circle cx="427.1" cy="564.7" r="1.65"/><circle cx="437.4" cy="566.1" r="1.65"/><circle cx="428.0" cy="539.9" r="1.65"/><circle cx="438.2" cy="564.8" r="1.65"/><circle cx="445.5" cy="565.8" r="1.65"/><circle cx="430.8" cy="560.2" r="1.65"/><circle cx="425.4" cy="564.6" r="1.65"/><circle cx="424.8" cy="564.7" r="1.65"/><circle cx="430.4" cy="562.5" r="1.65"/><circle cx="437.6" cy="570.8" r="1.65"/><circle cx="432.4" cy="556.7" r="1.65"/><circle cx="434.6" cy="568.2" r="1.65"/><circle cx="428.2" cy="567.9" r="1.65"/><circle cx="432.6" cy="562.5" r="1.65"/><circle cx="428.0" cy="564.5" r="1.65"/><circle cx="428.7" cy="568.0" r="1.65"/><circle cx="424.9" cy="562.1" r="1.65"/><circle cx="424.1" cy="567.8" r="1.65"/><circle cx="428.0" cy="566.8" r="1.65"/><circle cx="425.4" cy="569.1" r="1.65"/><circle cx="426.0" cy="566.7" r="1.65"/><circle cx="435.6" cy="564.3" r="1.65"/><circle cx="430.0" cy="564.4" r="1.65"/><circle cx="475.4" cy="569.0" r="1.65"/><circle cx="438.1" cy="562.3" r="1.65"/><circle cx="427.3" cy="564.3" r="1.65"/><circle cx="436.6" cy="568.2" r="1.65"/><circle cx="433.1" cy="565.6" r="1.65"/><circle cx="427.1" cy="551.3" r="1.65"/><circle cx="465.4" cy="568.8" r="1.65"/><circle cx="426.7" cy="562.4" r="1.65"/><circle cx="421.4" cy="562.3" r="1.65"/><circle cx="436.8" cy="564.7" r="1.65"/><circle cx="427.3" cy="562.3" r="1.65"/><circle cx="444.9" cy="566.7" r="1.65"/><circle cx="427.2" cy="564.3" r="1.65"/><circle cx="425.2" cy="567.0" r="1.65"/><circle cx="445.8" cy="569.1" r="1.65"/><circle cx="425.6" cy="559.7" r="1.65"/><circle cx="431.9" cy="560.2" r="1.65"/><circle cx="444.4" cy="562.3" r="1.65"/><circle cx="431.3" cy="564.5" r="1.65"/><circle cx="430.1" cy="567.2" r="1.65"/><circle cx="431.3" cy="560.1" r="1.65"/><circle cx="437.2" cy="562.3" r="1.65"/><circle cx="426.6" cy="569.3" r="1.65"/><circle cx="435.1" cy="560.2" r="1.65"/><circle cx="434.8" cy="562.4" r="1.65"/><circle cx="460.1" cy="562.5" r="1.65"/><circle cx="428.7" cy="567.8" r="1.65"/><circle cx="426.1" cy="567.8" r="1.65"/><circle cx="436.2" cy="562.4" r="1.65"/><circle cx="428.4" cy="569.0" r="1.65"/><circle cx="432.5" cy="567.0" r="1.65"/><circle cx="431.5" cy="568.1" r="1.65"/><circle cx="440.8" cy="568.9" r="1.65"/><circle cx="427.2" cy="568.8" r="1.65"/><circle cx="430.0" cy="565.6" r="1.65"/><circle cx="422.1" cy="556.6" r="1.65"/><circle cx="426.2" cy="560.5" r="1.65"/><circle cx="445.6" cy="565.7" r="1.65"/><circle cx="427.1" cy="565.8" r="1.65"/><circle cx="427.0" cy="550.8" r="1.65"/><circle cx="425.1" cy="560.5" r="1.65"/><circle cx="434.8" cy="558.9" r="1.65"/><circle cx="431.8" cy="569.0" r="1.65"/><circle cx="425.2" cy="560.6" r="1.65"/><circle cx="435.6" cy="568.7" r="1.65"/><circle cx="432.3" cy="562.4" r="1.65"/><circle cx="436.4" cy="564.7" r="1.65"/><circle cx="427.2" cy="567.9" r="1.65"/><circle cx="448.7" cy="566.9" r="1.65"/><circle cx="433.5" cy="558.9" r="1.65"/><circle cx="429.9" cy="562.5" r="1.65"/><circle cx="427.8" cy="560.3" r="1.65"/><circle cx="429.2" cy="566.8" r="1.65"/><circle cx="437.4" cy="568.1" r="1.65"/><circle cx="429.0" cy="567.7" r="1.65"/><circle cx="439.7" cy="565.6" r="1.65"/><circle cx="434.9" cy="559.1" r="1.65"/><circle cx="443.0" cy="564.5" r="1.65"/><circle cx="437.0" cy="565.6" r="1.65"/><circle cx="430.2" cy="567.6" r="1.65"/><circle cx="423.3" cy="560.5" r="1.65"/><circle cx="432.6" cy="565.5" r="1.65"/><circle cx="436.7" cy="570.2" r="1.65"/><circle cx="431.7" cy="568.9" r="1.65"/><circle cx="434.6" cy="566.8" r="1.65"/><circle cx="428.0" cy="566.8" r="1.65"/><circle cx="471.0" cy="564.5" r="1.65"/><circle cx="426.0" cy="562.5" r="1.65"/><circle cx="443.2" cy="569.4" r="1.65"/><circle cx="431.6" cy="566.8" r="1.65"/><circle cx="427.9" cy="551.2" r="1.65"/><circle cx="424.7" cy="566.8" r="1.65"/><circle cx="429.7" cy="560.3" r="1.65"/><circle cx="444.3" cy="564.6" r="1.65"/><circle cx="433.9" cy="556.5" r="1.65"/><circle cx="426.9" cy="560.4" r="1.65"/><circle cx="444.1" cy="567.9" r="1.65"/><circle cx="444.1" cy="564.4" r="1.65"/><circle cx="438.7" cy="565.6" r="1.65"/><circle cx="436.7" cy="560.4" r="1.65"/><circle cx="440.6" cy="566.8" r="1.65"/><circle cx="434.5" cy="551.2" r="1.65"/><circle cx="436.6" cy="565.8" r="1.65"/><circle cx="426.7" cy="560.4" r="1.65"/><circle cx="445.1" cy="568.9" r="1.65"/><circle cx="432.1" cy="564.6" r="1.65"/><circle cx="453.7" cy="567.8" r="1.65"/><circle cx="423.0" cy="562.0" r="1.65"/><circle cx="436.0" cy="560.0" r="1.65"/><circle cx="438.7" cy="567.9" r="1.65"/><circle cx="428.7" cy="566.6" r="1.65"/><circle cx="433.8" cy="558.8" r="1.65"/><circle cx="436.4" cy="566.6" r="1.65"/><circle cx="434.8" cy="566.6" r="1.65"/><circle cx="427.7" cy="556.6" r="1.65"/><circle cx="429.8" cy="560.2" r="1.65"/><circle cx="439.1" cy="570.7" r="1.65"/><circle cx="442.1" cy="567.9" r="1.65"/><circle cx="431.2" cy="560.3" r="1.65"/><circle cx="431.1" cy="560.3" r="1.65"/><circle cx="431.9" cy="566.6" r="1.65"/><circle cx="439.3" cy="556.6" r="1.65"/><circle cx="425.6" cy="566.6" r="1.65"/><circle cx="424.7" cy="564.3" r="1.65"/><circle cx="431.4" cy="564.7" r="1.65"/><circle cx="425.4" cy="562.3" r="1.65"/><circle cx="427.5" cy="558.8" r="1.65"/><circle cx="431.2" cy="558.9" r="1.65"/><circle cx="434.0" cy="564.7" r="1.65"/><circle cx="425.6" cy="550.9" r="1.65"/><circle cx="436.9" cy="567.9" r="1.65"/><circle cx="423.6" cy="564.7" r="1.65"/><circle cx="434.6" cy="556.4" r="1.65"/><circle cx="424.0" cy="562.5" r="1.65"/><circle cx="424.9" cy="556.7" r="1.65"/><circle cx="435.4" cy="566.9" r="1.65"/><circle cx="428.3" cy="564.5" r="1.65"/><circle cx="426.6" cy="564.4" r="1.65"/><circle cx="428.1" cy="562.4" r="1.65"/><circle cx="433.9" cy="565.7" r="1.65"/><circle cx="430.3" cy="564.6" r="1.65"/><circle cx="430.4" cy="560.6" r="1.65"/><circle cx="439.5" cy="560.2" r="1.65"/><circle cx="426.9" cy="562.3" r="1.65"/><circle cx="428.0" cy="560.4" r="1.65"/><circle cx="427.8" cy="559.0" r="1.65"/><circle cx="440.8" cy="569.1" r="1.65"/><circle cx="438.8" cy="570.1" r="1.65"/><circle cx="442.2" cy="556.8" r="1.65"/><circle cx="430.4" cy="556.5" r="1.65"/><circle cx="429.7" cy="565.0" r="1.65"/><circle cx="437.4" cy="564.9" r="1.65"/><circle cx="428.4" cy="566.8" r="1.65"/><circle cx="472.5" cy="571.0" r="1.65"/><circle cx="436.1" cy="564.5" r="1.65"/><circle cx="427.0" cy="569.1" r="1.65"/><circle cx="430.1" cy="558.8" r="1.65"/><circle cx="429.9" cy="566.7" r="1.65"/><circle cx="448.6" cy="565.4" r="1.65"/><circle cx="466.2" cy="562.1" r="1.65"/><circle cx="430.0" cy="550.9" r="1.65"/><circle cx="430.7" cy="565.6" r="1.65"/><circle cx="422.5" cy="556.5" r="1.65"/><circle cx="432.0" cy="567.8" r="1.65"/><circle cx="430.6" cy="566.9" r="1.65"/><circle cx="425.6" cy="560.6" r="1.65"/><circle cx="436.7" cy="556.9" r="1.65"/><circle cx="424.1" cy="565.6" r="1.65"/><circle cx="429.3" cy="560.8" r="1.65"/><circle cx="431.5" cy="564.5" r="1.65"/><circle cx="425.0" cy="568.0" r="1.65"/><circle cx="437.4" cy="565.5" r="1.65"/><circle cx="439.5" cy="556.7" r="1.65"/><circle cx="424.6" cy="562.4" r="1.65"/><circle cx="424.5" cy="560.4" r="1.65"/><circle cx="435.0" cy="560.8" r="1.65"/><circle cx="430.4" cy="566.7" r="1.65"/><circle cx="425.1" cy="556.6" r="1.65"/><circle cx="428.9" cy="551.4" r="1.65"/><circle cx="430.0" cy="550.9" r="1.65"/><circle cx="429.7" cy="556.7" r="1.65"/><circle cx="490.4" cy="570.7" r="1.65"/><circle cx="433.3" cy="567.0" r="1.65"/><circle cx="449.2" cy="568.9" r="1.65"/><circle cx="443.4" cy="568.9" r="1.65"/><circle cx="435.7" cy="567.9" r="1.65"/><circle cx="439.7" cy="560.6" r="1.65"/><circle cx="442.7" cy="558.8" r="1.65"/><circle cx="436.0" cy="567.7" r="1.65"/><circle cx="425.1" cy="558.9" r="1.65"/><circle cx="437.4" cy="568.8" r="1.65"/><circle cx="431.1" cy="565.7" r="1.65"/><circle cx="446.8" cy="569.0" r="1.65"/><circle cx="431.2" cy="568.9" r="1.65"/><circle cx="434.4" cy="564.5" r="1.65"/><circle cx="432.8" cy="564.1" r="1.65"/><circle cx="447.8" cy="567.8" r="1.65"/><circle cx="431.8" cy="566.9" r="1.65"/><circle cx="429.0" cy="567.7" r="1.65"/><circle cx="432.7" cy="565.8" r="1.65"/><circle cx="428.2" cy="565.6" r="1.65"/><circle cx="431.7" cy="562.2" r="1.65"/><circle cx="430.6" cy="568.0" r="1.65"/><circle cx="432.4" cy="564.6" r="1.65"/><circle cx="451.8" cy="565.8" r="1.65"/><circle cx="428.3" cy="556.7" r="1.65"/><circle cx="430.8" cy="559.0" r="1.65"/><circle cx="429.4" cy="562.0" r="1.65"/><circle cx="435.7" cy="567.8" r="1.65"/><circle cx="425.2" cy="569.0" r="1.65"/><circle cx="476.8" cy="570.4" r="1.65"/><circle cx="430.4" cy="556.3" r="1.65"/><circle cx="434.6" cy="556.5" r="1.65"/><circle cx="430.3" cy="570.6" r="1.65"/><circle cx="427.9" cy="566.7" r="1.65"/><circle cx="426.3" cy="564.5" r="1.65"/><circle cx="434.3" cy="568.0" r="1.65"/><circle cx="444.3" cy="565.3" r="1.65"/><circle cx="432.8" cy="564.5" r="1.65"/><circle cx="431.8" cy="567.0" r="1.65"/><circle cx="433.7" cy="564.6" r="1.65"/><circle cx="426.0" cy="569.4" r="1.65"/><circle cx="428.8" cy="567.8" r="1.65"/><circle cx="429.1" cy="566.6" r="1.65"/><circle cx="432.6" cy="560.1" r="1.65"/><circle cx="430.4" cy="568.6" r="1.65"/><circle cx="425.1" cy="564.7" r="1.65"/><circle cx="440.3" cy="562.2" r="1.65"/><circle cx="448.0" cy="566.6" r="1.65"/><circle cx="429.1" cy="558.8" r="1.65"/><circle cx="433.4" cy="566.8" r="1.65"/></g><path d="M418.6 520.5 V589.6 H496.1" stroke="#555" stroke-width="1" fill="none"/><text x="422.60" y="516.80" font-size="8.8" fill="#00008b" textLength="69.30" lengthAdjust="spacingAndGlyphs" stroke="#00008b" stroke-width="0.12">Pearson Corr: -0.51</text><clipPath id="cer2c1"><rect x="418.6" y="611.7" width="79.5" height="70.89999999999998"/></clipPath><path d="M448.80 613.7 V682.6 M478.30 613.7 V682.6 M418.6 655.75 H496.1 M418.6 628.90 H496.1" stroke="#e4e4e4" stroke-width="0.8" fill="none"/><path d="M419.5 632.0 L456.1 638.8 L492.6 642.7 L492.6 649.1 L456.1 640.2 L419.5 634.0 Z" fill="#cfe5f7" opacity="0.85"/><path d="M419.5 633.0 L492.6 645.9" stroke="#2b93e6" stroke-width="1.1"/><g clip-path="url(#cer2c1)" fill="#52a6e6" stroke="#1f3a58" stroke-width="0.45"><circle cx="420.2" cy="635.9" r="1.65"/><circle cx="422.6" cy="638.2" r="1.65"/><circle cx="424.1" cy="639.7" r="1.65"/><circle cx="423.4" cy="632.4" r="1.65"/><circle cx="421.1" cy="632.0" r="1.65"/><circle cx="422.2" cy="633.3" r="1.65"/><circle cx="423.7" cy="634.7" r="1.65"/><circle cx="426.7" cy="628.2" r="1.65"/><circle cx="432.6" cy="632.4" r="1.65"/><circle cx="429.6" cy="634.5" r="1.65"/><circle cx="421.5" cy="631.9" r="1.65"/><circle cx="424.8" cy="634.7" r="1.65"/><circle cx="427.4" cy="632.3" r="1.65"/><circle cx="430.4" cy="633.6" r="1.65"/><circle cx="435.9" cy="632.8" r="1.65"/><circle cx="433.3" cy="634.3" r="1.65"/><circle cx="444.4" cy="635.9" r="1.65"/><circle cx="439.6" cy="632.8" r="1.65"/><circle cx="458.0" cy="630.9" r="1.65"/><circle cx="429.4" cy="636.4" r="1.65"/><circle cx="430.8" cy="637.2" r="1.65"/><circle cx="445.7" cy="630.4" r="1.65"/><circle cx="434.6" cy="636.3" r="1.65"/><circle cx="427.9" cy="632.5" r="1.65"/><circle cx="429.5" cy="638.8" r="1.65"/><circle cx="434.5" cy="629.0" r="1.65"/><circle cx="452.1" cy="658.9" r="1.65"/><circle cx="429.0" cy="636.7" r="1.65"/><circle cx="429.2" cy="665.2" r="1.65"/><circle cx="438.9" cy="629.2" r="1.65"/><circle cx="426.2" cy="633.8" r="1.65"/><circle cx="428.9" cy="630.9" r="1.65"/><circle cx="437.7" cy="635.3" r="1.65"/><circle cx="434.9" cy="634.5" r="1.65"/><circle cx="431.2" cy="629.2" r="1.65"/><circle cx="435.6" cy="644.0" r="1.65"/><circle cx="421.7" cy="636.4" r="1.65"/><circle cx="439.1" cy="635.2" r="1.65"/><circle cx="426.0" cy="630.5" r="1.65"/><circle cx="490.7" cy="631.1" r="1.65"/><circle cx="432.5" cy="630.0" r="1.65"/><circle cx="435.9" cy="630.6" r="1.65"/><circle cx="428.1" cy="637.0" r="1.65"/><circle cx="425.6" cy="628.4" r="1.65"/><circle cx="430.8" cy="631.8" r="1.65"/><circle cx="430.3" cy="633.4" r="1.65"/><circle cx="443.8" cy="636.7" r="1.65"/><circle cx="436.3" cy="645.9" r="1.65"/><circle cx="431.9" cy="634.4" r="1.65"/><circle cx="440.1" cy="630.6" r="1.65"/><circle cx="429.4" cy="632.3" r="1.65"/><circle cx="426.1" cy="652.0" r="1.65"/><circle cx="434.9" cy="640.8" r="1.65"/><circle cx="434.9" cy="630.1" r="1.65"/><circle cx="429.3" cy="640.7" r="1.65"/><circle cx="426.6" cy="646.6" r="1.65"/><circle cx="432.1" cy="634.2" r="1.65"/><circle cx="422.2" cy="646.4" r="1.65"/><circle cx="435.8" cy="671.5" r="1.65"/><circle cx="434.1" cy="632.7" r="1.65"/><circle cx="423.9" cy="639.8" r="1.65"/><circle cx="431.0" cy="628.9" r="1.65"/><circle cx="470.2" cy="629.4" r="1.65"/><circle cx="436.4" cy="635.4" r="1.65"/><circle cx="423.0" cy="636.7" r="1.65"/><circle cx="426.1" cy="637.6" r="1.65"/><circle cx="436.0" cy="642.9" r="1.65"/><circle cx="440.6" cy="643.7" r="1.65"/><circle cx="422.7" cy="634.2" r="1.65"/><circle cx="427.9" cy="656.8" r="1.65"/><circle cx="432.8" cy="657.1" r="1.65"/><circle cx="427.4" cy="634.9" r="1.65"/><circle cx="446.4" cy="636.9" r="1.65"/><circle cx="425.2" cy="630.7" r="1.65"/><circle cx="433.0" cy="634.4" r="1.65"/><circle cx="464.7" cy="631.4" r="1.65"/><circle cx="443.8" cy="634.9" r="1.65"/><circle cx="430.5" cy="644.9" r="1.65"/><circle cx="428.5" cy="636.9" r="1.65"/><circle cx="423.7" cy="643.2" r="1.65"/><circle cx="447.8" cy="632.4" r="1.65"/><circle cx="436.4" cy="642.3" r="1.65"/><circle cx="436.4" cy="634.1" r="1.65"/><circle cx="440.4" cy="641.5" r="1.65"/><circle cx="433.0" cy="672.8" r="1.65"/><circle cx="427.3" cy="629.9" r="1.65"/><circle cx="426.6" cy="641.4" r="1.65"/><circle cx="426.6" cy="634.5" r="1.65"/><circle cx="443.3" cy="629.9" r="1.65"/><circle cx="451.3" cy="634.1" r="1.65"/><circle cx="427.4" cy="628.8" r="1.65"/><circle cx="428.8" cy="633.3" r="1.65"/><circle cx="432.1" cy="635.4" r="1.65"/><circle cx="434.8" cy="633.0" r="1.65"/><circle cx="425.0" cy="631.0" r="1.65"/><circle cx="423.7" cy="632.7" r="1.65"/><circle cx="468.2" cy="638.1" r="1.65"/><circle cx="441.3" cy="637.3" r="1.65"/><circle cx="436.4" cy="628.6" r="1.65"/><circle cx="432.0" cy="629.3" r="1.65"/><circle cx="428.8" cy="650.1" r="1.65"/><circle cx="432.6" cy="642.7" r="1.65"/><circle cx="429.2" cy="637.7" r="1.65"/><circle cx="437.0" cy="633.6" r="1.65"/><circle cx="426.6" cy="638.3" r="1.65"/><circle cx="431.5" cy="631.8" r="1.65"/><circle cx="429.9" cy="661.6" r="1.65"/><circle cx="434.5" cy="630.8" r="1.65"/><circle cx="432.1" cy="646.9" r="1.65"/><circle cx="465.2" cy="641.1" r="1.65"/><circle cx="445.1" cy="676.1" r="1.65"/><circle cx="445.0" cy="633.8" r="1.65"/><circle cx="423.0" cy="634.5" r="1.65"/><circle cx="428.7" cy="628.4" r="1.65"/><circle cx="427.4" cy="634.7" r="1.65"/><circle cx="434.4" cy="630.5" r="1.65"/><circle cx="422.5" cy="637.1" r="1.65"/><circle cx="440.9" cy="630.0" r="1.65"/><circle cx="439.6" cy="646.5" r="1.65"/><circle cx="424.8" cy="645.7" r="1.65"/><circle cx="425.9" cy="633.4" r="1.65"/><circle cx="426.6" cy="653.8" r="1.65"/><circle cx="430.9" cy="659.4" r="1.65"/><circle cx="435.4" cy="632.5" r="1.65"/><circle cx="454.2" cy="644.6" r="1.65"/><circle cx="429.4" cy="639.2" r="1.65"/><circle cx="436.5" cy="645.8" r="1.65"/><circle cx="431.6" cy="632.9" r="1.65"/><circle cx="449.1" cy="630.0" r="1.65"/><circle cx="436.3" cy="667.5" r="1.65"/><circle cx="443.3" cy="641.6" r="1.65"/><circle cx="425.5" cy="634.9" r="1.65"/><circle cx="429.5" cy="635.9" r="1.65"/><circle cx="426.5" cy="631.4" r="1.65"/><circle cx="445.2" cy="644.2" r="1.65"/><circle cx="435.5" cy="635.7" r="1.65"/><circle cx="428.9" cy="632.2" r="1.65"/><circle cx="428.1" cy="629.6" r="1.65"/><circle cx="434.1" cy="638.9" r="1.65"/><circle cx="427.0" cy="628.5" r="1.65"/><circle cx="426.1" cy="634.3" r="1.65"/><circle cx="434.0" cy="629.3" r="1.65"/><circle cx="463.1" cy="638.6" r="1.65"/><circle cx="429.2" cy="637.4" r="1.65"/><circle cx="427.6" cy="634.6" r="1.65"/><circle cx="425.2" cy="652.0" r="1.65"/><circle cx="424.7" cy="633.9" r="1.65"/><circle cx="434.4" cy="631.4" r="1.65"/><circle cx="437.3" cy="636.8" r="1.65"/><circle cx="430.7" cy="650.9" r="1.65"/><circle cx="432.9" cy="629.2" r="1.65"/><circle cx="431.3" cy="640.9" r="1.65"/><circle cx="431.5" cy="634.3" r="1.65"/><circle cx="424.2" cy="676.8" r="1.65"/><circle cx="428.1" cy="630.8" r="1.65"/><circle cx="431.3" cy="639.3" r="1.65"/><circle cx="426.6" cy="637.7" r="1.65"/><circle cx="428.0" cy="636.0" r="1.65"/><circle cx="426.5" cy="628.4" r="1.65"/><circle cx="428.7" cy="633.8" r="1.65"/><circle cx="437.4" cy="632.5" r="1.65"/><circle cx="428.3" cy="633.0" r="1.65"/><circle cx="429.7" cy="636.0" r="1.65"/><circle cx="437.0" cy="632.1" r="1.65"/><circle cx="435.4" cy="641.6" r="1.65"/><circle cx="448.0" cy="633.8" r="1.65"/><circle cx="422.9" cy="632.5" r="1.65"/><circle cx="437.4" cy="629.8" r="1.65"/><circle cx="428.0" cy="635.3" r="1.65"/><circle cx="431.5" cy="640.2" r="1.65"/><circle cx="437.2" cy="637.6" r="1.65"/><circle cx="439.8" cy="638.7" r="1.65"/><circle cx="439.3" cy="651.6" r="1.65"/><circle cx="431.6" cy="649.3" r="1.65"/><circle cx="446.7" cy="638.2" r="1.65"/><circle cx="429.0" cy="633.7" r="1.65"/><circle cx="429.8" cy="626.3" r="1.65"/><circle cx="436.8" cy="636.4" r="1.65"/><circle cx="427.6" cy="637.9" r="1.65"/><circle cx="456.4" cy="632.2" r="1.65"/><circle cx="458.4" cy="628.5" r="1.65"/><circle cx="456.7" cy="630.3" r="1.65"/><circle cx="430.4" cy="634.9" r="1.65"/><circle cx="428.5" cy="630.9" r="1.65"/><circle cx="431.7" cy="630.5" r="1.65"/><circle cx="436.2" cy="650.9" r="1.65"/><circle cx="427.5" cy="633.0" r="1.65"/><circle cx="433.2" cy="631.7" r="1.65"/><circle cx="430.5" cy="629.1" r="1.65"/><circle cx="446.8" cy="628.6" r="1.65"/><circle cx="427.1" cy="641.2" r="1.65"/><circle cx="439.4" cy="636.1" r="1.65"/><circle cx="427.2" cy="642.1" r="1.65"/><circle cx="426.0" cy="641.4" r="1.65"/><circle cx="426.9" cy="633.9" r="1.65"/><circle cx="425.2" cy="637.5" r="1.65"/><circle cx="431.5" cy="641.9" r="1.65"/><circle cx="439.2" cy="637.9" r="1.65"/><circle cx="431.7" cy="641.5" r="1.65"/><circle cx="435.2" cy="666.3" r="1.65"/><circle cx="447.0" cy="643.3" r="1.65"/><circle cx="432.4" cy="632.8" r="1.65"/><circle cx="431.9" cy="631.1" r="1.65"/><circle cx="429.0" cy="634.9" r="1.65"/><circle cx="424.0" cy="633.3" r="1.65"/><circle cx="436.5" cy="619.0" r="1.65"/><circle cx="423.6" cy="647.8" r="1.65"/><circle cx="435.5" cy="631.6" r="1.65"/><circle cx="430.5" cy="638.8" r="1.65"/><circle cx="440.3" cy="632.9" r="1.65"/><circle cx="430.2" cy="645.2" r="1.65"/><circle cx="426.5" cy="638.7" r="1.65"/><circle cx="433.1" cy="629.4" r="1.65"/><circle cx="427.6" cy="634.5" r="1.65"/><circle cx="429.5" cy="644.3" r="1.65"/><circle cx="480.9" cy="629.0" r="1.65"/><circle cx="429.8" cy="631.1" r="1.65"/><circle cx="429.5" cy="639.7" r="1.65"/><circle cx="426.4" cy="621.1" r="1.65"/><circle cx="429.5" cy="631.0" r="1.65"/><circle cx="475.9" cy="648.7" r="1.65"/><circle cx="429.7" cy="621.7" r="1.65"/><circle cx="425.1" cy="638.6" r="1.65"/><circle cx="440.2" cy="649.0" r="1.65"/><circle cx="442.0" cy="636.8" r="1.65"/><circle cx="423.2" cy="628.6" r="1.65"/><circle cx="431.5" cy="628.4" r="1.65"/><circle cx="429.8" cy="640.6" r="1.65"/><circle cx="425.7" cy="636.3" r="1.65"/><circle cx="434.4" cy="637.5" r="1.65"/><circle cx="428.1" cy="632.9" r="1.65"/><circle cx="423.6" cy="632.1" r="1.65"/><circle cx="429.1" cy="640.5" r="1.65"/><circle cx="429.7" cy="632.2" r="1.65"/><circle cx="431.3" cy="641.3" r="1.65"/><circle cx="425.0" cy="632.2" r="1.65"/><circle cx="435.2" cy="631.6" r="1.65"/><circle cx="436.2" cy="634.3" r="1.65"/><circle cx="425.3" cy="639.6" r="1.65"/><circle cx="427.2" cy="633.9" r="1.65"/><circle cx="430.1" cy="619.3" r="1.65"/><circle cx="427.6" cy="637.7" r="1.65"/><circle cx="448.8" cy="629.6" r="1.65"/><circle cx="432.0" cy="634.5" r="1.65"/><circle cx="425.8" cy="629.6" r="1.65"/><circle cx="426.6" cy="630.2" r="1.65"/><circle cx="430.3" cy="641.3" r="1.65"/><circle cx="459.2" cy="634.5" r="1.65"/><circle cx="429.5" cy="629.5" r="1.65"/><circle cx="431.4" cy="639.6" r="1.65"/><circle cx="434.3" cy="636.4" r="1.65"/><circle cx="430.4" cy="650.4" r="1.65"/><circle cx="458.9" cy="630.5" r="1.65"/><circle cx="427.7" cy="636.1" r="1.65"/><circle cx="436.3" cy="620.7" r="1.65"/><circle cx="431.6" cy="640.7" r="1.65"/><circle cx="435.2" cy="654.3" r="1.65"/><circle cx="425.2" cy="623.7" r="1.65"/><circle cx="449.2" cy="633.3" r="1.65"/><circle cx="429.9" cy="634.3" r="1.65"/><circle cx="430.8" cy="632.2" r="1.65"/><circle cx="426.1" cy="638.9" r="1.65"/><circle cx="426.9" cy="629.5" r="1.65"/><circle cx="434.7" cy="629.0" r="1.65"/><circle cx="438.7" cy="629.3" r="1.65"/><circle cx="436.4" cy="628.6" r="1.65"/><circle cx="441.3" cy="629.1" r="1.65"/><circle cx="436.0" cy="637.5" r="1.65"/><circle cx="430.8" cy="631.9" r="1.65"/><circle cx="437.2" cy="634.9" r="1.65"/><circle cx="435.0" cy="632.1" r="1.65"/><circle cx="430.0" cy="632.3" r="1.65"/><circle cx="436.1" cy="643.4" r="1.65"/><circle cx="442.2" cy="647.0" r="1.65"/><circle cx="432.2" cy="641.9" r="1.65"/><circle cx="490.2" cy="629.8" r="1.65"/><circle cx="436.1" cy="635.7" r="1.65"/><circle cx="451.4" cy="652.0" r="1.65"/><circle cx="429.4" cy="653.4" r="1.65"/><circle cx="430.0" cy="637.4" r="1.65"/><circle cx="429.8" cy="631.5" r="1.65"/><circle cx="441.4" cy="635.3" r="1.65"/><circle cx="423.4" cy="639.7" r="1.65"/><circle cx="433.1" cy="636.7" r="1.65"/><circle cx="479.3" cy="638.4" r="1.65"/><circle cx="426.5" cy="632.5" r="1.65"/><circle cx="444.9" cy="639.8" r="1.65"/><circle cx="434.5" cy="636.2" r="1.65"/><circle cx="459.9" cy="635.4" r="1.65"/><circle cx="431.9" cy="646.1" r="1.65"/><circle cx="424.2" cy="631.2" r="1.65"/><circle cx="427.6" cy="627.1" r="1.65"/><circle cx="450.2" cy="633.5" r="1.65"/><circle cx="426.2" cy="646.4" r="1.65"/><circle cx="450.5" cy="633.4" r="1.65"/><circle cx="430.1" cy="631.3" r="1.65"/><circle cx="438.8" cy="630.2" r="1.65"/><circle cx="430.9" cy="636.2" r="1.65"/><circle cx="422.6" cy="632.2" r="1.65"/><circle cx="427.5" cy="622.5" r="1.65"/><circle cx="431.8" cy="635.7" r="1.65"/><circle cx="425.3" cy="618.9" r="1.65"/><circle cx="424.7" cy="636.9" r="1.65"/><circle cx="433.1" cy="633.4" r="1.65"/><circle cx="427.2" cy="641.3" r="1.65"/><circle cx="423.7" cy="628.4" r="1.65"/><circle cx="427.1" cy="646.7" r="1.65"/><circle cx="437.4" cy="639.8" r="1.65"/><circle cx="428.0" cy="629.6" r="1.65"/><circle cx="438.2" cy="636.8" r="1.65"/><circle cx="445.5" cy="637.8" r="1.65"/><circle cx="430.8" cy="629.0" r="1.65"/><circle cx="425.4" cy="635.5" r="1.65"/><circle cx="424.8" cy="634.1" r="1.65"/><circle cx="430.4" cy="631.3" r="1.65"/><circle cx="437.6" cy="635.8" r="1.65"/><circle cx="432.4" cy="644.5" r="1.65"/><circle cx="434.6" cy="634.5" r="1.65"/><circle cx="428.2" cy="630.8" r="1.65"/><circle cx="432.6" cy="631.3" r="1.65"/><circle cx="428.0" cy="629.8" r="1.65"/><circle cx="428.7" cy="637.5" r="1.65"/><circle cx="424.9" cy="637.7" r="1.65"/><circle cx="424.1" cy="636.6" r="1.65"/><circle cx="428.0" cy="643.2" r="1.65"/><circle cx="425.4" cy="629.7" r="1.65"/><circle cx="426.0" cy="635.0" r="1.65"/><circle cx="435.6" cy="630.3" r="1.65"/><circle cx="430.0" cy="663.3" r="1.65"/><circle cx="475.4" cy="630.9" r="1.65"/><circle cx="438.1" cy="628.5" r="1.65"/><circle cx="427.3" cy="647.8" r="1.65"/><circle cx="436.6" cy="642.5" r="1.65"/><circle cx="433.1" cy="630.4" r="1.65"/><circle cx="427.1" cy="637.8" r="1.65"/><circle cx="465.4" cy="641.0" r="1.65"/><circle cx="426.7" cy="647.6" r="1.65"/><circle cx="421.4" cy="635.6" r="1.65"/><circle cx="436.8" cy="632.7" r="1.65"/><circle cx="427.3" cy="630.5" r="1.65"/><circle cx="444.9" cy="627.6" r="1.65"/><circle cx="427.2" cy="667.2" r="1.65"/><circle cx="425.2" cy="643.0" r="1.65"/><circle cx="445.8" cy="630.2" r="1.65"/><circle cx="425.6" cy="634.0" r="1.65"/><circle cx="431.9" cy="639.3" r="1.65"/><circle cx="444.4" cy="634.1" r="1.65"/><circle cx="431.3" cy="672.1" r="1.65"/><circle cx="430.1" cy="638.9" r="1.65"/><circle cx="431.3" cy="653.6" r="1.65"/><circle cx="437.2" cy="637.3" r="1.65"/><circle cx="426.6" cy="633.7" r="1.65"/><circle cx="435.1" cy="632.4" r="1.65"/><circle cx="434.8" cy="633.1" r="1.65"/><circle cx="460.1" cy="641.5" r="1.65"/><circle cx="428.7" cy="631.9" r="1.65"/><circle cx="426.1" cy="630.1" r="1.65"/><circle cx="436.2" cy="632.2" r="1.65"/><circle cx="428.4" cy="628.9" r="1.65"/><circle cx="432.5" cy="642.4" r="1.65"/><circle cx="431.5" cy="643.8" r="1.65"/><circle cx="440.8" cy="631.1" r="1.65"/><circle cx="427.2" cy="645.0" r="1.65"/><circle cx="430.0" cy="629.8" r="1.65"/><circle cx="422.1" cy="635.6" r="1.65"/><circle cx="426.2" cy="641.2" r="1.65"/><circle cx="445.6" cy="633.6" r="1.65"/><circle cx="427.1" cy="628.9" r="1.65"/><circle cx="427.0" cy="632.3" r="1.65"/><circle cx="425.1" cy="618.2" r="1.65"/><circle cx="434.8" cy="629.4" r="1.65"/><circle cx="431.8" cy="631.5" r="1.65"/><circle cx="425.2" cy="666.5" r="1.65"/><circle cx="435.6" cy="634.4" r="1.65"/><circle cx="432.3" cy="632.2" r="1.65"/><circle cx="436.4" cy="641.0" r="1.65"/><circle cx="427.2" cy="668.2" r="1.65"/><circle cx="448.7" cy="635.3" r="1.65"/><circle cx="433.5" cy="629.6" r="1.65"/><circle cx="429.9" cy="630.3" r="1.65"/><circle cx="427.8" cy="636.7" r="1.65"/><circle cx="429.2" cy="633.3" r="1.65"/><circle cx="437.4" cy="629.6" r="1.65"/><circle cx="429.0" cy="629.4" r="1.65"/><circle cx="439.7" cy="640.4" r="1.65"/><circle cx="434.9" cy="637.0" r="1.65"/><circle cx="443.0" cy="628.4" r="1.65"/><circle cx="437.0" cy="640.6" r="1.65"/><circle cx="430.2" cy="630.6" r="1.65"/><circle cx="423.3" cy="635.6" r="1.65"/><circle cx="432.6" cy="636.1" r="1.65"/><circle cx="436.7" cy="646.2" r="1.65"/><circle cx="431.7" cy="638.4" r="1.65"/><circle cx="434.6" cy="643.9" r="1.65"/><circle cx="428.0" cy="628.8" r="1.65"/><circle cx="471.0" cy="630.6" r="1.65"/><circle cx="426.0" cy="622.5" r="1.65"/><circle cx="443.2" cy="631.5" r="1.65"/><circle cx="431.6" cy="645.2" r="1.65"/><circle cx="427.9" cy="638.0" r="1.65"/><circle cx="424.7" cy="639.8" r="1.65"/><circle cx="429.7" cy="634.8" r="1.65"/><circle cx="444.3" cy="648.0" r="1.65"/><circle cx="433.9" cy="643.6" r="1.65"/><circle cx="426.9" cy="630.2" r="1.65"/><circle cx="444.1" cy="630.4" r="1.65"/><circle cx="444.1" cy="643.7" r="1.65"/><circle cx="438.7" cy="633.3" r="1.65"/><circle cx="436.7" cy="676.3" r="1.65"/><circle cx="440.6" cy="633.1" r="1.65"/><circle cx="434.5" cy="633.1" r="1.65"/><circle cx="436.6" cy="635.2" r="1.65"/><circle cx="426.7" cy="645.4" r="1.65"/><circle cx="445.1" cy="634.7" r="1.65"/><circle cx="432.1" cy="643.1" r="1.65"/><circle cx="453.7" cy="674.5" r="1.65"/><circle cx="423.0" cy="633.1" r="1.65"/><circle cx="436.0" cy="630.7" r="1.65"/><circle cx="438.7" cy="632.2" r="1.65"/><circle cx="428.7" cy="640.3" r="1.65"/><circle cx="433.8" cy="631.9" r="1.65"/><circle cx="436.4" cy="630.3" r="1.65"/><circle cx="434.8" cy="643.0" r="1.65"/><circle cx="427.7" cy="644.9" r="1.65"/><circle cx="429.8" cy="642.4" r="1.65"/><circle cx="439.1" cy="646.9" r="1.65"/><circle cx="442.1" cy="633.5" r="1.65"/><circle cx="431.2" cy="635.9" r="1.65"/><circle cx="431.1" cy="639.0" r="1.65"/><circle cx="431.9" cy="643.1" r="1.65"/><circle cx="439.3" cy="647.2" r="1.65"/><circle cx="425.6" cy="640.4" r="1.65"/><circle cx="424.7" cy="634.9" r="1.65"/><circle cx="431.4" cy="631.7" r="1.65"/><circle cx="425.4" cy="640.1" r="1.65"/><circle cx="427.5" cy="630.7" r="1.65"/><circle cx="431.2" cy="630.9" r="1.65"/><circle cx="434.0" cy="633.4" r="1.65"/><circle cx="425.6" cy="656.3" r="1.65"/><circle cx="436.9" cy="654.6" r="1.65"/><circle cx="423.6" cy="629.3" r="1.65"/><circle cx="434.6" cy="633.8" r="1.65"/><circle cx="424.0" cy="638.9" r="1.65"/><circle cx="424.9" cy="632.5" r="1.65"/><circle cx="435.4" cy="640.4" r="1.65"/><circle cx="428.3" cy="635.3" r="1.65"/><circle cx="426.6" cy="642.8" r="1.65"/><circle cx="428.1" cy="642.3" r="1.65"/><circle cx="433.9" cy="637.3" r="1.65"/><circle cx="430.3" cy="630.3" r="1.65"/><circle cx="430.4" cy="630.1" r="1.65"/><circle cx="439.5" cy="638.6" r="1.65"/><circle cx="426.9" cy="634.5" r="1.65"/><circle cx="428.0" cy="632.8" r="1.65"/><circle cx="427.8" cy="637.5" r="1.65"/><circle cx="440.8" cy="666.3" r="1.65"/><circle cx="438.8" cy="651.7" r="1.65"/><circle cx="442.2" cy="630.8" r="1.65"/><circle cx="430.4" cy="635.9" r="1.65"/><circle cx="429.7" cy="642.7" r="1.65"/><circle cx="437.4" cy="638.3" r="1.65"/><circle cx="428.4" cy="662.4" r="1.65"/><circle cx="472.5" cy="638.0" r="1.65"/><circle cx="436.1" cy="634.9" r="1.65"/><circle cx="427.0" cy="646.1" r="1.65"/><circle cx="430.1" cy="632.1" r="1.65"/><circle cx="429.9" cy="630.2" r="1.65"/><circle cx="448.6" cy="630.9" r="1.65"/><circle cx="466.2" cy="633.6" r="1.65"/><circle cx="430.0" cy="632.9" r="1.65"/><circle cx="430.7" cy="629.1" r="1.65"/><circle cx="422.5" cy="630.4" r="1.65"/><circle cx="432.0" cy="637.3" r="1.65"/><circle cx="430.6" cy="639.5" r="1.65"/><circle cx="425.6" cy="646.3" r="1.65"/><circle cx="436.7" cy="648.3" r="1.65"/><circle cx="424.1" cy="633.8" r="1.65"/><circle cx="429.3" cy="635.3" r="1.65"/><circle cx="431.5" cy="643.7" r="1.65"/><circle cx="425.0" cy="633.4" r="1.65"/><circle cx="437.4" cy="640.3" r="1.65"/><circle cx="439.5" cy="638.2" r="1.65"/><circle cx="424.6" cy="636.4" r="1.65"/><circle cx="424.5" cy="628.5" r="1.65"/><circle cx="435.0" cy="630.1" r="1.65"/><circle cx="430.4" cy="631.8" r="1.65"/><circle cx="425.1" cy="637.2" r="1.65"/><circle cx="428.9" cy="634.2" r="1.65"/><circle cx="430.0" cy="635.6" r="1.65"/><circle cx="429.7" cy="635.8" r="1.65"/><circle cx="490.4" cy="628.5" r="1.65"/><circle cx="433.3" cy="640.3" r="1.65"/><circle cx="449.2" cy="631.4" r="1.65"/><circle cx="443.4" cy="633.1" r="1.65"/><circle cx="435.7" cy="641.1" r="1.65"/><circle cx="439.7" cy="633.7" r="1.65"/><circle cx="442.7" cy="632.0" r="1.65"/><circle cx="436.0" cy="647.5" r="1.65"/><circle cx="425.1" cy="631.5" r="1.65"/><circle cx="437.4" cy="631.9" r="1.65"/><circle cx="431.1" cy="632.9" r="1.65"/><circle cx="446.8" cy="633.2" r="1.65"/><circle cx="431.2" cy="628.5" r="1.65"/><circle cx="434.4" cy="633.2" r="1.65"/><circle cx="432.8" cy="635.8" r="1.65"/><circle cx="447.8" cy="636.3" r="1.65"/><circle cx="431.8" cy="632.0" r="1.65"/><circle cx="429.0" cy="637.9" r="1.65"/><circle cx="432.7" cy="631.2" r="1.65"/><circle cx="428.2" cy="629.9" r="1.65"/><circle cx="431.7" cy="630.9" r="1.65"/><circle cx="430.6" cy="636.8" r="1.65"/><circle cx="432.4" cy="644.6" r="1.65"/><circle cx="451.8" cy="639.9" r="1.65"/><circle cx="428.3" cy="630.9" r="1.65"/><circle cx="430.8" cy="645.5" r="1.65"/><circle cx="429.4" cy="630.1" r="1.65"/><circle cx="435.7" cy="632.9" r="1.65"/><circle cx="425.2" cy="634.7" r="1.65"/><circle cx="476.8" cy="637.2" r="1.65"/><circle cx="430.4" cy="637.9" r="1.65"/><circle cx="434.6" cy="642.6" r="1.65"/><circle cx="430.3" cy="633.8" r="1.65"/><circle cx="427.9" cy="645.6" r="1.65"/><circle cx="426.3" cy="639.3" r="1.65"/><circle cx="434.3" cy="643.0" r="1.65"/><circle cx="444.3" cy="629.9" r="1.65"/><circle cx="432.8" cy="641.7" r="1.65"/><circle cx="431.8" cy="633.0" r="1.65"/><circle cx="433.7" cy="634.8" r="1.65"/><circle cx="426.0" cy="671.2" r="1.65"/><circle cx="428.8" cy="631.4" r="1.65"/><circle cx="429.1" cy="643.2" r="1.65"/><circle cx="432.6" cy="631.6" r="1.65"/><circle cx="430.4" cy="633.6" r="1.65"/><circle cx="425.1" cy="633.7" r="1.65"/><circle cx="440.3" cy="637.3" r="1.65"/><circle cx="448.0" cy="659.2" r="1.65"/><circle cx="429.1" cy="645.1" r="1.65"/><circle cx="433.4" cy="660.1" r="1.65"/></g><path d="M418.6 613.7 V682.6 H496.1" stroke="#555" stroke-width="1" fill="none"/><text x="422.60" y="609.60" font-size="8.8" fill="#00008b" textLength="69.30" lengthAdjust="spacingAndGlyphs" stroke="#00008b" stroke-width="0.12">Pearson Corr: -0.28</text><clipPath id="cer2c2"><rect x="506.5" y="611.7" width="80.0" height="71.09999999999991"/></clipPath><path d="M540.00 613.7 V682.8 M574.80 613.7 V682.8 M506.5 655.75 H584.5 M506.5 628.90 H584.5" stroke="#e4e4e4" stroke-width="0.8" fill="none"/><path d="M507.0 634.3 L545.5 632.1 L584.0 628.6 L584.0 631.6 L545.5 633.5 L507.0 636.7 Z" fill="#cfe5f7" opacity="0.85"/><path d="M507.0 635.5 L584.0 630.1" stroke="#2b93e6" stroke-width="1.1"/><g clip-path="url(#cer2c2)" fill="#52a6e6" stroke="#1f3a58" stroke-width="0.45"><circle cx="581.8" cy="635.9" r="1.65"/><circle cx="574.8" cy="638.2" r="1.65"/><circle cx="574.8" cy="639.7" r="1.65"/><circle cx="573.4" cy="632.4" r="1.65"/><circle cx="557.4" cy="632.0" r="1.65"/><circle cx="557.4" cy="633.3" r="1.65"/><circle cx="557.4" cy="634.7" r="1.65"/><circle cx="557.4" cy="628.2" r="1.65"/><circle cx="557.4" cy="632.4" r="1.65"/><circle cx="557.4" cy="634.5" r="1.65"/><circle cx="548.7" cy="631.9" r="1.65"/><circle cx="548.7" cy="634.7" r="1.65"/><circle cx="547.0" cy="632.3" r="1.65"/><circle cx="548.7" cy="633.6" r="1.65"/><circle cx="540.0" cy="632.8" r="1.65"/><circle cx="540.0" cy="634.3" r="1.65"/><circle cx="531.3" cy="635.9" r="1.65"/><circle cx="531.3" cy="632.8" r="1.65"/><circle cx="527.8" cy="630.9" r="1.65"/><circle cx="513.6" cy="636.4" r="1.65"/><circle cx="531.1" cy="637.2" r="1.65"/><circle cx="517.2" cy="630.4" r="1.65"/><circle cx="510.5" cy="636.3" r="1.65"/><circle cx="514.1" cy="632.5" r="1.65"/><circle cx="519.3" cy="638.8" r="1.65"/><circle cx="514.0" cy="629.0" r="1.65"/><circle cx="517.2" cy="658.9" r="1.65"/><circle cx="518.7" cy="636.7" r="1.65"/><circle cx="525.7" cy="665.2" r="1.65"/><circle cx="512.2" cy="629.2" r="1.65"/><circle cx="525.7" cy="633.8" r="1.65"/><circle cx="540.4" cy="630.9" r="1.65"/><circle cx="513.9" cy="635.3" r="1.65"/><circle cx="531.3" cy="634.5" r="1.65"/><circle cx="527.2" cy="629.2" r="1.65"/><circle cx="522.8" cy="644.0" r="1.65"/><circle cx="522.6" cy="636.4" r="1.65"/><circle cx="512.0" cy="635.2" r="1.65"/><circle cx="515.7" cy="630.5" r="1.65"/><circle cx="510.2" cy="631.1" r="1.65"/><circle cx="527.7" cy="630.0" r="1.65"/><circle cx="528.3" cy="630.6" r="1.65"/><circle cx="528.0" cy="637.0" r="1.65"/><circle cx="531.5" cy="628.4" r="1.65"/><circle cx="517.6" cy="631.8" r="1.65"/><circle cx="514.1" cy="633.4" r="1.65"/><circle cx="517.4" cy="636.7" r="1.65"/><circle cx="523.2" cy="645.9" r="1.65"/><circle cx="519.1" cy="634.4" r="1.65"/><circle cx="510.6" cy="630.6" r="1.65"/><circle cx="517.3" cy="632.3" r="1.65"/><circle cx="513.8" cy="652.0" r="1.65"/><circle cx="518.5" cy="640.8" r="1.65"/><circle cx="513.4" cy="630.1" r="1.65"/><circle cx="519.5" cy="640.7" r="1.65"/><circle cx="523.0" cy="646.6" r="1.65"/><circle cx="519.0" cy="634.2" r="1.65"/><circle cx="540.0" cy="646.4" r="1.65"/><circle cx="512.3" cy="671.5" r="1.65"/><circle cx="509.3" cy="632.7" r="1.65"/><circle cx="531.8" cy="639.8" r="1.65"/><circle cx="531.0" cy="628.9" r="1.65"/><circle cx="517.2" cy="629.4" r="1.65"/><circle cx="518.4" cy="635.4" r="1.65"/><circle cx="528.2" cy="636.7" r="1.65"/><circle cx="522.6" cy="637.6" r="1.65"/><circle cx="512.6" cy="642.9" r="1.65"/><circle cx="513.6" cy="643.7" r="1.65"/><circle cx="527.9" cy="634.2" r="1.65"/><circle cx="517.4" cy="656.8" r="1.65"/><circle cx="540.1" cy="657.1" r="1.65"/><circle cx="512.7" cy="634.9" r="1.65"/><circle cx="514.5" cy="636.9" r="1.65"/><circle cx="531.7" cy="630.7" r="1.65"/><circle cx="515.5" cy="634.4" r="1.65"/><circle cx="509.8" cy="631.4" r="1.65"/><circle cx="510.8" cy="634.9" r="1.65"/><circle cx="515.8" cy="644.9" r="1.65"/><circle cx="540.2" cy="636.9" r="1.65"/><circle cx="525.7" cy="643.2" r="1.65"/><circle cx="517.1" cy="632.4" r="1.65"/><circle cx="515.7" cy="642.3" r="1.65"/><circle cx="526.0" cy="634.1" r="1.65"/><circle cx="517.1" cy="641.5" r="1.65"/><circle cx="513.9" cy="672.8" r="1.65"/><circle cx="517.6" cy="629.9" r="1.65"/><circle cx="522.2" cy="641.4" r="1.65"/><circle cx="531.3" cy="634.5" r="1.65"/><circle cx="515.2" cy="629.9" r="1.65"/><circle cx="517.2" cy="634.1" r="1.65"/><circle cx="548.3" cy="628.8" r="1.65"/><circle cx="515.4" cy="633.3" r="1.65"/><circle cx="512.0" cy="635.4" r="1.65"/><circle cx="525.5" cy="633.0" r="1.65"/><circle cx="525.5" cy="631.0" r="1.65"/><circle cx="522.0" cy="632.7" r="1.65"/><circle cx="512.6" cy="638.1" r="1.65"/><circle cx="515.6" cy="637.3" r="1.65"/><circle cx="522.3" cy="628.6" r="1.65"/><circle cx="517.2" cy="629.3" r="1.65"/><circle cx="527.9" cy="650.1" r="1.65"/><circle cx="513.6" cy="642.7" r="1.65"/><circle cx="515.5" cy="637.7" r="1.65"/><circle cx="519.0" cy="633.6" r="1.65"/><circle cx="517.5" cy="638.3" r="1.65"/><circle cx="525.4" cy="631.8" r="1.65"/><circle cx="519.2" cy="661.6" r="1.65"/><circle cx="515.7" cy="630.8" r="1.65"/><circle cx="519.1" cy="646.9" r="1.65"/><circle cx="510.7" cy="641.1" r="1.65"/><circle cx="510.4" cy="676.1" r="1.65"/><circle cx="511.9" cy="633.8" r="1.65"/><circle cx="517.5" cy="634.5" r="1.65"/><circle cx="517.4" cy="628.4" r="1.65"/><circle cx="522.6" cy="634.7" r="1.65"/><circle cx="525.6" cy="630.5" r="1.65"/><circle cx="528.4" cy="637.1" r="1.65"/><circle cx="531.4" cy="630.0" r="1.65"/><circle cx="527.9" cy="646.5" r="1.65"/><circle cx="519.1" cy="645.7" r="1.65"/><circle cx="540.3" cy="633.4" r="1.65"/><circle cx="531.3" cy="653.8" r="1.65"/><circle cx="517.2" cy="659.4" r="1.65"/><circle cx="518.8" cy="632.5" r="1.65"/><circle cx="519.3" cy="644.6" r="1.65"/><circle cx="522.8" cy="639.2" r="1.65"/><circle cx="525.1" cy="645.8" r="1.65"/><circle cx="522.4" cy="632.9" r="1.65"/><circle cx="519.3" cy="630.0" r="1.65"/><circle cx="515.9" cy="667.5" r="1.65"/><circle cx="518.8" cy="641.6" r="1.65"/><circle cx="519.0" cy="634.9" r="1.65"/><circle cx="525.8" cy="635.9" r="1.65"/><circle cx="512.0" cy="631.4" r="1.65"/><circle cx="517.3" cy="644.2" r="1.65"/><circle cx="527.7" cy="635.7" r="1.65"/><circle cx="525.2" cy="632.2" r="1.65"/><circle cx="519.1" cy="629.6" r="1.65"/><circle cx="522.7" cy="638.9" r="1.65"/><circle cx="515.3" cy="628.5" r="1.65"/><circle cx="515.7" cy="634.3" r="1.65"/><circle cx="517.7" cy="629.3" r="1.65"/><circle cx="512.2" cy="638.6" r="1.65"/><circle cx="528.1" cy="637.4" r="1.65"/><circle cx="515.5" cy="634.6" r="1.65"/><circle cx="531.7" cy="652.0" r="1.65"/><circle cx="513.7" cy="633.9" r="1.65"/><circle cx="514.4" cy="631.4" r="1.65"/><circle cx="517.3" cy="636.8" r="1.65"/><circle cx="531.1" cy="650.9" r="1.65"/><circle cx="515.4" cy="629.2" r="1.65"/><circle cx="510.3" cy="640.9" r="1.65"/><circle cx="522.5" cy="634.3" r="1.65"/><circle cx="522.4" cy="676.8" r="1.65"/><circle cx="513.8" cy="630.8" r="1.65"/><circle cx="514.1" cy="639.3" r="1.65"/><circle cx="517.6" cy="637.7" r="1.65"/><circle cx="522.5" cy="636.0" r="1.65"/><circle cx="528.1" cy="628.4" r="1.65"/><circle cx="511.9" cy="633.8" r="1.65"/><circle cx="539.7" cy="632.5" r="1.65"/><circle cx="518.8" cy="633.0" r="1.65"/><circle cx="517.5" cy="636.0" r="1.65"/><circle cx="522.2" cy="632.1" r="1.65"/><circle cx="518.8" cy="641.6" r="1.65"/><circle cx="540.3" cy="633.8" r="1.65"/><circle cx="531.7" cy="632.5" r="1.65"/><circle cx="516.0" cy="629.8" r="1.65"/><circle cx="517.0" cy="635.3" r="1.65"/><circle cx="517.4" cy="640.2" r="1.65"/><circle cx="515.9" cy="637.6" r="1.65"/><circle cx="522.6" cy="638.7" r="1.65"/><circle cx="513.5" cy="651.6" r="1.65"/><circle cx="539.9" cy="649.3" r="1.65"/><circle cx="515.2" cy="638.2" r="1.65"/><circle cx="518.8" cy="633.7" r="1.65"/><circle cx="528.4" cy="626.3" r="1.65"/><circle cx="510.6" cy="636.4" r="1.65"/><circle cx="515.3" cy="637.9" r="1.65"/><circle cx="515.2" cy="632.2" r="1.65"/><circle cx="514.0" cy="628.5" r="1.65"/><circle cx="513.7" cy="630.3" r="1.65"/><circle cx="522.7" cy="634.9" r="1.65"/><circle cx="517.2" cy="630.9" r="1.65"/><circle cx="519.1" cy="630.5" r="1.65"/><circle cx="512.2" cy="650.9" r="1.65"/><circle cx="511.9" cy="633.0" r="1.65"/><circle cx="530.8" cy="631.7" r="1.65"/><circle cx="513.6" cy="629.1" r="1.65"/><circle cx="512.0" cy="628.6" r="1.65"/><circle cx="539.9" cy="641.2" r="1.65"/><circle cx="525.5" cy="636.1" r="1.65"/><circle cx="517.4" cy="642.1" r="1.65"/><circle cx="517.5" cy="641.4" r="1.65"/><circle cx="518.9" cy="633.9" r="1.65"/><circle cx="516.0" cy="637.5" r="1.65"/><circle cx="523.1" cy="641.9" r="1.65"/><circle cx="517.5" cy="637.9" r="1.65"/><circle cx="519.2" cy="641.5" r="1.65"/><circle cx="525.9" cy="666.3" r="1.65"/><circle cx="519.3" cy="643.3" r="1.65"/><circle cx="540.0" cy="632.8" r="1.65"/><circle cx="531.3" cy="631.1" r="1.65"/><circle cx="512.0" cy="634.9" r="1.65"/><circle cx="531.0" cy="633.3" r="1.65"/><circle cx="512.3" cy="619.0" r="1.65"/><circle cx="514.2" cy="647.8" r="1.65"/><circle cx="522.3" cy="631.6" r="1.65"/><circle cx="515.6" cy="638.8" r="1.65"/><circle cx="515.7" cy="632.9" r="1.65"/><circle cx="531.2" cy="645.2" r="1.65"/><circle cx="517.2" cy="638.7" r="1.65"/><circle cx="513.8" cy="629.4" r="1.65"/><circle cx="522.1" cy="634.5" r="1.65"/><circle cx="531.3" cy="644.3" r="1.65"/><circle cx="512.1" cy="629.0" r="1.65"/><circle cx="512.7" cy="631.1" r="1.65"/><circle cx="515.9" cy="639.7" r="1.65"/><circle cx="519.0" cy="621.1" r="1.65"/><circle cx="540.0" cy="631.0" r="1.65"/><circle cx="514.3" cy="648.7" r="1.65"/><circle cx="528.2" cy="621.7" r="1.65"/><circle cx="531.3" cy="638.6" r="1.65"/><circle cx="515.6" cy="649.0" r="1.65"/><circle cx="518.7" cy="636.8" r="1.65"/><circle cx="527.7" cy="628.6" r="1.65"/><circle cx="513.9" cy="628.4" r="1.65"/><circle cx="518.9" cy="640.6" r="1.65"/><circle cx="526.0" cy="636.3" r="1.65"/><circle cx="513.4" cy="637.5" r="1.65"/><circle cx="527.8" cy="632.9" r="1.65"/><circle cx="531.4" cy="632.1" r="1.65"/><circle cx="531.4" cy="640.5" r="1.65"/><circle cx="516.1" cy="632.2" r="1.65"/><circle cx="518.8" cy="641.3" r="1.65"/><circle cx="539.8" cy="632.2" r="1.65"/><circle cx="525.6" cy="631.6" r="1.65"/><circle cx="513.9" cy="634.3" r="1.65"/><circle cx="522.5" cy="639.6" r="1.65"/><circle cx="539.8" cy="633.9" r="1.65"/><circle cx="519.4" cy="619.3" r="1.65"/><circle cx="522.3" cy="637.7" r="1.65"/><circle cx="539.8" cy="629.6" r="1.65"/><circle cx="519.5" cy="634.5" r="1.65"/><circle cx="519.6" cy="629.6" r="1.65"/><circle cx="515.9" cy="630.2" r="1.65"/><circle cx="515.4" cy="641.3" r="1.65"/><circle cx="522.4" cy="634.5" r="1.65"/><circle cx="518.9" cy="629.5" r="1.65"/><circle cx="513.6" cy="639.6" r="1.65"/><circle cx="513.8" cy="636.4" r="1.65"/><circle cx="519.4" cy="650.4" r="1.65"/><circle cx="517.4" cy="630.5" r="1.65"/><circle cx="515.4" cy="636.1" r="1.65"/><circle cx="522.4" cy="620.7" r="1.65"/><circle cx="515.3" cy="640.7" r="1.65"/><circle cx="519.4" cy="654.3" r="1.65"/><circle cx="525.0" cy="623.7" r="1.65"/><circle cx="517.4" cy="633.3" r="1.65"/><circle cx="517.0" cy="634.3" r="1.65"/><circle cx="518.8" cy="632.2" r="1.65"/><circle cx="525.2" cy="638.9" r="1.65"/><circle cx="514.1" cy="629.5" r="1.65"/><circle cx="519.1" cy="629.0" r="1.65"/><circle cx="519.8" cy="629.3" r="1.65"/><circle cx="525.3" cy="628.6" r="1.65"/><circle cx="515.3" cy="629.1" r="1.65"/><circle cx="517.5" cy="637.5" r="1.65"/><circle cx="519.3" cy="631.9" r="1.65"/><circle cx="513.8" cy="634.9" r="1.65"/><circle cx="516.8" cy="632.1" r="1.65"/><circle cx="523.0" cy="632.3" r="1.65"/><circle cx="519.3" cy="643.4" r="1.65"/><circle cx="512.3" cy="647.0" r="1.65"/><circle cx="517.2" cy="641.9" r="1.65"/><circle cx="509.7" cy="629.8" r="1.65"/><circle cx="522.4" cy="635.7" r="1.65"/><circle cx="512.2" cy="652.0" r="1.65"/><circle cx="522.5" cy="653.4" r="1.65"/><circle cx="514.2" cy="637.4" r="1.65"/><circle cx="519.0" cy="631.5" r="1.65"/><circle cx="519.0" cy="635.3" r="1.65"/><circle cx="531.6" cy="639.7" r="1.65"/><circle cx="512.2" cy="636.7" r="1.65"/><circle cx="512.1" cy="638.4" r="1.65"/><circle cx="519.0" cy="632.5" r="1.65"/><circle cx="512.4" cy="639.8" r="1.65"/><circle cx="522.4" cy="636.2" r="1.65"/><circle cx="512.3" cy="635.4" r="1.65"/><circle cx="517.9" cy="646.1" r="1.65"/><circle cx="517.5" cy="631.2" r="1.65"/><circle cx="522.4" cy="627.1" r="1.65"/><circle cx="513.6" cy="633.5" r="1.65"/><circle cx="519.1" cy="646.4" r="1.65"/><circle cx="510.1" cy="633.4" r="1.65"/><circle cx="515.2" cy="631.3" r="1.65"/><circle cx="518.9" cy="630.2" r="1.65"/><circle cx="531.0" cy="636.2" r="1.65"/><circle cx="522.8" cy="632.2" r="1.65"/><circle cx="530.9" cy="622.5" r="1.65"/><circle cx="519.5" cy="635.7" r="1.65"/><circle cx="513.7" cy="618.9" r="1.65"/><circle cx="527.8" cy="636.9" r="1.65"/><circle cx="514.1" cy="633.4" r="1.65"/><circle cx="522.6" cy="641.3" r="1.65"/><circle cx="531.5" cy="628.4" r="1.65"/><circle cx="518.8" cy="646.7" r="1.65"/><circle cx="516.8" cy="639.8" r="1.65"/><circle cx="557.3" cy="629.6" r="1.65"/><circle cx="518.7" cy="636.8" r="1.65"/><circle cx="517.2" cy="637.8" r="1.65"/><circle cx="525.8" cy="629.0" r="1.65"/><circle cx="519.0" cy="635.5" r="1.65"/><circle cx="518.9" cy="634.1" r="1.65"/><circle cx="522.3" cy="631.3" r="1.65"/><circle cx="509.5" cy="635.8" r="1.65"/><circle cx="531.2" cy="644.5" r="1.65"/><circle cx="513.5" cy="634.5" r="1.65"/><circle cx="514.0" cy="630.8" r="1.65"/><circle cx="522.3" cy="631.3" r="1.65"/><circle cx="519.2" cy="629.8" r="1.65"/><circle cx="513.8" cy="637.5" r="1.65"/><circle cx="522.8" cy="637.7" r="1.65"/><circle cx="514.1" cy="636.6" r="1.65"/><circle cx="515.6" cy="643.2" r="1.65"/><circle cx="512.1" cy="629.7" r="1.65"/><circle cx="515.7" cy="635.0" r="1.65"/><circle cx="519.5" cy="630.3" r="1.65"/><circle cx="519.4" cy="663.3" r="1.65"/><circle cx="512.2" cy="630.9" r="1.65"/><circle cx="522.7" cy="628.5" r="1.65"/><circle cx="519.5" cy="647.8" r="1.65"/><circle cx="513.5" cy="642.5" r="1.65"/><circle cx="517.5" cy="630.4" r="1.65"/><circle cx="539.8" cy="637.8" r="1.65"/><circle cx="512.5" cy="641.0" r="1.65"/><circle cx="522.5" cy="647.6" r="1.65"/><circle cx="522.6" cy="635.6" r="1.65"/><circle cx="518.8" cy="632.7" r="1.65"/><circle cx="522.6" cy="630.5" r="1.65"/><circle cx="515.8" cy="627.6" r="1.65"/><circle cx="519.5" cy="667.2" r="1.65"/><circle cx="515.3" cy="643.0" r="1.65"/><circle cx="512.0" cy="630.2" r="1.65"/><circle cx="526.6" cy="634.0" r="1.65"/><circle cx="525.8" cy="639.3" r="1.65"/><circle cx="522.6" cy="634.1" r="1.65"/><circle cx="519.3" cy="672.1" r="1.65"/><circle cx="514.9" cy="638.9" r="1.65"/><circle cx="526.0" cy="653.6" r="1.65"/><circle cx="522.6" cy="637.3" r="1.65"/><circle cx="511.8" cy="633.7" r="1.65"/><circle cx="525.9" cy="632.4" r="1.65"/><circle cx="522.4" cy="633.1" r="1.65"/><circle cx="522.3" cy="641.5" r="1.65"/><circle cx="514.0" cy="631.9" r="1.65"/><circle cx="514.0" cy="630.1" r="1.65"/><circle cx="522.5" cy="632.2" r="1.65"/><circle cx="512.1" cy="628.9" r="1.65"/><circle cx="515.3" cy="642.4" r="1.65"/><circle cx="513.5" cy="643.8" r="1.65"/><circle cx="512.4" cy="631.1" r="1.65"/><circle cx="512.5" cy="645.0" r="1.65"/><circle cx="517.5" cy="629.8" r="1.65"/><circle cx="531.4" cy="635.6" r="1.65"/><circle cx="525.5" cy="641.2" r="1.65"/><circle cx="517.3" cy="633.6" r="1.65"/><circle cx="517.1" cy="628.9" r="1.65"/><circle cx="540.5" cy="632.3" r="1.65"/><circle cx="525.4" cy="618.2" r="1.65"/><circle cx="527.9" cy="629.4" r="1.65"/><circle cx="512.2" cy="631.5" r="1.65"/><circle cx="525.2" cy="666.5" r="1.65"/><circle cx="512.7" cy="634.4" r="1.65"/><circle cx="522.5" cy="632.2" r="1.65"/><circle cx="518.9" cy="641.0" r="1.65"/><circle cx="513.9" cy="668.2" r="1.65"/><circle cx="515.4" cy="635.3" r="1.65"/><circle cx="527.8" cy="629.6" r="1.65"/><circle cx="522.3" cy="630.3" r="1.65"/><circle cx="525.7" cy="636.7" r="1.65"/><circle cx="515.7" cy="633.3" r="1.65"/><circle cx="513.5" cy="629.6" r="1.65"/><circle cx="514.2" cy="629.4" r="1.65"/><circle cx="517.4" cy="640.4" r="1.65"/><circle cx="527.5" cy="637.0" r="1.65"/><circle cx="519.2" cy="628.4" r="1.65"/><circle cx="517.5" cy="640.6" r="1.65"/><circle cx="514.4" cy="630.6" r="1.65"/><circle cx="525.3" cy="635.6" r="1.65"/><circle cx="517.6" cy="636.1" r="1.65"/><circle cx="510.4" cy="646.2" r="1.65"/><circle cx="512.3" cy="638.4" r="1.65"/><circle cx="515.6" cy="643.9" r="1.65"/><circle cx="515.6" cy="628.8" r="1.65"/><circle cx="519.3" cy="630.6" r="1.65"/><circle cx="522.3" cy="622.5" r="1.65"/><circle cx="511.6" cy="631.5" r="1.65"/><circle cx="515.6" cy="645.2" r="1.65"/><circle cx="539.9" cy="638.0" r="1.65"/><circle cx="515.7" cy="639.8" r="1.65"/><circle cx="525.7" cy="634.8" r="1.65"/><circle cx="519.1" cy="648.0" r="1.65"/><circle cx="531.6" cy="643.6" r="1.65"/><circle cx="525.6" cy="630.2" r="1.65"/><circle cx="513.9" cy="630.4" r="1.65"/><circle cx="519.3" cy="643.7" r="1.65"/><circle cx="517.5" cy="633.3" r="1.65"/><circle cx="525.5" cy="676.3" r="1.65"/><circle cx="515.7" cy="633.1" r="1.65"/><circle cx="539.8" cy="633.1" r="1.65"/><circle cx="517.2" cy="635.2" r="1.65"/><circle cx="525.6" cy="645.4" r="1.65"/><circle cx="512.4" cy="634.7" r="1.65"/><circle cx="519.0" cy="643.1" r="1.65"/><circle cx="514.1" cy="674.5" r="1.65"/><circle cx="523.1" cy="633.1" r="1.65"/><circle cx="526.1" cy="630.7" r="1.65"/><circle cx="513.9" cy="632.2" r="1.65"/><circle cx="515.9" cy="640.3" r="1.65"/><circle cx="528.0" cy="631.9" r="1.65"/><circle cx="515.9" cy="630.3" r="1.65"/><circle cx="515.9" cy="643.0" r="1.65"/><circle cx="531.4" cy="644.9" r="1.65"/><circle cx="525.8" cy="642.4" r="1.65"/><circle cx="509.6" cy="646.9" r="1.65"/><circle cx="513.8" cy="633.5" r="1.65"/><circle cx="525.6" cy="635.9" r="1.65"/><circle cx="525.7" cy="639.0" r="1.65"/><circle cx="516.0" cy="643.1" r="1.65"/><circle cx="531.4" cy="647.2" r="1.65"/><circle cx="515.8" cy="640.4" r="1.65"/><circle cx="519.5" cy="634.9" r="1.65"/><circle cx="518.9" cy="631.7" r="1.65"/><circle cx="522.5" cy="640.1" r="1.65"/><circle cx="528.0" cy="630.7" r="1.65"/><circle cx="527.8" cy="630.9" r="1.65"/><circle cx="518.9" cy="633.4" r="1.65"/><circle cx="540.3" cy="656.3" r="1.65"/><circle cx="513.9" cy="654.6" r="1.65"/><circle cx="518.9" cy="629.3" r="1.65"/><circle cx="531.8" cy="633.8" r="1.65"/><circle cx="522.3" cy="638.9" r="1.65"/><circle cx="531.3" cy="632.5" r="1.65"/><circle cx="515.5" cy="640.4" r="1.65"/><circle cx="519.2" cy="635.3" r="1.65"/><circle cx="519.3" cy="642.8" r="1.65"/><circle cx="522.4" cy="642.3" r="1.65"/><circle cx="517.4" cy="637.3" r="1.65"/><circle cx="519.1" cy="630.3" r="1.65"/><circle cx="525.3" cy="630.1" r="1.65"/><circle cx="525.9" cy="638.6" r="1.65"/><circle cx="522.7" cy="634.5" r="1.65"/><circle cx="525.5" cy="632.8" r="1.65"/><circle cx="527.7" cy="637.5" r="1.65"/><circle cx="512.1" cy="666.3" r="1.65"/><circle cx="510.5" cy="651.7" r="1.65"/><circle cx="531.2" cy="630.8" r="1.65"/><circle cx="531.6" cy="635.9" r="1.65"/><circle cx="518.5" cy="642.7" r="1.65"/><circle cx="518.6" cy="638.3" r="1.65"/><circle cx="515.6" cy="662.4" r="1.65"/><circle cx="509.1" cy="638.0" r="1.65"/><circle cx="519.1" cy="634.9" r="1.65"/><circle cx="512.0" cy="646.1" r="1.65"/><circle cx="528.0" cy="632.1" r="1.65"/><circle cx="515.8" cy="630.2" r="1.65"/><circle cx="517.7" cy="630.9" r="1.65"/><circle cx="522.9" cy="633.6" r="1.65"/><circle cx="540.3" cy="632.9" r="1.65"/><circle cx="517.5" cy="629.1" r="1.65"/><circle cx="531.6" cy="630.4" r="1.65"/><circle cx="514.0" cy="637.3" r="1.65"/><circle cx="515.5" cy="639.5" r="1.65"/><circle cx="525.2" cy="646.3" r="1.65"/><circle cx="531.0" cy="648.3" r="1.65"/><circle cx="517.5" cy="633.8" r="1.65"/><circle cx="524.9" cy="635.3" r="1.65"/><circle cx="519.2" cy="643.7" r="1.65"/><circle cx="513.7" cy="633.4" r="1.65"/><circle cx="517.6" cy="640.3" r="1.65"/><circle cx="531.4" cy="638.2" r="1.65"/><circle cx="522.4" cy="636.4" r="1.65"/><circle cx="525.6" cy="628.5" r="1.65"/><circle cx="525.0" cy="630.1" r="1.65"/><circle cx="515.7" cy="631.8" r="1.65"/><circle cx="531.4" cy="637.2" r="1.65"/><circle cx="539.5" cy="634.2" r="1.65"/><circle cx="540.2" cy="635.6" r="1.65"/><circle cx="531.3" cy="635.8" r="1.65"/><circle cx="509.6" cy="628.5" r="1.65"/><circle cx="515.3" cy="640.3" r="1.65"/><circle cx="512.3" cy="631.4" r="1.65"/><circle cx="512.3" cy="633.1" r="1.65"/><circle cx="513.9" cy="641.1" r="1.65"/><circle cx="525.3" cy="633.7" r="1.65"/><circle cx="528.0" cy="632.0" r="1.65"/><circle cx="514.2" cy="647.5" r="1.65"/><circle cx="527.9" cy="631.5" r="1.65"/><circle cx="512.4" cy="631.9" r="1.65"/><circle cx="517.2" cy="632.9" r="1.65"/><circle cx="512.2" cy="633.2" r="1.65"/><circle cx="512.3" cy="628.5" r="1.65"/><circle cx="519.2" cy="633.2" r="1.65"/><circle cx="519.9" cy="635.8" r="1.65"/><circle cx="514.0" cy="636.3" r="1.65"/><circle cx="515.5" cy="632.0" r="1.65"/><circle cx="514.1" cy="637.9" r="1.65"/><circle cx="517.1" cy="631.2" r="1.65"/><circle cx="517.5" cy="629.9" r="1.65"/><circle cx="522.8" cy="630.9" r="1.65"/><circle cx="513.8" cy="636.8" r="1.65"/><circle cx="519.1" cy="644.6" r="1.65"/><circle cx="517.2" cy="639.9" r="1.65"/><circle cx="531.4" cy="630.9" r="1.65"/><circle cx="527.7" cy="645.5" r="1.65"/><circle cx="523.1" cy="630.1" r="1.65"/><circle cx="514.1" cy="632.9" r="1.65"/><circle cx="512.1" cy="634.7" r="1.65"/><circle cx="510.1" cy="637.2" r="1.65"/><circle cx="531.9" cy="637.9" r="1.65"/><circle cx="531.7" cy="642.6" r="1.65"/><circle cx="509.7" cy="633.8" r="1.65"/><circle cx="515.7" cy="645.6" r="1.65"/><circle cx="519.2" cy="639.3" r="1.65"/><circle cx="513.8" cy="643.0" r="1.65"/><circle cx="517.9" cy="629.9" r="1.65"/><circle cx="519.2" cy="641.7" r="1.65"/><circle cx="515.3" cy="633.0" r="1.65"/><circle cx="519.0" cy="634.8" r="1.65"/><circle cx="511.5" cy="671.2" r="1.65"/><circle cx="514.1" cy="631.4" r="1.65"/><circle cx="515.9" cy="643.2" r="1.65"/><circle cx="526.0" cy="631.6" r="1.65"/><circle cx="512.7" cy="633.6" r="1.65"/><circle cx="518.9" cy="633.7" r="1.65"/><circle cx="522.7" cy="637.3" r="1.65"/><circle cx="515.9" cy="659.2" r="1.65"/><circle cx="528.1" cy="645.1" r="1.65"/><circle cx="515.5" cy="660.1" r="1.65"/></g><path d="M506.5 613.7 V682.8 H584.5" stroke="#555" stroke-width="1" fill="none"/><text x="511.30" y="609.90" font-size="8.8" fill="#00008b" textLength="67.60" lengthAdjust="spacingAndGlyphs" stroke="#00008b" stroke-width="0.12">Pearson Corr: 0.14</text><clipPath id="cer3c1"><rect x="418.6" y="704.8" width="79.5" height="71.20000000000005"/></clipPath><path d="M448.80 706.8 V776.0 M478.30 706.8 V776.0 M418.6 764.40 H496.1 M418.6 739.30 H496.1 M418.6 714.20 H496.1" stroke="#e4e4e4" stroke-width="0.8" fill="none"/><path d="M419.0 747.4 L455.8 733.7 L492.6 717.2 L492.6 723.6 L455.8 735.1 L419.0 749.4 Z" fill="#cfe5f7" opacity="0.85"/><path d="M419.0 748.4 L492.6 720.4" stroke="#2b93e6" stroke-width="1.1"/><g clip-path="url(#cer3c1)" fill="#52a6e6" stroke="#1f3a58" stroke-width="0.45"><circle cx="420.2" cy="761.3" r="1.65"/><circle cx="422.6" cy="761.3" r="1.65"/><circle cx="424.1" cy="761.0" r="1.65"/><circle cx="423.4" cy="759.7" r="1.65"/><circle cx="421.1" cy="761.3" r="1.65"/><circle cx="422.2" cy="759.6" r="1.65"/><circle cx="423.7" cy="760.1" r="1.65"/><circle cx="426.7" cy="756.9" r="1.65"/><circle cx="432.6" cy="757.5" r="1.65"/><circle cx="429.6" cy="757.9" r="1.65"/><circle cx="421.5" cy="760.2" r="1.65"/><circle cx="424.8" cy="758.4" r="1.65"/><circle cx="427.4" cy="757.5" r="1.65"/><circle cx="430.4" cy="754.4" r="1.65"/><circle cx="435.9" cy="753.5" r="1.65"/><circle cx="433.3" cy="750.9" r="1.65"/><circle cx="444.4" cy="740.0" r="1.65"/><circle cx="439.6" cy="751.7" r="1.65"/><circle cx="458.0" cy="752.7" r="1.65"/><circle cx="429.4" cy="745.6" r="1.65"/><circle cx="430.8" cy="754.5" r="1.65"/><circle cx="445.7" cy="735.6" r="1.65"/><circle cx="434.6" cy="725.9" r="1.65"/><circle cx="427.9" cy="739.9" r="1.65"/><circle cx="429.5" cy="744.1" r="1.65"/><circle cx="434.5" cy="740.9" r="1.65"/><circle cx="452.1" cy="750.8" r="1.65"/><circle cx="429.0" cy="741.1" r="1.65"/><circle cx="429.2" cy="749.5" r="1.65"/><circle cx="438.9" cy="722.6" r="1.65"/><circle cx="426.2" cy="752.0" r="1.65"/><circle cx="428.9" cy="753.5" r="1.65"/><circle cx="437.7" cy="738.0" r="1.65"/><circle cx="434.9" cy="750.9" r="1.65"/><circle cx="431.2" cy="750.6" r="1.65"/><circle cx="435.6" cy="744.9" r="1.65"/><circle cx="421.7" cy="754.1" r="1.65"/><circle cx="439.1" cy="725.7" r="1.65"/><circle cx="426.0" cy="753.6" r="1.65"/><circle cx="490.7" cy="731.8" r="1.65"/><circle cx="432.5" cy="750.0" r="1.65"/><circle cx="435.9" cy="746.9" r="1.65"/><circle cx="428.1" cy="751.4" r="1.65"/><circle cx="425.6" cy="755.8" r="1.65"/><circle cx="430.8" cy="746.5" r="1.65"/><circle cx="430.3" cy="740.7" r="1.65"/><circle cx="443.8" cy="742.7" r="1.65"/><circle cx="436.3" cy="740.6" r="1.65"/><circle cx="431.9" cy="742.0" r="1.65"/><circle cx="440.1" cy="725.5" r="1.65"/><circle cx="429.4" cy="739.7" r="1.65"/><circle cx="426.1" cy="731.1" r="1.65"/><circle cx="434.9" cy="743.6" r="1.65"/><circle cx="434.9" cy="735.4" r="1.65"/><circle cx="429.3" cy="747.2" r="1.65"/><circle cx="426.6" cy="753.4" r="1.65"/><circle cx="432.1" cy="746.6" r="1.65"/><circle cx="422.2" cy="760.0" r="1.65"/><circle cx="435.8" cy="729.2" r="1.65"/><circle cx="434.1" cy="720.1" r="1.65"/><circle cx="423.9" cy="754.3" r="1.65"/><circle cx="431.0" cy="753.6" r="1.65"/><circle cx="470.2" cy="740.1" r="1.65"/><circle cx="436.4" cy="746.0" r="1.65"/><circle cx="423.0" cy="756.3" r="1.65"/><circle cx="426.1" cy="746.5" r="1.65"/><circle cx="436.0" cy="724.2" r="1.65"/><circle cx="440.6" cy="726.3" r="1.65"/><circle cx="422.7" cy="752.0" r="1.65"/><circle cx="427.9" cy="740.7" r="1.65"/><circle cx="432.8" cy="754.4" r="1.65"/><circle cx="427.4" cy="740.2" r="1.65"/><circle cx="446.4" cy="738.4" r="1.65"/><circle cx="425.2" cy="754.3" r="1.65"/><circle cx="433.0" cy="743.1" r="1.65"/><circle cx="464.7" cy="734.9" r="1.65"/><circle cx="443.8" cy="732.1" r="1.65"/><circle cx="430.5" cy="747.9" r="1.65"/><circle cx="428.5" cy="749.1" r="1.65"/><circle cx="423.7" cy="752.4" r="1.65"/><circle cx="447.8" cy="747.1" r="1.65"/><circle cx="436.4" cy="736.2" r="1.65"/><circle cx="436.4" cy="749.8" r="1.65"/><circle cx="440.4" cy="748.1" r="1.65"/><circle cx="433.0" cy="738.1" r="1.65"/><circle cx="427.3" cy="745.0" r="1.65"/><circle cx="426.6" cy="748.1" r="1.65"/><circle cx="426.6" cy="751.1" r="1.65"/><circle cx="443.3" cy="740.4" r="1.65"/><circle cx="451.3" cy="745.5" r="1.65"/><circle cx="427.4" cy="755.6" r="1.65"/><circle cx="428.8" cy="739.5" r="1.65"/><circle cx="432.1" cy="731.1" r="1.65"/><circle cx="434.8" cy="747.8" r="1.65"/><circle cx="425.0" cy="749.6" r="1.65"/><circle cx="423.7" cy="755.3" r="1.65"/><circle cx="468.2" cy="744.5" r="1.65"/><circle cx="441.3" cy="725.7" r="1.65"/><circle cx="436.4" cy="744.0" r="1.65"/><circle cx="432.0" cy="736.8" r="1.65"/><circle cx="428.8" cy="750.7" r="1.65"/><circle cx="432.6" cy="738.6" r="1.65"/><circle cx="429.2" cy="743.8" r="1.65"/><circle cx="437.0" cy="741.8" r="1.65"/><circle cx="426.6" cy="747.9" r="1.65"/><circle cx="431.5" cy="749.2" r="1.65"/><circle cx="429.9" cy="745.7" r="1.65"/><circle cx="434.5" cy="734.7" r="1.65"/><circle cx="432.1" cy="740.7" r="1.65"/><circle cx="465.2" cy="722.1" r="1.65"/><circle cx="445.1" cy="728.7" r="1.65"/><circle cx="445.0" cy="728.2" r="1.65"/><circle cx="423.0" cy="748.5" r="1.65"/><circle cx="428.7" cy="742.9" r="1.65"/><circle cx="427.4" cy="755.1" r="1.65"/><circle cx="434.4" cy="746.9" r="1.65"/><circle cx="422.5" cy="756.6" r="1.65"/><circle cx="440.9" cy="751.1" r="1.65"/><circle cx="439.6" cy="749.6" r="1.65"/><circle cx="424.8" cy="751.4" r="1.65"/><circle cx="425.9" cy="753.9" r="1.65"/><circle cx="426.6" cy="752.0" r="1.65"/><circle cx="430.9" cy="741.6" r="1.65"/><circle cx="435.4" cy="737.1" r="1.65"/><circle cx="454.2" cy="743.2" r="1.65"/><circle cx="429.4" cy="750.6" r="1.65"/><circle cx="436.5" cy="750.5" r="1.65"/><circle cx="431.6" cy="750.1" r="1.65"/><circle cx="449.1" cy="744.4" r="1.65"/><circle cx="436.3" cy="738.5" r="1.65"/><circle cx="443.3" cy="734.1" r="1.65"/><circle cx="425.5" cy="746.7" r="1.65"/><circle cx="429.5" cy="750.4" r="1.65"/><circle cx="426.5" cy="744.1" r="1.65"/><circle cx="445.2" cy="739.6" r="1.65"/><circle cx="435.5" cy="740.2" r="1.65"/><circle cx="428.9" cy="751.6" r="1.65"/><circle cx="428.1" cy="748.9" r="1.65"/><circle cx="434.1" cy="746.9" r="1.65"/><circle cx="427.0" cy="736.5" r="1.65"/><circle cx="426.1" cy="744.7" r="1.65"/><circle cx="434.0" cy="746.0" r="1.65"/><circle cx="463.1" cy="739.8" r="1.65"/><circle cx="429.2" cy="751.3" r="1.65"/><circle cx="427.6" cy="742.3" r="1.65"/><circle cx="425.2" cy="752.3" r="1.65"/><circle cx="424.7" cy="731.1" r="1.65"/><circle cx="434.4" cy="728.0" r="1.65"/><circle cx="437.3" cy="736.6" r="1.65"/><circle cx="430.7" cy="751.6" r="1.65"/><circle cx="432.9" cy="742.7" r="1.65"/><circle cx="431.3" cy="724.4" r="1.65"/><circle cx="431.5" cy="741.9" r="1.65"/><circle cx="424.2" cy="749.9" r="1.65"/><circle cx="428.1" cy="740.4" r="1.65"/><circle cx="431.3" cy="733.9" r="1.65"/><circle cx="426.6" cy="746.8" r="1.65"/><circle cx="428.0" cy="749.2" r="1.65"/><circle cx="426.5" cy="753.0" r="1.65"/><circle cx="428.7" cy="735.0" r="1.65"/><circle cx="437.4" cy="753.0" r="1.65"/><circle cx="428.3" cy="741.6" r="1.65"/><circle cx="429.7" cy="743.5" r="1.65"/><circle cx="437.0" cy="745.4" r="1.65"/><circle cx="435.4" cy="737.3" r="1.65"/><circle cx="448.0" cy="750.2" r="1.65"/><circle cx="422.9" cy="754.9" r="1.65"/><circle cx="437.4" cy="741.8" r="1.65"/><circle cx="428.0" cy="738.3" r="1.65"/><circle cx="431.5" cy="742.4" r="1.65"/><circle cx="437.2" cy="743.0" r="1.65"/><circle cx="439.8" cy="745.5" r="1.65"/><circle cx="439.3" cy="739.9" r="1.65"/><circle cx="431.6" cy="755.8" r="1.65"/><circle cx="446.7" cy="737.2" r="1.65"/><circle cx="429.0" cy="741.5" r="1.65"/><circle cx="429.8" cy="754.1" r="1.65"/><circle cx="436.8" cy="724.3" r="1.65"/><circle cx="427.6" cy="743.6" r="1.65"/><circle cx="456.4" cy="734.6" r="1.65"/><circle cx="458.4" cy="739.6" r="1.65"/><circle cx="456.7" cy="737.2" r="1.65"/><circle cx="430.4" cy="742.4" r="1.65"/><circle cx="428.5" cy="748.1" r="1.65"/><circle cx="431.7" cy="745.5" r="1.65"/><circle cx="436.2" cy="739.8" r="1.65"/><circle cx="427.5" cy="741.2" r="1.65"/><circle cx="433.2" cy="750.0" r="1.65"/><circle cx="430.5" cy="738.5" r="1.65"/><circle cx="446.8" cy="724.9" r="1.65"/><circle cx="427.1" cy="756.1" r="1.65"/><circle cx="439.4" cy="749.3" r="1.65"/><circle cx="427.2" cy="746.0" r="1.65"/><circle cx="426.0" cy="749.6" r="1.65"/><circle cx="426.9" cy="750.5" r="1.65"/><circle cx="425.2" cy="751.2" r="1.65"/><circle cx="431.5" cy="748.1" r="1.65"/><circle cx="439.2" cy="738.0" r="1.65"/><circle cx="431.7" cy="748.7" r="1.65"/><circle cx="435.2" cy="749.7" r="1.65"/><circle cx="447.0" cy="749.5" r="1.65"/><circle cx="432.4" cy="756.1" r="1.65"/><circle cx="431.9" cy="751.5" r="1.65"/><circle cx="429.0" cy="742.4" r="1.65"/><circle cx="424.0" cy="754.9" r="1.65"/><circle cx="436.5" cy="734.7" r="1.65"/><circle cx="423.6" cy="746.1" r="1.65"/><circle cx="435.5" cy="747.9" r="1.65"/><circle cx="430.5" cy="746.9" r="1.65"/><circle cx="440.3" cy="737.8" r="1.65"/><circle cx="430.2" cy="750.3" r="1.65"/><circle cx="426.5" cy="748.1" r="1.65"/><circle cx="433.1" cy="734.9" r="1.65"/><circle cx="427.6" cy="751.2" r="1.65"/><circle cx="429.5" cy="753.2" r="1.65"/><circle cx="480.9" cy="728.9" r="1.65"/><circle cx="429.8" cy="737.2" r="1.65"/><circle cx="429.5" cy="746.0" r="1.65"/><circle cx="426.4" cy="746.1" r="1.65"/><circle cx="429.5" cy="754.7" r="1.65"/><circle cx="475.9" cy="743.1" r="1.65"/><circle cx="429.7" cy="749.4" r="1.65"/><circle cx="425.1" cy="758.9" r="1.65"/><circle cx="440.2" cy="734.5" r="1.65"/><circle cx="442.0" cy="731.2" r="1.65"/><circle cx="423.2" cy="755.2" r="1.65"/><circle cx="431.5" cy="746.1" r="1.65"/><circle cx="429.8" cy="739.7" r="1.65"/><circle cx="425.7" cy="745.2" r="1.65"/><circle cx="434.4" cy="732.2" r="1.65"/><circle cx="428.1" cy="754.1" r="1.65"/><circle cx="423.6" cy="757.2" r="1.65"/><circle cx="429.1" cy="752.9" r="1.65"/><circle cx="429.7" cy="741.6" r="1.65"/><circle cx="431.3" cy="739.4" r="1.65"/><circle cx="425.0" cy="755.7" r="1.65"/><circle cx="435.2" cy="753.9" r="1.65"/><circle cx="436.2" cy="737.4" r="1.65"/><circle cx="425.3" cy="751.6" r="1.65"/><circle cx="427.2" cy="751.7" r="1.65"/><circle cx="430.1" cy="747.6" r="1.65"/><circle cx="427.6" cy="752.9" r="1.65"/><circle cx="448.8" cy="752.8" r="1.65"/><circle cx="432.0" cy="743.8" r="1.65"/><circle cx="425.8" cy="753.6" r="1.65"/><circle cx="426.6" cy="740.1" r="1.65"/><circle cx="430.3" cy="741.7" r="1.65"/><circle cx="459.2" cy="746.5" r="1.65"/><circle cx="429.5" cy="742.8" r="1.65"/><circle cx="431.4" cy="734.5" r="1.65"/><circle cx="434.3" cy="727.5" r="1.65"/><circle cx="430.4" cy="738.4" r="1.65"/><circle cx="458.9" cy="746.7" r="1.65"/><circle cx="427.7" cy="743.4" r="1.65"/><circle cx="436.3" cy="741.7" r="1.65"/><circle cx="431.6" cy="739.4" r="1.65"/><circle cx="435.2" cy="745.9" r="1.65"/><circle cx="425.2" cy="752.3" r="1.65"/><circle cx="449.2" cy="748.7" r="1.65"/><circle cx="429.9" cy="745.3" r="1.65"/><circle cx="430.8" cy="754.3" r="1.65"/><circle cx="426.1" cy="751.5" r="1.65"/><circle cx="426.9" cy="732.6" r="1.65"/><circle cx="434.7" cy="740.2" r="1.65"/><circle cx="438.7" cy="740.0" r="1.65"/><circle cx="436.4" cy="747.1" r="1.65"/><circle cx="441.3" cy="740.5" r="1.65"/><circle cx="436.0" cy="738.8" r="1.65"/><circle cx="430.8" cy="744.9" r="1.65"/><circle cx="437.2" cy="735.8" r="1.65"/><circle cx="435.0" cy="739.5" r="1.65"/><circle cx="430.0" cy="750.0" r="1.65"/><circle cx="436.1" cy="742.5" r="1.65"/><circle cx="442.2" cy="725.4" r="1.65"/><circle cx="432.2" cy="737.5" r="1.65"/><circle cx="490.2" cy="728.6" r="1.65"/><circle cx="436.1" cy="742.7" r="1.65"/><circle cx="451.4" cy="737.2" r="1.65"/><circle cx="429.4" cy="754.0" r="1.65"/><circle cx="430.0" cy="747.2" r="1.65"/><circle cx="429.8" cy="746.1" r="1.65"/><circle cx="441.4" cy="746.0" r="1.65"/><circle cx="423.4" cy="755.3" r="1.65"/><circle cx="433.1" cy="740.4" r="1.65"/><circle cx="479.3" cy="738.6" r="1.65"/><circle cx="426.5" cy="749.4" r="1.65"/><circle cx="444.9" cy="734.4" r="1.65"/><circle cx="434.5" cy="748.2" r="1.65"/><circle cx="459.9" cy="737.8" r="1.65"/><circle cx="431.9" cy="742.7" r="1.65"/><circle cx="424.2" cy="750.8" r="1.65"/><circle cx="427.6" cy="748.7" r="1.65"/><circle cx="450.2" cy="738.2" r="1.65"/><circle cx="426.2" cy="748.7" r="1.65"/><circle cx="450.5" cy="737.2" r="1.65"/><circle cx="430.1" cy="743.7" r="1.65"/><circle cx="438.8" cy="744.0" r="1.65"/><circle cx="430.9" cy="753.0" r="1.65"/><circle cx="422.6" cy="754.7" r="1.65"/><circle cx="427.5" cy="745.3" r="1.65"/><circle cx="431.8" cy="740.0" r="1.65"/><circle cx="425.3" cy="743.3" r="1.65"/><circle cx="424.7" cy="752.7" r="1.65"/><circle cx="433.1" cy="733.8" r="1.65"/><circle cx="427.2" cy="745.5" r="1.65"/><circle cx="423.7" cy="753.2" r="1.65"/><circle cx="427.1" cy="750.0" r="1.65"/><circle cx="437.4" cy="726.2" r="1.65"/><circle cx="428.0" cy="758.6" r="1.65"/><circle cx="438.2" cy="741.4" r="1.65"/><circle cx="445.5" cy="742.4" r="1.65"/><circle cx="430.8" cy="753.7" r="1.65"/><circle cx="425.4" cy="753.4" r="1.65"/><circle cx="424.8" cy="742.3" r="1.65"/><circle cx="430.4" cy="741.8" r="1.65"/><circle cx="437.6" cy="729.5" r="1.65"/><circle cx="432.4" cy="753.9" r="1.65"/><circle cx="434.6" cy="725.3" r="1.65"/><circle cx="428.2" cy="744.4" r="1.65"/><circle cx="432.6" cy="744.9" r="1.65"/><circle cx="428.0" cy="737.7" r="1.65"/><circle cx="428.7" cy="735.4" r="1.65"/><circle cx="424.9" cy="747.4" r="1.65"/><circle cx="424.1" cy="745.2" r="1.65"/><circle cx="428.0" cy="748.9" r="1.65"/><circle cx="425.4" cy="744.1" r="1.65"/><circle cx="426.0" cy="750.7" r="1.65"/><circle cx="435.6" cy="741.8" r="1.65"/><circle cx="430.0" cy="749.7" r="1.65"/><circle cx="475.4" cy="735.8" r="1.65"/><circle cx="438.1" cy="747.2" r="1.65"/><circle cx="427.3" cy="749.5" r="1.65"/><circle cx="436.6" cy="731.2" r="1.65"/><circle cx="433.1" cy="744.0" r="1.65"/><circle cx="427.1" cy="756.8" r="1.65"/><circle cx="465.4" cy="731.9" r="1.65"/><circle cx="426.7" cy="750.0" r="1.65"/><circle cx="421.4" cy="759.0" r="1.65"/><circle cx="436.8" cy="736.5" r="1.65"/><circle cx="427.3" cy="753.1" r="1.65"/><circle cx="444.9" cy="735.4" r="1.65"/><circle cx="427.2" cy="745.7" r="1.65"/><circle cx="425.2" cy="746.6" r="1.65"/><circle cx="445.8" cy="733.9" r="1.65"/><circle cx="425.6" cy="753.5" r="1.65"/><circle cx="431.9" cy="750.1" r="1.65"/><circle cx="444.4" cy="748.3" r="1.65"/><circle cx="431.3" cy="741.1" r="1.65"/><circle cx="430.1" cy="743.0" r="1.65"/><circle cx="431.3" cy="751.4" r="1.65"/><circle cx="437.2" cy="739.9" r="1.65"/><circle cx="426.6" cy="741.9" r="1.65"/><circle cx="435.1" cy="752.5" r="1.65"/><circle cx="434.8" cy="746.4" r="1.65"/><circle cx="460.1" cy="748.9" r="1.65"/><circle cx="428.7" cy="739.9" r="1.65"/><circle cx="426.1" cy="731.8" r="1.65"/><circle cx="436.2" cy="747.7" r="1.65"/><circle cx="428.4" cy="728.6" r="1.65"/><circle cx="432.5" cy="734.7" r="1.65"/><circle cx="431.5" cy="728.1" r="1.65"/><circle cx="440.8" cy="731.3" r="1.65"/><circle cx="427.2" cy="740.5" r="1.65"/><circle cx="430.0" cy="744.4" r="1.65"/><circle cx="422.1" cy="757.5" r="1.65"/><circle cx="426.2" cy="749.1" r="1.65"/><circle cx="445.6" cy="728.9" r="1.65"/><circle cx="427.1" cy="751.0" r="1.65"/><circle cx="427.0" cy="753.6" r="1.65"/><circle cx="425.1" cy="751.8" r="1.65"/><circle cx="434.8" cy="749.2" r="1.65"/><circle cx="431.8" cy="739.6" r="1.65"/><circle cx="425.2" cy="751.6" r="1.65"/><circle cx="435.6" cy="742.4" r="1.65"/><circle cx="432.3" cy="742.0" r="1.65"/><circle cx="436.4" cy="746.1" r="1.65"/><circle cx="427.2" cy="741.7" r="1.65"/><circle cx="448.7" cy="736.2" r="1.65"/><circle cx="433.5" cy="747.8" r="1.65"/><circle cx="429.9" cy="751.6" r="1.65"/><circle cx="427.8" cy="748.4" r="1.65"/><circle cx="429.2" cy="740.0" r="1.65"/><circle cx="437.4" cy="723.4" r="1.65"/><circle cx="429.0" cy="738.3" r="1.65"/><circle cx="439.7" cy="740.5" r="1.65"/><circle cx="434.9" cy="753.9" r="1.65"/><circle cx="443.0" cy="743.0" r="1.65"/><circle cx="437.0" cy="731.5" r="1.65"/><circle cx="430.2" cy="741.5" r="1.65"/><circle cx="423.3" cy="755.6" r="1.65"/><circle cx="432.6" cy="742.9" r="1.65"/><circle cx="436.7" cy="719.1" r="1.65"/><circle cx="431.7" cy="743.2" r="1.65"/><circle cx="434.6" cy="727.8" r="1.65"/><circle cx="428.0" cy="740.1" r="1.65"/><circle cx="471.0" cy="743.4" r="1.65"/><circle cx="426.0" cy="750.3" r="1.65"/><circle cx="443.2" cy="715.9" r="1.65"/><circle cx="431.6" cy="742.3" r="1.65"/><circle cx="427.9" cy="753.5" r="1.65"/><circle cx="424.7" cy="746.3" r="1.65"/><circle cx="429.7" cy="753.1" r="1.65"/><circle cx="444.3" cy="741.6" r="1.65"/><circle cx="433.9" cy="749.1" r="1.65"/><circle cx="426.9" cy="752.0" r="1.65"/><circle cx="444.1" cy="735.6" r="1.65"/><circle cx="444.1" cy="741.4" r="1.65"/><circle cx="438.7" cy="744.1" r="1.65"/><circle cx="436.7" cy="750.9" r="1.65"/><circle cx="440.6" cy="736.8" r="1.65"/><circle cx="434.5" cy="755.3" r="1.65"/><circle cx="436.6" cy="737.6" r="1.65"/><circle cx="426.7" cy="749.5" r="1.65"/><circle cx="445.1" cy="719.2" r="1.65"/><circle cx="432.1" cy="739.7" r="1.65"/><circle cx="453.7" cy="742.4" r="1.65"/><circle cx="423.0" cy="753.4" r="1.65"/><circle cx="436.0" cy="751.4" r="1.65"/><circle cx="438.7" cy="731.9" r="1.65"/><circle cx="428.7" cy="744.7" r="1.65"/><circle cx="433.8" cy="745.0" r="1.65"/><circle cx="436.4" cy="741.9" r="1.65"/><circle cx="434.8" cy="738.3" r="1.65"/><circle cx="427.7" cy="754.7" r="1.65"/><circle cx="429.8" cy="747.9" r="1.65"/><circle cx="439.1" cy="716.5" r="1.65"/><circle cx="442.1" cy="739.0" r="1.65"/><circle cx="431.2" cy="742.0" r="1.65"/><circle cx="431.1" cy="747.7" r="1.65"/><circle cx="431.9" cy="746.4" r="1.65"/><circle cx="439.3" cy="752.4" r="1.65"/><circle cx="425.6" cy="751.3" r="1.65"/><circle cx="424.7" cy="754.6" r="1.65"/><circle cx="431.4" cy="744.8" r="1.65"/><circle cx="425.4" cy="755.5" r="1.65"/><circle cx="427.5" cy="751.0" r="1.65"/><circle cx="431.2" cy="754.2" r="1.65"/><circle cx="434.0" cy="744.7" r="1.65"/><circle cx="425.6" cy="753.0" r="1.65"/><circle cx="436.9" cy="737.1" r="1.65"/><circle cx="423.6" cy="751.3" r="1.65"/><circle cx="434.6" cy="747.3" r="1.65"/><circle cx="424.0" cy="753.1" r="1.65"/><circle cx="424.9" cy="753.7" r="1.65"/><circle cx="435.4" cy="742.3" r="1.65"/><circle cx="428.3" cy="747.6" r="1.65"/><circle cx="426.6" cy="747.3" r="1.65"/><circle cx="428.1" cy="748.8" r="1.65"/><circle cx="433.9" cy="744.8" r="1.65"/><circle cx="430.3" cy="744.2" r="1.65"/><circle cx="430.4" cy="747.5" r="1.65"/><circle cx="439.5" cy="745.1" r="1.65"/><circle cx="426.9" cy="749.7" r="1.65"/><circle cx="428.0" cy="753.0" r="1.65"/><circle cx="427.8" cy="749.9" r="1.65"/><circle cx="440.8" cy="723.4" r="1.65"/><circle cx="438.8" cy="732.5" r="1.65"/><circle cx="442.2" cy="755.0" r="1.65"/><circle cx="430.4" cy="752.6" r="1.65"/><circle cx="429.7" cy="740.5" r="1.65"/><circle cx="437.4" cy="737.7" r="1.65"/><circle cx="428.4" cy="747.1" r="1.65"/><circle cx="472.5" cy="717.1" r="1.65"/><circle cx="436.1" cy="746.4" r="1.65"/><circle cx="427.0" cy="733.0" r="1.65"/><circle cx="430.1" cy="751.9" r="1.65"/><circle cx="429.9" cy="736.9" r="1.65"/><circle cx="448.6" cy="736.3" r="1.65"/><circle cx="466.2" cy="749.7" r="1.65"/><circle cx="430.0" cy="753.1" r="1.65"/><circle cx="430.7" cy="745.9" r="1.65"/><circle cx="422.5" cy="757.9" r="1.65"/><circle cx="432.0" cy="739.4" r="1.65"/><circle cx="430.6" cy="744.6" r="1.65"/><circle cx="425.6" cy="749.8" r="1.65"/><circle cx="436.7" cy="747.6" r="1.65"/><circle cx="424.1" cy="749.5" r="1.65"/><circle cx="429.3" cy="752.3" r="1.65"/><circle cx="431.5" cy="742.8" r="1.65"/><circle cx="425.0" cy="743.0" r="1.65"/><circle cx="437.4" cy="737.8" r="1.65"/><circle cx="439.5" cy="750.2" r="1.65"/><circle cx="424.6" cy="752.5" r="1.65"/><circle cx="424.5" cy="749.9" r="1.65"/><circle cx="435.0" cy="749.7" r="1.65"/><circle cx="430.4" cy="742.3" r="1.65"/><circle cx="425.1" cy="757.6" r="1.65"/><circle cx="428.9" cy="755.5" r="1.65"/><circle cx="430.0" cy="755.5" r="1.65"/><circle cx="429.7" cy="753.1" r="1.65"/><circle cx="490.4" cy="725.2" r="1.65"/><circle cx="433.3" cy="742.1" r="1.65"/><circle cx="449.2" cy="736.7" r="1.65"/><circle cx="443.4" cy="732.6" r="1.65"/><circle cx="435.7" cy="738.4" r="1.65"/><circle cx="439.7" cy="752.5" r="1.65"/><circle cx="442.7" cy="747.0" r="1.65"/><circle cx="436.0" cy="732.9" r="1.65"/><circle cx="425.1" cy="755.7" r="1.65"/><circle cx="437.4" cy="735.8" r="1.65"/><circle cx="431.1" cy="749.5" r="1.65"/><circle cx="446.8" cy="731.7" r="1.65"/><circle cx="431.2" cy="740.9" r="1.65"/><circle cx="434.4" cy="742.2" r="1.65"/><circle cx="432.8" cy="745.5" r="1.65"/><circle cx="447.8" cy="729.6" r="1.65"/><circle cx="431.8" cy="744.3" r="1.65"/><circle cx="429.0" cy="747.2" r="1.65"/><circle cx="432.7" cy="742.7" r="1.65"/><circle cx="428.2" cy="747.4" r="1.65"/><circle cx="431.7" cy="740.6" r="1.65"/><circle cx="430.6" cy="737.5" r="1.65"/><circle cx="432.4" cy="738.0" r="1.65"/><circle cx="451.8" cy="743.6" r="1.65"/><circle cx="428.3" cy="753.8" r="1.65"/><circle cx="430.8" cy="754.3" r="1.65"/><circle cx="429.4" cy="749.6" r="1.65"/><circle cx="435.7" cy="733.1" r="1.65"/><circle cx="425.2" cy="741.3" r="1.65"/><circle cx="476.8" cy="729.7" r="1.65"/><circle cx="430.4" cy="751.7" r="1.65"/><circle cx="434.6" cy="754.3" r="1.65"/><circle cx="430.3" cy="726.9" r="1.65"/><circle cx="427.9" cy="746.6" r="1.65"/><circle cx="426.3" cy="748.5" r="1.65"/><circle cx="434.3" cy="728.2" r="1.65"/><circle cx="444.3" cy="748.0" r="1.65"/><circle cx="432.8" cy="745.5" r="1.65"/><circle cx="431.8" cy="738.6" r="1.65"/><circle cx="433.7" cy="739.1" r="1.65"/><circle cx="426.0" cy="738.8" r="1.65"/><circle cx="428.8" cy="744.1" r="1.65"/><circle cx="429.1" cy="739.2" r="1.65"/><circle cx="432.6" cy="747.5" r="1.65"/><circle cx="430.4" cy="744.9" r="1.65"/><circle cx="425.1" cy="749.2" r="1.65"/><circle cx="440.3" cy="750.9" r="1.65"/><circle cx="448.0" cy="748.0" r="1.65"/><circle cx="429.1" cy="753.8" r="1.65"/><circle cx="433.4" cy="744.0" r="1.65"/></g><path d="M418.6 706.8 V776.0 H496.1" stroke="#555" stroke-width="1" fill="none"/><text x="423.70" y="702.10" font-size="8.8" fill="#00008b" textLength="67.30" lengthAdjust="spacingAndGlyphs" stroke="#00008b" stroke-width="0.12">Pearson Corr: 0.50</text><clipPath id="cer3c2"><rect x="506.5" y="704.8" width="80.0" height="71.40000000000009"/></clipPath><path d="M540.00 706.8 V776.2 M574.80 706.8 V776.2 M506.5 764.40 H584.5 M506.5 739.30 H584.5 M506.5 714.20 H584.5" stroke="#e4e4e4" stroke-width="0.8" fill="none"/><path d="M508.0 732.4 L544.2 751.2 L580.5 767.3 L580.5 773.7 L544.2 752.7 L508.0 734.4 Z" fill="#cfe5f7" opacity="0.85"/><path d="M508.0 733.4 L580.5 770.5" stroke="#2b93e6" stroke-width="1.1"/><g clip-path="url(#cer3c2)" fill="#52a6e6" stroke="#1f3a58" stroke-width="0.45"><circle cx="581.8" cy="761.3" r="1.65"/><circle cx="574.8" cy="761.3" r="1.65"/><circle cx="574.8" cy="761.0" r="1.65"/><circle cx="573.4" cy="759.7" r="1.65"/><circle cx="557.4" cy="761.3" r="1.65"/><circle cx="557.4" cy="759.6" r="1.65"/><circle cx="557.4" cy="760.1" r="1.65"/><circle cx="557.4" cy="756.9" r="1.65"/><circle cx="557.4" cy="757.5" r="1.65"/><circle cx="557.4" cy="757.9" r="1.65"/><circle cx="548.7" cy="760.2" r="1.65"/><circle cx="548.7" cy="758.4" r="1.65"/><circle cx="547.0" cy="757.5" r="1.65"/><circle cx="548.7" cy="754.4" r="1.65"/><circle cx="540.0" cy="753.5" r="1.65"/><circle cx="540.0" cy="750.9" r="1.65"/><circle cx="531.3" cy="740.0" r="1.65"/><circle cx="531.3" cy="751.7" r="1.65"/><circle cx="527.8" cy="752.7" r="1.65"/><circle cx="513.6" cy="745.6" r="1.65"/><circle cx="531.1" cy="754.5" r="1.65"/><circle cx="517.2" cy="735.6" r="1.65"/><circle cx="510.5" cy="725.9" r="1.65"/><circle cx="514.1" cy="739.9" r="1.65"/><circle cx="519.3" cy="744.1" r="1.65"/><circle cx="514.0" cy="740.9" r="1.65"/><circle cx="517.2" cy="750.8" r="1.65"/><circle cx="518.7" cy="741.1" r="1.65"/><circle cx="525.7" cy="749.5" r="1.65"/><circle cx="512.2" cy="722.6" r="1.65"/><circle cx="525.7" cy="752.0" r="1.65"/><circle cx="540.4" cy="753.5" r="1.65"/><circle cx="513.9" cy="738.0" r="1.65"/><circle cx="531.3" cy="750.9" r="1.65"/><circle cx="527.2" cy="750.6" r="1.65"/><circle cx="522.8" cy="744.9" r="1.65"/><circle cx="522.6" cy="754.1" r="1.65"/><circle cx="512.0" cy="725.7" r="1.65"/><circle cx="515.7" cy="753.6" r="1.65"/><circle cx="510.2" cy="731.8" r="1.65"/><circle cx="527.7" cy="750.0" r="1.65"/><circle cx="528.3" cy="746.9" r="1.65"/><circle cx="528.0" cy="751.4" r="1.65"/><circle cx="531.5" cy="755.8" r="1.65"/><circle cx="517.6" cy="746.5" r="1.65"/><circle cx="514.1" cy="740.7" r="1.65"/><circle cx="517.4" cy="742.7" r="1.65"/><circle cx="523.2" cy="740.6" r="1.65"/><circle cx="519.1" cy="742.0" r="1.65"/><circle cx="510.6" cy="725.5" r="1.65"/><circle cx="517.3" cy="739.7" r="1.65"/><circle cx="513.8" cy="731.1" r="1.65"/><circle cx="518.5" cy="743.6" r="1.65"/><circle cx="513.4" cy="735.4" r="1.65"/><circle cx="519.5" cy="747.2" r="1.65"/><circle cx="523.0" cy="753.4" r="1.65"/><circle cx="519.0" cy="746.6" r="1.65"/><circle cx="540.0" cy="760.0" r="1.65"/><circle cx="512.3" cy="729.2" r="1.65"/><circle cx="509.3" cy="720.1" r="1.65"/><circle cx="531.8" cy="754.3" r="1.65"/><circle cx="531.0" cy="753.6" r="1.65"/><circle cx="517.2" cy="740.1" r="1.65"/><circle cx="518.4" cy="746.0" r="1.65"/><circle cx="528.2" cy="756.3" r="1.65"/><circle cx="522.6" cy="746.5" r="1.65"/><circle cx="512.6" cy="724.2" r="1.65"/><circle cx="513.6" cy="726.3" r="1.65"/><circle cx="527.9" cy="752.0" r="1.65"/><circle cx="517.4" cy="740.7" r="1.65"/><circle cx="540.1" cy="754.4" r="1.65"/><circle cx="512.7" cy="740.2" r="1.65"/><circle cx="514.5" cy="738.4" r="1.65"/><circle cx="531.7" cy="754.3" r="1.65"/><circle cx="515.5" cy="743.1" r="1.65"/><circle cx="509.8" cy="734.9" r="1.65"/><circle cx="510.8" cy="732.1" r="1.65"/><circle cx="515.8" cy="747.9" r="1.65"/><circle cx="540.2" cy="749.1" r="1.65"/><circle cx="525.7" cy="752.4" r="1.65"/><circle cx="517.1" cy="747.1" r="1.65"/><circle cx="515.7" cy="736.2" r="1.65"/><circle cx="526.0" cy="749.8" r="1.65"/><circle cx="517.1" cy="748.1" r="1.65"/><circle cx="513.9" cy="738.1" r="1.65"/><circle cx="517.6" cy="745.0" r="1.65"/><circle cx="522.2" cy="748.1" r="1.65"/><circle cx="531.3" cy="751.1" r="1.65"/><circle cx="515.2" cy="740.4" r="1.65"/><circle cx="517.2" cy="745.5" r="1.65"/><circle cx="548.3" cy="755.6" r="1.65"/><circle cx="515.4" cy="739.5" r="1.65"/><circle cx="512.0" cy="731.1" r="1.65"/><circle cx="525.5" cy="747.8" r="1.65"/><circle cx="525.5" cy="749.6" r="1.65"/><circle cx="522.0" cy="755.3" r="1.65"/><circle cx="512.6" cy="744.5" r="1.65"/><circle cx="515.6" cy="725.7" r="1.65"/><circle cx="522.3" cy="744.0" r="1.65"/><circle cx="517.2" cy="736.8" r="1.65"/><circle cx="527.9" cy="750.7" r="1.65"/><circle cx="513.6" cy="738.6" r="1.65"/><circle cx="515.5" cy="743.8" r="1.65"/><circle cx="519.0" cy="741.8" r="1.65"/><circle cx="517.5" cy="747.9" r="1.65"/><circle cx="525.4" cy="749.2" r="1.65"/><circle cx="519.2" cy="745.7" r="1.65"/><circle cx="515.7" cy="734.7" r="1.65"/><circle cx="519.1" cy="740.7" r="1.65"/><circle cx="510.7" cy="722.1" r="1.65"/><circle cx="510.4" cy="728.7" r="1.65"/><circle cx="511.9" cy="728.2" r="1.65"/><circle cx="517.5" cy="748.5" r="1.65"/><circle cx="517.4" cy="742.9" r="1.65"/><circle cx="522.6" cy="755.1" r="1.65"/><circle cx="525.6" cy="746.9" r="1.65"/><circle cx="528.4" cy="756.6" r="1.65"/><circle cx="531.4" cy="751.1" r="1.65"/><circle cx="527.9" cy="749.6" r="1.65"/><circle cx="519.1" cy="751.4" r="1.65"/><circle cx="540.3" cy="753.9" r="1.65"/><circle cx="531.3" cy="752.0" r="1.65"/><circle cx="517.2" cy="741.6" r="1.65"/><circle cx="518.8" cy="737.1" r="1.65"/><circle cx="519.3" cy="743.2" r="1.65"/><circle cx="522.8" cy="750.6" r="1.65"/><circle cx="525.1" cy="750.5" r="1.65"/><circle cx="522.4" cy="750.1" r="1.65"/><circle cx="519.3" cy="744.4" r="1.65"/><circle cx="515.9" cy="738.5" r="1.65"/><circle cx="518.8" cy="734.1" r="1.65"/><circle cx="519.0" cy="746.7" r="1.65"/><circle cx="525.8" cy="750.4" r="1.65"/><circle cx="512.0" cy="744.1" r="1.65"/><circle cx="517.3" cy="739.6" r="1.65"/><circle cx="527.7" cy="740.2" r="1.65"/><circle cx="525.2" cy="751.6" r="1.65"/><circle cx="519.1" cy="748.9" r="1.65"/><circle cx="522.7" cy="746.9" r="1.65"/><circle cx="515.3" cy="736.5" r="1.65"/><circle cx="515.7" cy="744.7" r="1.65"/><circle cx="517.7" cy="746.0" r="1.65"/><circle cx="512.2" cy="739.8" r="1.65"/><circle cx="528.1" cy="751.3" r="1.65"/><circle cx="515.5" cy="742.3" r="1.65"/><circle cx="531.7" cy="752.3" r="1.65"/><circle cx="513.7" cy="731.1" r="1.65"/><circle cx="514.4" cy="728.0" r="1.65"/><circle cx="517.3" cy="736.6" r="1.65"/><circle cx="531.1" cy="751.6" r="1.65"/><circle cx="515.4" cy="742.7" r="1.65"/><circle cx="510.3" cy="724.4" r="1.65"/><circle cx="522.5" cy="741.9" r="1.65"/><circle cx="522.4" cy="749.9" r="1.65"/><circle cx="513.8" cy="740.4" r="1.65"/><circle cx="514.1" cy="733.9" r="1.65"/><circle cx="517.6" cy="746.8" r="1.65"/><circle cx="522.5" cy="749.2" r="1.65"/><circle cx="528.1" cy="753.0" r="1.65"/><circle cx="511.9" cy="735.0" r="1.65"/><circle cx="539.7" cy="753.0" r="1.65"/><circle cx="518.8" cy="741.6" r="1.65"/><circle cx="517.5" cy="743.5" r="1.65"/><circle cx="522.2" cy="745.4" r="1.65"/><circle cx="518.8" cy="737.3" r="1.65"/><circle cx="540.3" cy="750.2" r="1.65"/><circle cx="531.7" cy="754.9" r="1.65"/><circle cx="516.0" cy="741.8" r="1.65"/><circle cx="517.0" cy="738.3" r="1.65"/><circle cx="517.4" cy="742.4" r="1.65"/><circle cx="515.9" cy="743.0" r="1.65"/><circle cx="522.6" cy="745.5" r="1.65"/><circle cx="513.5" cy="739.9" r="1.65"/><circle cx="539.9" cy="755.8" r="1.65"/><circle cx="515.2" cy="737.2" r="1.65"/><circle cx="518.8" cy="741.5" r="1.65"/><circle cx="528.4" cy="754.1" r="1.65"/><circle cx="510.6" cy="724.3" r="1.65"/><circle cx="515.3" cy="743.6" r="1.65"/><circle cx="515.2" cy="734.6" r="1.65"/><circle cx="514.0" cy="739.6" r="1.65"/><circle cx="513.7" cy="737.2" r="1.65"/><circle cx="522.7" cy="742.4" r="1.65"/><circle cx="517.2" cy="748.1" r="1.65"/><circle cx="519.1" cy="745.5" r="1.65"/><circle cx="512.2" cy="739.8" r="1.65"/><circle cx="511.9" cy="741.2" r="1.65"/><circle cx="530.8" cy="750.0" r="1.65"/><circle cx="513.6" cy="738.5" r="1.65"/><circle cx="512.0" cy="724.9" r="1.65"/><circle cx="539.9" cy="756.1" r="1.65"/><circle cx="525.5" cy="749.3" r="1.65"/><circle cx="517.4" cy="746.0" r="1.65"/><circle cx="517.5" cy="749.6" r="1.65"/><circle cx="518.9" cy="750.5" r="1.65"/><circle cx="516.0" cy="751.2" r="1.65"/><circle cx="523.1" cy="748.1" r="1.65"/><circle cx="517.5" cy="738.0" r="1.65"/><circle cx="519.2" cy="748.7" r="1.65"/><circle cx="525.9" cy="749.7" r="1.65"/><circle cx="519.3" cy="749.5" r="1.65"/><circle cx="540.0" cy="756.1" r="1.65"/><circle cx="531.3" cy="751.5" r="1.65"/><circle cx="512.0" cy="742.4" r="1.65"/><circle cx="531.0" cy="754.9" r="1.65"/><circle cx="512.3" cy="734.7" r="1.65"/><circle cx="514.2" cy="746.1" r="1.65"/><circle cx="522.3" cy="747.9" r="1.65"/><circle cx="515.6" cy="746.9" r="1.65"/><circle cx="515.7" cy="737.8" r="1.65"/><circle cx="531.2" cy="750.3" r="1.65"/><circle cx="517.2" cy="748.1" r="1.65"/><circle cx="513.8" cy="734.9" r="1.65"/><circle cx="522.1" cy="751.2" r="1.65"/><circle cx="531.3" cy="753.2" r="1.65"/><circle cx="512.1" cy="728.9" r="1.65"/><circle cx="512.7" cy="737.2" r="1.65"/><circle cx="515.9" cy="746.0" r="1.65"/><circle cx="519.0" cy="746.1" r="1.65"/><circle cx="540.0" cy="754.7" r="1.65"/><circle cx="514.3" cy="743.1" r="1.65"/><circle cx="528.2" cy="749.4" r="1.65"/><circle cx="531.3" cy="758.9" r="1.65"/><circle cx="515.6" cy="734.5" r="1.65"/><circle cx="518.7" cy="731.2" r="1.65"/><circle cx="527.7" cy="755.2" r="1.65"/><circle cx="513.9" cy="746.1" r="1.65"/><circle cx="518.9" cy="739.7" r="1.65"/><circle cx="526.0" cy="745.2" r="1.65"/><circle cx="513.4" cy="732.2" r="1.65"/><circle cx="527.8" cy="754.1" r="1.65"/><circle cx="531.4" cy="757.2" r="1.65"/><circle cx="531.4" cy="752.9" r="1.65"/><circle cx="516.1" cy="741.6" r="1.65"/><circle cx="518.8" cy="739.4" r="1.65"/><circle cx="539.8" cy="755.7" r="1.65"/><circle cx="525.6" cy="753.9" r="1.65"/><circle cx="513.9" cy="737.4" r="1.65"/><circle cx="522.5" cy="751.6" r="1.65"/><circle cx="539.8" cy="751.7" r="1.65"/><circle cx="519.4" cy="747.6" r="1.65"/><circle cx="522.3" cy="752.9" r="1.65"/><circle cx="539.8" cy="752.8" r="1.65"/><circle cx="519.5" cy="743.8" r="1.65"/><circle cx="519.6" cy="753.6" r="1.65"/><circle cx="515.9" cy="740.1" r="1.65"/><circle cx="515.4" cy="741.7" r="1.65"/><circle cx="522.4" cy="746.5" r="1.65"/><circle cx="518.9" cy="742.8" r="1.65"/><circle cx="513.6" cy="734.5" r="1.65"/><circle cx="513.8" cy="727.5" r="1.65"/><circle cx="519.4" cy="738.4" r="1.65"/><circle cx="517.4" cy="746.7" r="1.65"/><circle cx="515.4" cy="743.4" r="1.65"/><circle cx="522.4" cy="741.7" r="1.65"/><circle cx="515.3" cy="739.4" r="1.65"/><circle cx="519.4" cy="745.9" r="1.65"/><circle cx="525.0" cy="752.3" r="1.65"/><circle cx="517.4" cy="748.7" r="1.65"/><circle cx="517.0" cy="745.3" r="1.65"/><circle cx="518.8" cy="754.3" r="1.65"/><circle cx="525.2" cy="751.5" r="1.65"/><circle cx="514.1" cy="732.6" r="1.65"/><circle cx="519.1" cy="740.2" r="1.65"/><circle cx="519.8" cy="740.0" r="1.65"/><circle cx="525.3" cy="747.1" r="1.65"/><circle cx="515.3" cy="740.5" r="1.65"/><circle cx="517.5" cy="738.8" r="1.65"/><circle cx="519.3" cy="744.9" r="1.65"/><circle cx="513.8" cy="735.8" r="1.65"/><circle cx="516.8" cy="739.5" r="1.65"/><circle cx="523.0" cy="750.0" r="1.65"/><circle cx="519.3" cy="742.5" r="1.65"/><circle cx="512.3" cy="725.4" r="1.65"/><circle cx="517.2" cy="737.5" r="1.65"/><circle cx="509.7" cy="728.6" r="1.65"/><circle cx="522.4" cy="742.7" r="1.65"/><circle cx="512.2" cy="737.2" r="1.65"/><circle cx="522.5" cy="754.0" r="1.65"/><circle cx="514.2" cy="747.2" r="1.65"/><circle cx="519.0" cy="746.1" r="1.65"/><circle cx="519.0" cy="746.0" r="1.65"/><circle cx="531.6" cy="755.3" r="1.65"/><circle cx="512.2" cy="740.4" r="1.65"/><circle cx="512.1" cy="738.6" r="1.65"/><circle cx="519.0" cy="749.4" r="1.65"/><circle cx="512.4" cy="734.4" r="1.65"/><circle cx="522.4" cy="748.2" r="1.65"/><circle cx="512.3" cy="737.8" r="1.65"/><circle cx="517.9" cy="742.7" r="1.65"/><circle cx="517.5" cy="750.8" r="1.65"/><circle cx="522.4" cy="748.7" r="1.65"/><circle cx="513.6" cy="738.2" r="1.65"/><circle cx="519.1" cy="748.7" r="1.65"/><circle cx="510.1" cy="737.2" r="1.65"/><circle cx="515.2" cy="743.7" r="1.65"/><circle cx="518.9" cy="744.0" r="1.65"/><circle cx="531.0" cy="753.0" r="1.65"/><circle cx="522.8" cy="754.7" r="1.65"/><circle cx="530.9" cy="745.3" r="1.65"/><circle cx="519.5" cy="740.0" r="1.65"/><circle cx="513.7" cy="743.3" r="1.65"/><circle cx="527.8" cy="752.7" r="1.65"/><circle cx="514.1" cy="733.8" r="1.65"/><circle cx="522.6" cy="745.5" r="1.65"/><circle cx="531.5" cy="753.2" r="1.65"/><circle cx="518.8" cy="750.0" r="1.65"/><circle cx="516.8" cy="726.2" r="1.65"/><circle cx="557.3" cy="758.6" r="1.65"/><circle cx="518.7" cy="741.4" r="1.65"/><circle cx="517.2" cy="742.4" r="1.65"/><circle cx="525.8" cy="753.7" r="1.65"/><circle cx="519.0" cy="753.4" r="1.65"/><circle cx="518.9" cy="742.3" r="1.65"/><circle cx="522.3" cy="741.8" r="1.65"/><circle cx="509.5" cy="729.5" r="1.65"/><circle cx="531.2" cy="753.9" r="1.65"/><circle cx="513.5" cy="725.3" r="1.65"/><circle cx="514.0" cy="744.4" r="1.65"/><circle cx="522.3" cy="744.9" r="1.65"/><circle cx="519.2" cy="737.7" r="1.65"/><circle cx="513.8" cy="735.4" r="1.65"/><circle cx="522.8" cy="747.4" r="1.65"/><circle cx="514.1" cy="745.2" r="1.65"/><circle cx="515.6" cy="748.9" r="1.65"/><circle cx="512.1" cy="744.1" r="1.65"/><circle cx="515.7" cy="750.7" r="1.65"/><circle cx="519.5" cy="741.8" r="1.65"/><circle cx="519.4" cy="749.7" r="1.65"/><circle cx="512.2" cy="735.8" r="1.65"/><circle cx="522.7" cy="747.2" r="1.65"/><circle cx="519.5" cy="749.5" r="1.65"/><circle cx="513.5" cy="731.2" r="1.65"/><circle cx="517.5" cy="744.0" r="1.65"/><circle cx="539.8" cy="756.8" r="1.65"/><circle cx="512.5" cy="731.9" r="1.65"/><circle cx="522.5" cy="750.0" r="1.65"/><circle cx="522.6" cy="759.0" r="1.65"/><circle cx="518.8" cy="736.5" r="1.65"/><circle cx="522.6" cy="753.1" r="1.65"/><circle cx="515.8" cy="735.4" r="1.65"/><circle cx="519.5" cy="745.7" r="1.65"/><circle cx="515.3" cy="746.6" r="1.65"/><circle cx="512.0" cy="733.9" r="1.65"/><circle cx="526.6" cy="753.5" r="1.65"/><circle cx="525.8" cy="750.1" r="1.65"/><circle cx="522.6" cy="748.3" r="1.65"/><circle cx="519.3" cy="741.1" r="1.65"/><circle cx="514.9" cy="743.0" r="1.65"/><circle cx="526.0" cy="751.4" r="1.65"/><circle cx="522.6" cy="739.9" r="1.65"/><circle cx="511.8" cy="741.9" r="1.65"/><circle cx="525.9" cy="752.5" r="1.65"/><circle cx="522.4" cy="746.4" r="1.65"/><circle cx="522.3" cy="748.9" r="1.65"/><circle cx="514.0" cy="739.9" r="1.65"/><circle cx="514.0" cy="731.8" r="1.65"/><circle cx="522.5" cy="747.7" r="1.65"/><circle cx="512.1" cy="728.6" r="1.65"/><circle cx="515.3" cy="734.7" r="1.65"/><circle cx="513.5" cy="728.1" r="1.65"/><circle cx="512.4" cy="731.3" r="1.65"/><circle cx="512.5" cy="740.5" r="1.65"/><circle cx="517.5" cy="744.4" r="1.65"/><circle cx="531.4" cy="757.5" r="1.65"/><circle cx="525.5" cy="749.1" r="1.65"/><circle cx="517.3" cy="728.9" r="1.65"/><circle cx="517.1" cy="751.0" r="1.65"/><circle cx="540.5" cy="753.6" r="1.65"/><circle cx="525.4" cy="751.8" r="1.65"/><circle cx="527.9" cy="749.2" r="1.65"/><circle cx="512.2" cy="739.6" r="1.65"/><circle cx="525.2" cy="751.6" r="1.65"/><circle cx="512.7" cy="742.4" r="1.65"/><circle cx="522.5" cy="742.0" r="1.65"/><circle cx="518.9" cy="746.1" r="1.65"/><circle cx="513.9" cy="741.7" r="1.65"/><circle cx="515.4" cy="736.2" r="1.65"/><circle cx="527.8" cy="747.8" r="1.65"/><circle cx="522.3" cy="751.6" r="1.65"/><circle cx="525.7" cy="748.4" r="1.65"/><circle cx="515.7" cy="740.0" r="1.65"/><circle cx="513.5" cy="723.4" r="1.65"/><circle cx="514.2" cy="738.3" r="1.65"/><circle cx="517.4" cy="740.5" r="1.65"/><circle cx="527.5" cy="753.9" r="1.65"/><circle cx="519.2" cy="743.0" r="1.65"/><circle cx="517.5" cy="731.5" r="1.65"/><circle cx="514.4" cy="741.5" r="1.65"/><circle cx="525.3" cy="755.6" r="1.65"/><circle cx="517.6" cy="742.9" r="1.65"/><circle cx="510.4" cy="719.1" r="1.65"/><circle cx="512.3" cy="743.2" r="1.65"/><circle cx="515.6" cy="727.8" r="1.65"/><circle cx="515.6" cy="740.1" r="1.65"/><circle cx="519.3" cy="743.4" r="1.65"/><circle cx="522.3" cy="750.3" r="1.65"/><circle cx="511.6" cy="715.9" r="1.65"/><circle cx="515.6" cy="742.3" r="1.65"/><circle cx="539.9" cy="753.5" r="1.65"/><circle cx="515.7" cy="746.3" r="1.65"/><circle cx="525.7" cy="753.1" r="1.65"/><circle cx="519.1" cy="741.6" r="1.65"/><circle cx="531.6" cy="749.1" r="1.65"/><circle cx="525.6" cy="752.0" r="1.65"/><circle cx="513.9" cy="735.6" r="1.65"/><circle cx="519.3" cy="741.4" r="1.65"/><circle cx="517.5" cy="744.1" r="1.65"/><circle cx="525.5" cy="750.9" r="1.65"/><circle cx="515.7" cy="736.8" r="1.65"/><circle cx="539.8" cy="755.3" r="1.65"/><circle cx="517.2" cy="737.6" r="1.65"/><circle cx="525.6" cy="749.5" r="1.65"/><circle cx="512.4" cy="719.2" r="1.65"/><circle cx="519.0" cy="739.7" r="1.65"/><circle cx="514.1" cy="742.4" r="1.65"/><circle cx="523.1" cy="753.4" r="1.65"/><circle cx="526.1" cy="751.4" r="1.65"/><circle cx="513.9" cy="731.9" r="1.65"/><circle cx="515.9" cy="744.7" r="1.65"/><circle cx="528.0" cy="745.0" r="1.65"/><circle cx="515.9" cy="741.9" r="1.65"/><circle cx="515.9" cy="738.3" r="1.65"/><circle cx="531.4" cy="754.7" r="1.65"/><circle cx="525.8" cy="747.9" r="1.65"/><circle cx="509.6" cy="716.5" r="1.65"/><circle cx="513.8" cy="739.0" r="1.65"/><circle cx="525.6" cy="742.0" r="1.65"/><circle cx="525.7" cy="747.7" r="1.65"/><circle cx="516.0" cy="746.4" r="1.65"/><circle cx="531.4" cy="752.4" r="1.65"/><circle cx="515.8" cy="751.3" r="1.65"/><circle cx="519.5" cy="754.6" r="1.65"/><circle cx="518.9" cy="744.8" r="1.65"/><circle cx="522.5" cy="755.5" r="1.65"/><circle cx="528.0" cy="751.0" r="1.65"/><circle cx="527.8" cy="754.2" r="1.65"/><circle cx="518.9" cy="744.7" r="1.65"/><circle cx="540.3" cy="753.0" r="1.65"/><circle cx="513.9" cy="737.1" r="1.65"/><circle cx="518.9" cy="751.3" r="1.65"/><circle cx="531.8" cy="747.3" r="1.65"/><circle cx="522.3" cy="753.1" r="1.65"/><circle cx="531.3" cy="753.7" r="1.65"/><circle cx="515.5" cy="742.3" r="1.65"/><circle cx="519.2" cy="747.6" r="1.65"/><circle cx="519.3" cy="747.3" r="1.65"/><circle cx="522.4" cy="748.8" r="1.65"/><circle cx="517.4" cy="744.8" r="1.65"/><circle cx="519.1" cy="744.2" r="1.65"/><circle cx="525.3" cy="747.5" r="1.65"/><circle cx="525.9" cy="745.1" r="1.65"/><circle cx="522.7" cy="749.7" r="1.65"/><circle cx="525.5" cy="753.0" r="1.65"/><circle cx="527.7" cy="749.9" r="1.65"/><circle cx="512.1" cy="723.4" r="1.65"/><circle cx="510.5" cy="732.5" r="1.65"/><circle cx="531.2" cy="755.0" r="1.65"/><circle cx="531.6" cy="752.6" r="1.65"/><circle cx="518.5" cy="740.5" r="1.65"/><circle cx="518.6" cy="737.7" r="1.65"/><circle cx="515.6" cy="747.1" r="1.65"/><circle cx="509.1" cy="717.1" r="1.65"/><circle cx="519.1" cy="746.4" r="1.65"/><circle cx="512.0" cy="733.0" r="1.65"/><circle cx="528.0" cy="751.9" r="1.65"/><circle cx="515.8" cy="736.9" r="1.65"/><circle cx="517.7" cy="736.3" r="1.65"/><circle cx="522.9" cy="749.7" r="1.65"/><circle cx="540.3" cy="753.1" r="1.65"/><circle cx="517.5" cy="745.9" r="1.65"/><circle cx="531.6" cy="757.9" r="1.65"/><circle cx="514.0" cy="739.4" r="1.65"/><circle cx="515.5" cy="744.6" r="1.65"/><circle cx="525.2" cy="749.8" r="1.65"/><circle cx="531.0" cy="747.6" r="1.65"/><circle cx="517.5" cy="749.5" r="1.65"/><circle cx="524.9" cy="752.3" r="1.65"/><circle cx="519.2" cy="742.8" r="1.65"/><circle cx="513.7" cy="743.0" r="1.65"/><circle cx="517.6" cy="737.8" r="1.65"/><circle cx="531.4" cy="750.2" r="1.65"/><circle cx="522.4" cy="752.5" r="1.65"/><circle cx="525.6" cy="749.9" r="1.65"/><circle cx="525.0" cy="749.7" r="1.65"/><circle cx="515.7" cy="742.3" r="1.65"/><circle cx="531.4" cy="757.6" r="1.65"/><circle cx="539.5" cy="755.5" r="1.65"/><circle cx="540.2" cy="755.5" r="1.65"/><circle cx="531.3" cy="753.1" r="1.65"/><circle cx="509.6" cy="725.2" r="1.65"/><circle cx="515.3" cy="742.1" r="1.65"/><circle cx="512.3" cy="736.7" r="1.65"/><circle cx="512.3" cy="732.6" r="1.65"/><circle cx="513.9" cy="738.4" r="1.65"/><circle cx="525.3" cy="752.5" r="1.65"/><circle cx="528.0" cy="747.0" r="1.65"/><circle cx="514.2" cy="732.9" r="1.65"/><circle cx="527.9" cy="755.7" r="1.65"/><circle cx="512.4" cy="735.8" r="1.65"/><circle cx="517.2" cy="749.5" r="1.65"/><circle cx="512.2" cy="731.7" r="1.65"/><circle cx="512.3" cy="740.9" r="1.65"/><circle cx="519.2" cy="742.2" r="1.65"/><circle cx="519.9" cy="745.5" r="1.65"/><circle cx="514.0" cy="729.6" r="1.65"/><circle cx="515.5" cy="744.3" r="1.65"/><circle cx="514.1" cy="747.2" r="1.65"/><circle cx="517.1" cy="742.7" r="1.65"/><circle cx="517.5" cy="747.4" r="1.65"/><circle cx="522.8" cy="740.6" r="1.65"/><circle cx="513.8" cy="737.5" r="1.65"/><circle cx="519.1" cy="738.0" r="1.65"/><circle cx="517.2" cy="743.6" r="1.65"/><circle cx="531.4" cy="753.8" r="1.65"/><circle cx="527.7" cy="754.3" r="1.65"/><circle cx="523.1" cy="749.6" r="1.65"/><circle cx="514.1" cy="733.1" r="1.65"/><circle cx="512.1" cy="741.3" r="1.65"/><circle cx="510.1" cy="729.7" r="1.65"/><circle cx="531.9" cy="751.7" r="1.65"/><circle cx="531.7" cy="754.3" r="1.65"/><circle cx="509.7" cy="726.9" r="1.65"/><circle cx="515.7" cy="746.6" r="1.65"/><circle cx="519.2" cy="748.5" r="1.65"/><circle cx="513.8" cy="728.2" r="1.65"/><circle cx="517.9" cy="748.0" r="1.65"/><circle cx="519.2" cy="745.5" r="1.65"/><circle cx="515.3" cy="738.6" r="1.65"/><circle cx="519.0" cy="739.1" r="1.65"/><circle cx="511.5" cy="738.8" r="1.65"/><circle cx="514.1" cy="744.1" r="1.65"/><circle cx="515.9" cy="739.2" r="1.65"/><circle cx="526.0" cy="747.5" r="1.65"/><circle cx="512.7" cy="744.9" r="1.65"/><circle cx="518.9" cy="749.2" r="1.65"/><circle cx="522.7" cy="750.9" r="1.65"/><circle cx="515.9" cy="748.0" r="1.65"/><circle cx="528.1" cy="753.8" r="1.65"/><circle cx="515.5" cy="744.0" r="1.65"/></g><path d="M506.5 706.8 V776.2 H584.5" stroke="#555" stroke-width="1" fill="none"/><text x="510.80" y="702.50" font-size="8.8" fill="#00008b" textLength="69.70" lengthAdjust="spacingAndGlyphs" stroke="#00008b" stroke-width="0.12">Pearson Corr: -0.80</text><clipPath id="cer3c3"><rect x="594.7" y="704.8" width="80.09999999999991" height="71.40000000000009"/></clipPath><path d="M625.43 706.8 V776.2 M655.76 706.8 V776.2 M594.7 764.40 H672.8 M594.7 739.30 H672.8 M594.7 714.20 H672.8" stroke="#e4e4e4" stroke-width="0.8" fill="none"/><path d="M595.0 728.7 L633.5 739.2 L672.0 745.2 L672.0 748.2 L633.5 740.7 L595.0 737.7 Z" fill="#cfe5f7" opacity="0.85"/><path d="M595.0 733.2 L672.0 746.7" stroke="#2b93e6" stroke-width="1.1"/><g clip-path="url(#cer3c3)" fill="#52a6e6" stroke="#1f3a58" stroke-width="0.45"><circle cx="647.8" cy="761.3" r="1.65"/><circle cx="645.3" cy="761.3" r="1.65"/><circle cx="643.5" cy="761.0" r="1.65"/><circle cx="651.8" cy="759.7" r="1.65"/><circle cx="652.2" cy="761.3" r="1.65"/><circle cx="650.7" cy="759.6" r="1.65"/><circle cx="649.2" cy="760.1" r="1.65"/><circle cx="656.5" cy="756.9" r="1.65"/><circle cx="651.8" cy="757.5" r="1.65"/><circle cx="649.5" cy="757.9" r="1.65"/><circle cx="652.4" cy="760.2" r="1.65"/><circle cx="649.2" cy="758.4" r="1.65"/><circle cx="652.0" cy="757.5" r="1.65"/><circle cx="650.5" cy="754.4" r="1.65"/><circle cx="651.4" cy="753.5" r="1.65"/><circle cx="649.7" cy="750.9" r="1.65"/><circle cx="647.8" cy="740.0" r="1.65"/><circle cx="651.3" cy="751.7" r="1.65"/><circle cx="653.5" cy="752.7" r="1.65"/><circle cx="647.3" cy="745.6" r="1.65"/><circle cx="646.4" cy="754.5" r="1.65"/><circle cx="654.1" cy="735.6" r="1.65"/><circle cx="647.4" cy="725.9" r="1.65"/><circle cx="651.7" cy="739.9" r="1.65"/><circle cx="644.5" cy="744.1" r="1.65"/><circle cx="655.7" cy="740.9" r="1.65"/><circle cx="621.9" cy="750.8" r="1.65"/><circle cx="647.0" cy="741.1" r="1.65"/><circle cx="614.7" cy="749.5" r="1.65"/><circle cx="655.5" cy="722.6" r="1.65"/><circle cx="650.2" cy="752.0" r="1.65"/><circle cx="653.5" cy="753.5" r="1.65"/><circle cx="648.5" cy="738.0" r="1.65"/><circle cx="649.4" cy="750.9" r="1.65"/><circle cx="655.4" cy="750.6" r="1.65"/><circle cx="638.7" cy="744.9" r="1.65"/><circle cx="647.3" cy="754.1" r="1.65"/><circle cx="648.6" cy="725.7" r="1.65"/><circle cx="653.9" cy="753.6" r="1.65"/><circle cx="653.3" cy="731.8" r="1.65"/><circle cx="654.5" cy="750.0" r="1.65"/><circle cx="653.8" cy="746.9" r="1.65"/><circle cx="646.6" cy="751.4" r="1.65"/><circle cx="656.3" cy="755.8" r="1.65"/><circle cx="652.5" cy="746.5" r="1.65"/><circle cx="650.6" cy="740.7" r="1.65"/><circle cx="647.0" cy="742.7" r="1.65"/><circle cx="636.6" cy="740.6" r="1.65"/><circle cx="649.5" cy="742.0" r="1.65"/><circle cx="653.8" cy="725.5" r="1.65"/><circle cx="651.9" cy="739.7" r="1.65"/><circle cx="629.7" cy="731.1" r="1.65"/><circle cx="642.3" cy="743.6" r="1.65"/><circle cx="654.4" cy="735.4" r="1.65"/><circle cx="642.5" cy="747.2" r="1.65"/><circle cx="635.7" cy="753.4" r="1.65"/><circle cx="649.7" cy="746.6" r="1.65"/><circle cx="636.0" cy="760.0" r="1.65"/><circle cx="607.7" cy="729.2" r="1.65"/><circle cx="651.5" cy="720.1" r="1.65"/><circle cx="643.4" cy="754.3" r="1.65"/><circle cx="655.7" cy="753.6" r="1.65"/><circle cx="655.1" cy="740.1" r="1.65"/><circle cx="648.4" cy="746.0" r="1.65"/><circle cx="647.0" cy="756.3" r="1.65"/><circle cx="646.0" cy="746.5" r="1.65"/><circle cx="640.0" cy="724.2" r="1.65"/><circle cx="639.0" cy="726.3" r="1.65"/><circle cx="649.8" cy="752.0" r="1.65"/><circle cx="624.2" cy="740.7" r="1.65"/><circle cx="623.9" cy="754.4" r="1.65"/><circle cx="649.0" cy="740.2" r="1.65"/><circle cx="646.7" cy="738.4" r="1.65"/><circle cx="653.7" cy="754.3" r="1.65"/><circle cx="649.6" cy="743.1" r="1.65"/><circle cx="652.9" cy="734.9" r="1.65"/><circle cx="649.0" cy="732.1" r="1.65"/><circle cx="637.7" cy="747.9" r="1.65"/><circle cx="646.7" cy="749.1" r="1.65"/><circle cx="639.7" cy="752.4" r="1.65"/><circle cx="651.8" cy="747.1" r="1.65"/><circle cx="640.6" cy="736.2" r="1.65"/><circle cx="649.9" cy="749.8" r="1.65"/><circle cx="641.6" cy="748.1" r="1.65"/><circle cx="606.2" cy="738.1" r="1.65"/><circle cx="654.6" cy="745.0" r="1.65"/><circle cx="641.6" cy="748.1" r="1.65"/><circle cx="649.4" cy="751.1" r="1.65"/><circle cx="654.7" cy="740.4" r="1.65"/><circle cx="649.9" cy="745.5" r="1.65"/><circle cx="655.9" cy="755.6" r="1.65"/><circle cx="650.8" cy="739.5" r="1.65"/><circle cx="648.4" cy="731.1" r="1.65"/><circle cx="651.2" cy="747.8" r="1.65"/><circle cx="653.4" cy="749.6" r="1.65"/><circle cx="651.5" cy="755.3" r="1.65"/><circle cx="645.4" cy="744.5" r="1.65"/><circle cx="646.3" cy="725.7" r="1.65"/><circle cx="656.1" cy="744.0" r="1.65"/><circle cx="655.3" cy="736.8" r="1.65"/><circle cx="631.8" cy="750.7" r="1.65"/><circle cx="640.1" cy="738.6" r="1.65"/><circle cx="645.8" cy="743.8" r="1.65"/><circle cx="650.5" cy="741.8" r="1.65"/><circle cx="645.1" cy="747.9" r="1.65"/><circle cx="652.5" cy="749.2" r="1.65"/><circle cx="618.8" cy="745.7" r="1.65"/><circle cx="653.6" cy="734.7" r="1.65"/><circle cx="635.4" cy="740.7" r="1.65"/><circle cx="642.0" cy="722.1" r="1.65"/><circle cx="602.4" cy="728.7" r="1.65"/><circle cx="650.3" cy="728.2" r="1.65"/><circle cx="649.4" cy="748.5" r="1.65"/><circle cx="656.3" cy="742.9" r="1.65"/><circle cx="649.2" cy="755.1" r="1.65"/><circle cx="654.0" cy="746.9" r="1.65"/><circle cx="646.5" cy="756.6" r="1.65"/><circle cx="654.5" cy="751.1" r="1.65"/><circle cx="635.9" cy="749.6" r="1.65"/><circle cx="636.8" cy="751.4" r="1.65"/><circle cx="650.6" cy="753.9" r="1.65"/><circle cx="627.6" cy="752.0" r="1.65"/><circle cx="621.3" cy="741.6" r="1.65"/><circle cx="651.7" cy="737.1" r="1.65"/><circle cx="638.0" cy="743.2" r="1.65"/><circle cx="644.1" cy="750.6" r="1.65"/><circle cx="636.7" cy="750.5" r="1.65"/><circle cx="651.2" cy="750.1" r="1.65"/><circle cx="654.5" cy="744.4" r="1.65"/><circle cx="612.1" cy="738.5" r="1.65"/><circle cx="641.4" cy="734.1" r="1.65"/><circle cx="649.0" cy="746.7" r="1.65"/><circle cx="647.9" cy="750.4" r="1.65"/><circle cx="652.9" cy="744.1" r="1.65"/><circle cx="638.5" cy="739.6" r="1.65"/><circle cx="648.1" cy="740.2" r="1.65"/><circle cx="652.1" cy="751.6" r="1.65"/><circle cx="654.9" cy="748.9" r="1.65"/><circle cx="644.5" cy="746.9" r="1.65"/><circle cx="656.2" cy="736.5" r="1.65"/><circle cx="649.7" cy="744.7" r="1.65"/><circle cx="655.3" cy="746.0" r="1.65"/><circle cx="644.8" cy="739.8" r="1.65"/><circle cx="646.1" cy="751.3" r="1.65"/><circle cx="649.3" cy="742.3" r="1.65"/><circle cx="629.7" cy="752.3" r="1.65"/><circle cx="650.1" cy="731.1" r="1.65"/><circle cx="652.9" cy="728.0" r="1.65"/><circle cx="646.9" cy="736.6" r="1.65"/><circle cx="630.9" cy="751.6" r="1.65"/><circle cx="655.4" cy="742.7" r="1.65"/><circle cx="642.1" cy="724.4" r="1.65"/><circle cx="649.6" cy="741.9" r="1.65"/><circle cx="601.7" cy="749.9" r="1.65"/><circle cx="653.6" cy="740.4" r="1.65"/><circle cx="644.0" cy="733.9" r="1.65"/><circle cx="645.8" cy="746.8" r="1.65"/><circle cx="647.8" cy="749.2" r="1.65"/><circle cx="656.3" cy="753.0" r="1.65"/><circle cx="650.2" cy="735.0" r="1.65"/><circle cx="651.7" cy="753.0" r="1.65"/><circle cx="651.1" cy="741.6" r="1.65"/><circle cx="647.7" cy="743.5" r="1.65"/><circle cx="652.2" cy="745.4" r="1.65"/><circle cx="641.5" cy="737.3" r="1.65"/><circle cx="650.3" cy="750.2" r="1.65"/><circle cx="651.7" cy="754.9" r="1.65"/><circle cx="654.7" cy="741.8" r="1.65"/><circle cx="648.5" cy="738.3" r="1.65"/><circle cx="643.0" cy="742.4" r="1.65"/><circle cx="645.9" cy="743.0" r="1.65"/><circle cx="644.7" cy="745.5" r="1.65"/><circle cx="630.1" cy="739.9" r="1.65"/><circle cx="632.7" cy="755.8" r="1.65"/><circle cx="645.3" cy="737.2" r="1.65"/><circle cx="650.3" cy="741.5" r="1.65"/><circle cx="658.7" cy="754.1" r="1.65"/><circle cx="647.2" cy="724.3" r="1.65"/><circle cx="645.6" cy="743.6" r="1.65"/><circle cx="652.1" cy="734.6" r="1.65"/><circle cx="656.2" cy="739.6" r="1.65"/><circle cx="654.2" cy="737.2" r="1.65"/><circle cx="649.0" cy="742.4" r="1.65"/><circle cx="653.5" cy="748.1" r="1.65"/><circle cx="653.9" cy="745.5" r="1.65"/><circle cx="630.9" cy="739.8" r="1.65"/><circle cx="651.1" cy="741.2" r="1.65"/><circle cx="652.6" cy="750.0" r="1.65"/><circle cx="655.5" cy="738.5" r="1.65"/><circle cx="656.1" cy="724.9" r="1.65"/><circle cx="641.8" cy="756.1" r="1.65"/><circle cx="647.6" cy="749.3" r="1.65"/><circle cx="640.9" cy="746.0" r="1.65"/><circle cx="641.6" cy="749.6" r="1.65"/><circle cx="650.1" cy="750.5" r="1.65"/><circle cx="646.1" cy="751.2" r="1.65"/><circle cx="641.0" cy="748.1" r="1.65"/><circle cx="645.6" cy="738.0" r="1.65"/><circle cx="641.5" cy="748.7" r="1.65"/><circle cx="613.5" cy="749.7" r="1.65"/><circle cx="639.5" cy="749.5" r="1.65"/><circle cx="651.4" cy="756.1" r="1.65"/><circle cx="653.3" cy="751.5" r="1.65"/><circle cx="649.0" cy="742.4" r="1.65"/><circle cx="650.8" cy="754.9" r="1.65"/><circle cx="666.9" cy="734.7" r="1.65"/><circle cx="634.4" cy="746.1" r="1.65"/><circle cx="652.7" cy="747.9" r="1.65"/><circle cx="644.6" cy="746.9" r="1.65"/><circle cx="651.2" cy="737.8" r="1.65"/><circle cx="637.4" cy="750.3" r="1.65"/><circle cx="644.6" cy="748.1" r="1.65"/><circle cx="655.2" cy="734.9" r="1.65"/><circle cx="649.5" cy="751.2" r="1.65"/><circle cx="638.3" cy="753.2" r="1.65"/><circle cx="655.7" cy="728.9" r="1.65"/><circle cx="653.3" cy="737.2" r="1.65"/><circle cx="643.5" cy="746.0" r="1.65"/><circle cx="664.6" cy="746.1" r="1.65"/><circle cx="653.4" cy="754.7" r="1.65"/><circle cx="633.4" cy="743.1" r="1.65"/><circle cx="663.9" cy="749.4" r="1.65"/><circle cx="644.8" cy="758.9" r="1.65"/><circle cx="633.0" cy="734.5" r="1.65"/><circle cx="646.8" cy="731.2" r="1.65"/><circle cx="656.1" cy="755.2" r="1.65"/><circle cx="656.4" cy="746.1" r="1.65"/><circle cx="642.5" cy="739.7" r="1.65"/><circle cx="647.4" cy="745.2" r="1.65"/><circle cx="646.0" cy="732.2" r="1.65"/><circle cx="651.2" cy="754.1" r="1.65"/><circle cx="652.1" cy="757.2" r="1.65"/><circle cx="642.6" cy="752.9" r="1.65"/><circle cx="652.0" cy="741.6" r="1.65"/><circle cx="641.7" cy="739.4" r="1.65"/><circle cx="652.0" cy="755.7" r="1.65"/><circle cx="652.8" cy="753.9" r="1.65"/><circle cx="649.7" cy="737.4" r="1.65"/><circle cx="643.7" cy="751.6" r="1.65"/><circle cx="650.1" cy="751.7" r="1.65"/><circle cx="666.6" cy="747.6" r="1.65"/><circle cx="645.8" cy="752.9" r="1.65"/><circle cx="655.0" cy="752.8" r="1.65"/><circle cx="649.5" cy="743.8" r="1.65"/><circle cx="655.0" cy="753.6" r="1.65"/><circle cx="654.3" cy="740.1" r="1.65"/><circle cx="641.8" cy="741.7" r="1.65"/><circle cx="649.4" cy="746.5" r="1.65"/><circle cx="655.0" cy="742.8" r="1.65"/><circle cx="643.7" cy="734.5" r="1.65"/><circle cx="647.3" cy="727.5" r="1.65"/><circle cx="631.5" cy="738.4" r="1.65"/><circle cx="654.0" cy="746.7" r="1.65"/><circle cx="647.6" cy="743.4" r="1.65"/><circle cx="665.0" cy="741.7" r="1.65"/><circle cx="642.4" cy="739.4" r="1.65"/><circle cx="627.1" cy="745.9" r="1.65"/><circle cx="661.6" cy="752.3" r="1.65"/><circle cx="650.8" cy="748.7" r="1.65"/><circle cx="649.6" cy="745.3" r="1.65"/><circle cx="652.0" cy="754.3" r="1.65"/><circle cx="644.5" cy="751.5" r="1.65"/><circle cx="655.1" cy="732.6" r="1.65"/><circle cx="655.7" cy="740.2" r="1.65"/><circle cx="655.3" cy="740.0" r="1.65"/><circle cx="656.1" cy="747.1" r="1.65"/><circle cx="655.5" cy="740.5" r="1.65"/><circle cx="646.0" cy="738.8" r="1.65"/><circle cx="652.4" cy="744.9" r="1.65"/><circle cx="649.0" cy="735.8" r="1.65"/><circle cx="652.2" cy="739.5" r="1.65"/><circle cx="651.9" cy="750.0" r="1.65"/><circle cx="639.3" cy="742.5" r="1.65"/><circle cx="635.3" cy="725.4" r="1.65"/><circle cx="641.1" cy="737.5" r="1.65"/><circle cx="654.8" cy="728.6" r="1.65"/><circle cx="648.1" cy="742.7" r="1.65"/><circle cx="629.7" cy="737.2" r="1.65"/><circle cx="628.1" cy="754.0" r="1.65"/><circle cx="646.1" cy="747.2" r="1.65"/><circle cx="652.8" cy="746.1" r="1.65"/><circle cx="648.5" cy="746.0" r="1.65"/><circle cx="643.5" cy="755.3" r="1.65"/><circle cx="646.9" cy="740.4" r="1.65"/><circle cx="645.0" cy="738.6" r="1.65"/><circle cx="651.7" cy="749.4" r="1.65"/><circle cx="643.4" cy="734.4" r="1.65"/><circle cx="647.5" cy="748.2" r="1.65"/><circle cx="648.4" cy="737.8" r="1.65"/><circle cx="636.3" cy="742.7" r="1.65"/><circle cx="653.2" cy="750.8" r="1.65"/><circle cx="657.8" cy="748.7" r="1.65"/><circle cx="650.6" cy="738.2" r="1.65"/><circle cx="636.0" cy="748.7" r="1.65"/><circle cx="650.7" cy="737.2" r="1.65"/><circle cx="653.1" cy="743.7" r="1.65"/><circle cx="654.3" cy="744.0" r="1.65"/><circle cx="647.5" cy="753.0" r="1.65"/><circle cx="652.0" cy="754.7" r="1.65"/><circle cx="663.0" cy="745.3" r="1.65"/><circle cx="648.0" cy="740.0" r="1.65"/><circle cx="667.0" cy="743.3" r="1.65"/><circle cx="646.8" cy="752.7" r="1.65"/><circle cx="650.7" cy="733.8" r="1.65"/><circle cx="641.7" cy="745.5" r="1.65"/><circle cx="656.3" cy="753.2" r="1.65"/><circle cx="635.7" cy="750.0" r="1.65"/><circle cx="643.5" cy="726.2" r="1.65"/><circle cx="654.9" cy="758.6" r="1.65"/><circle cx="646.9" cy="741.4" r="1.65"/><circle cx="645.7" cy="742.4" r="1.65"/><circle cx="655.6" cy="753.7" r="1.65"/><circle cx="648.3" cy="753.4" r="1.65"/><circle cx="649.9" cy="742.3" r="1.65"/><circle cx="653.0" cy="741.8" r="1.65"/><circle cx="648.0" cy="729.5" r="1.65"/><circle cx="638.1" cy="753.9" r="1.65"/><circle cx="649.4" cy="725.3" r="1.65"/><circle cx="653.7" cy="744.4" r="1.65"/><circle cx="653.0" cy="744.9" r="1.65"/><circle cx="654.8" cy="737.7" r="1.65"/><circle cx="646.1" cy="735.4" r="1.65"/><circle cx="645.8" cy="747.4" r="1.65"/><circle cx="647.1" cy="745.2" r="1.65"/><circle cx="639.7" cy="748.9" r="1.65"/><circle cx="654.8" cy="744.1" r="1.65"/><circle cx="648.9" cy="750.7" r="1.65"/><circle cx="654.2" cy="741.8" r="1.65"/><circle cx="616.9" cy="749.7" r="1.65"/><circle cx="653.5" cy="735.8" r="1.65"/><circle cx="656.2" cy="747.2" r="1.65"/><circle cx="634.4" cy="749.5" r="1.65"/><circle cx="640.4" cy="731.2" r="1.65"/><circle cx="654.0" cy="744.0" r="1.65"/><circle cx="645.7" cy="756.8" r="1.65"/><circle cx="642.1" cy="731.9" r="1.65"/><circle cx="634.6" cy="750.0" r="1.65"/><circle cx="648.2" cy="759.0" r="1.65"/><circle cx="651.5" cy="736.5" r="1.65"/><circle cx="654.0" cy="753.1" r="1.65"/><circle cx="657.2" cy="735.4" r="1.65"/><circle cx="612.5" cy="745.7" r="1.65"/><circle cx="639.9" cy="746.6" r="1.65"/><circle cx="654.3" cy="733.9" r="1.65"/><circle cx="649.9" cy="753.5" r="1.65"/><circle cx="644.0" cy="750.1" r="1.65"/><circle cx="649.8" cy="748.3" r="1.65"/><circle cx="607.0" cy="741.1" r="1.65"/><circle cx="644.5" cy="743.0" r="1.65"/><circle cx="627.8" cy="751.4" r="1.65"/><circle cx="646.3" cy="739.9" r="1.65"/><circle cx="650.3" cy="741.9" r="1.65"/><circle cx="651.8" cy="752.5" r="1.65"/><circle cx="651.0" cy="746.4" r="1.65"/><circle cx="641.6" cy="748.9" r="1.65"/><circle cx="652.3" cy="739.9" r="1.65"/><circle cx="654.4" cy="731.8" r="1.65"/><circle cx="652.1" cy="747.7" r="1.65"/><circle cx="655.8" cy="728.6" r="1.65"/><circle cx="640.5" cy="734.7" r="1.65"/><circle cx="638.9" cy="728.1" r="1.65"/><circle cx="653.3" cy="731.3" r="1.65"/><circle cx="637.6" cy="740.5" r="1.65"/><circle cx="654.7" cy="744.4" r="1.65"/><circle cx="648.1" cy="757.5" r="1.65"/><circle cx="641.9" cy="749.1" r="1.65"/><circle cx="650.5" cy="728.9" r="1.65"/><circle cx="655.7" cy="751.0" r="1.65"/><circle cx="651.9" cy="753.6" r="1.65"/><circle cx="667.9" cy="751.8" r="1.65"/><circle cx="655.2" cy="749.2" r="1.65"/><circle cx="652.9" cy="739.6" r="1.65"/><circle cx="613.3" cy="751.6" r="1.65"/><circle cx="649.6" cy="742.4" r="1.65"/><circle cx="652.0" cy="742.0" r="1.65"/><circle cx="642.1" cy="746.1" r="1.65"/><circle cx="611.3" cy="741.7" r="1.65"/><circle cx="648.6" cy="736.2" r="1.65"/><circle cx="655.0" cy="747.8" r="1.65"/><circle cx="654.2" cy="751.6" r="1.65"/><circle cx="646.9" cy="748.4" r="1.65"/><circle cx="650.8" cy="740.0" r="1.65"/><circle cx="655.0" cy="723.4" r="1.65"/><circle cx="655.2" cy="738.3" r="1.65"/><circle cx="642.8" cy="740.5" r="1.65"/><circle cx="646.6" cy="753.9" r="1.65"/><circle cx="656.3" cy="743.0" r="1.65"/><circle cx="642.6" cy="731.5" r="1.65"/><circle cx="653.9" cy="741.5" r="1.65"/><circle cx="648.2" cy="755.6" r="1.65"/><circle cx="647.6" cy="742.9" r="1.65"/><circle cx="636.3" cy="719.1" r="1.65"/><circle cx="645.1" cy="743.2" r="1.65"/><circle cx="638.8" cy="727.8" r="1.65"/><circle cx="655.9" cy="740.1" r="1.65"/><circle cx="653.8" cy="743.4" r="1.65"/><circle cx="662.9" cy="750.3" r="1.65"/><circle cx="652.9" cy="715.9" r="1.65"/><circle cx="637.3" cy="742.3" r="1.65"/><circle cx="645.5" cy="753.5" r="1.65"/><circle cx="643.5" cy="746.3" r="1.65"/><circle cx="649.1" cy="753.1" r="1.65"/><circle cx="634.2" cy="741.6" r="1.65"/><circle cx="639.1" cy="749.1" r="1.65"/><circle cx="654.3" cy="752.0" r="1.65"/><circle cx="654.0" cy="735.6" r="1.65"/><circle cx="639.0" cy="741.4" r="1.65"/><circle cx="650.8" cy="744.1" r="1.65"/><circle cx="602.2" cy="750.9" r="1.65"/><circle cx="651.0" cy="736.8" r="1.65"/><circle cx="651.0" cy="755.3" r="1.65"/><circle cx="648.6" cy="737.6" r="1.65"/><circle cx="637.1" cy="749.5" r="1.65"/><circle cx="649.2" cy="719.2" r="1.65"/><circle cx="639.7" cy="739.7" r="1.65"/><circle cx="604.3" cy="742.4" r="1.65"/><circle cx="651.1" cy="753.4" r="1.65"/><circle cx="653.7" cy="751.4" r="1.65"/><circle cx="652.1" cy="731.9" r="1.65"/><circle cx="642.9" cy="744.7" r="1.65"/><circle cx="652.4" cy="745.0" r="1.65"/><circle cx="654.2" cy="741.9" r="1.65"/><circle cx="639.8" cy="738.3" r="1.65"/><circle cx="637.7" cy="754.7" r="1.65"/><circle cx="640.6" cy="747.9" r="1.65"/><circle cx="635.4" cy="716.5" r="1.65"/><circle cx="650.5" cy="739.0" r="1.65"/><circle cx="647.8" cy="742.0" r="1.65"/><circle cx="644.3" cy="747.7" r="1.65"/><circle cx="639.7" cy="746.4" r="1.65"/><circle cx="635.1" cy="752.4" r="1.65"/><circle cx="642.8" cy="751.3" r="1.65"/><circle cx="649.0" cy="754.6" r="1.65"/><circle cx="652.6" cy="744.8" r="1.65"/><circle cx="643.2" cy="755.5" r="1.65"/><circle cx="653.8" cy="751.0" r="1.65"/><circle cx="653.5" cy="754.2" r="1.65"/><circle cx="650.7" cy="744.7" r="1.65"/><circle cx="624.8" cy="753.0" r="1.65"/><circle cx="626.7" cy="737.1" r="1.65"/><circle cx="655.3" cy="751.3" r="1.65"/><circle cx="650.3" cy="747.3" r="1.65"/><circle cx="644.4" cy="753.1" r="1.65"/><circle cx="651.7" cy="753.7" r="1.65"/><circle cx="642.8" cy="742.3" r="1.65"/><circle cx="648.6" cy="747.6" r="1.65"/><circle cx="640.0" cy="747.3" r="1.65"/><circle cx="640.6" cy="748.8" r="1.65"/><circle cx="646.3" cy="744.8" r="1.65"/><circle cx="654.2" cy="744.2" r="1.65"/><circle cx="654.4" cy="747.5" r="1.65"/><circle cx="644.8" cy="745.1" r="1.65"/><circle cx="649.4" cy="749.7" r="1.65"/><circle cx="651.4" cy="753.0" r="1.65"/><circle cx="646.1" cy="749.9" r="1.65"/><circle cx="613.5" cy="723.4" r="1.65"/><circle cx="630.0" cy="732.5" r="1.65"/><circle cx="653.6" cy="755.0" r="1.65"/><circle cx="647.8" cy="752.6" r="1.65"/><circle cx="640.2" cy="740.5" r="1.65"/><circle cx="645.1" cy="737.7" r="1.65"/><circle cx="617.9" cy="747.1" r="1.65"/><circle cx="645.5" cy="717.1" r="1.65"/><circle cx="648.9" cy="746.4" r="1.65"/><circle cx="636.3" cy="733.0" r="1.65"/><circle cx="652.2" cy="751.9" r="1.65"/><circle cx="654.2" cy="736.9" r="1.65"/><circle cx="653.4" cy="736.3" r="1.65"/><circle cx="650.5" cy="749.7" r="1.65"/><circle cx="651.3" cy="753.1" r="1.65"/><circle cx="655.5" cy="745.9" r="1.65"/><circle cx="654.1" cy="757.9" r="1.65"/><circle cx="646.2" cy="739.4" r="1.65"/><circle cx="643.7" cy="744.6" r="1.65"/><circle cx="636.1" cy="749.8" r="1.65"/><circle cx="633.9" cy="747.6" r="1.65"/><circle cx="650.2" cy="749.5" r="1.65"/><circle cx="648.5" cy="752.3" r="1.65"/><circle cx="639.0" cy="742.8" r="1.65"/><circle cx="650.7" cy="743.0" r="1.65"/><circle cx="642.9" cy="737.8" r="1.65"/><circle cx="645.2" cy="750.2" r="1.65"/><circle cx="647.3" cy="752.5" r="1.65"/><circle cx="656.2" cy="749.9" r="1.65"/><circle cx="654.4" cy="749.7" r="1.65"/><circle cx="652.5" cy="742.3" r="1.65"/><circle cx="646.3" cy="757.6" r="1.65"/><circle cx="649.8" cy="755.5" r="1.65"/><circle cx="648.2" cy="755.5" r="1.65"/><circle cx="648.0" cy="753.1" r="1.65"/><circle cx="656.3" cy="725.2" r="1.65"/><circle cx="642.9" cy="742.1" r="1.65"/><circle cx="652.9" cy="736.7" r="1.65"/><circle cx="651.0" cy="732.6" r="1.65"/><circle cx="642.0" cy="738.4" r="1.65"/><circle cx="650.4" cy="752.5" r="1.65"/><circle cx="652.3" cy="747.0" r="1.65"/><circle cx="634.7" cy="732.9" r="1.65"/><circle cx="652.8" cy="755.7" r="1.65"/><circle cx="652.4" cy="735.8" r="1.65"/><circle cx="651.2" cy="749.5" r="1.65"/><circle cx="651.0" cy="731.7" r="1.65"/><circle cx="656.2" cy="740.9" r="1.65"/><circle cx="650.9" cy="742.2" r="1.65"/><circle cx="648.0" cy="745.5" r="1.65"/><circle cx="647.4" cy="729.6" r="1.65"/><circle cx="652.2" cy="744.3" r="1.65"/><circle cx="645.6" cy="747.2" r="1.65"/><circle cx="653.2" cy="742.7" r="1.65"/><circle cx="654.7" cy="747.4" r="1.65"/><circle cx="653.5" cy="740.6" r="1.65"/><circle cx="646.8" cy="737.5" r="1.65"/><circle cx="638.1" cy="738.0" r="1.65"/><circle cx="643.3" cy="743.6" r="1.65"/><circle cx="653.5" cy="753.8" r="1.65"/><circle cx="637.0" cy="754.3" r="1.65"/><circle cx="654.4" cy="749.6" r="1.65"/><circle cx="651.2" cy="733.1" r="1.65"/><circle cx="649.2" cy="741.3" r="1.65"/><circle cx="646.4" cy="729.7" r="1.65"/><circle cx="645.6" cy="751.7" r="1.65"/><circle cx="640.3" cy="754.3" r="1.65"/><circle cx="650.2" cy="726.9" r="1.65"/><circle cx="636.9" cy="746.6" r="1.65"/><circle cx="644.0" cy="748.5" r="1.65"/><circle cx="639.8" cy="728.2" r="1.65"/><circle cx="654.6" cy="748.0" r="1.65"/><circle cx="641.2" cy="745.5" r="1.65"/><circle cx="651.1" cy="738.6" r="1.65"/><circle cx="649.1" cy="739.1" r="1.65"/><circle cx="607.9" cy="738.8" r="1.65"/><circle cx="653.0" cy="744.1" r="1.65"/><circle cx="639.6" cy="739.2" r="1.65"/><circle cx="652.7" cy="747.5" r="1.65"/><circle cx="650.4" cy="744.9" r="1.65"/><circle cx="650.3" cy="749.2" r="1.65"/><circle cx="646.3" cy="750.9" r="1.65"/><circle cx="621.6" cy="748.0" r="1.65"/><circle cx="637.5" cy="753.8" r="1.65"/><circle cx="620.5" cy="744.0" r="1.65"/></g><path d="M594.7 706.8 V776.2 H672.8" stroke="#555" stroke-width="1" fill="none"/><text x="598.60" y="702.50" font-size="8.8" fill="#00008b" textLength="70.20" lengthAdjust="spacingAndGlyphs" stroke="#00008b" stroke-width="0.12">Pearson Corr: -0.19</text><text x="414.40" y="548.50" font-size="8.8" fill="#111" text-anchor="end" textLength="8.20" lengthAdjust="spacingAndGlyphs" stroke="#111" stroke-width="0.15">25</text><text x="414.40" y="576.50" font-size="8.8" fill="#111" text-anchor="end" textLength="4.10" lengthAdjust="spacingAndGlyphs" stroke="#111" stroke-width="0.15">0</text><text x="414.40" y="631.90" font-size="8.8" fill="#111" text-anchor="end" textLength="12.30" lengthAdjust="spacingAndGlyphs" stroke="#111" stroke-width="0.15">100</text><text x="414.40" y="658.60" font-size="8.8" fill="#111" text-anchor="end" textLength="8.20" lengthAdjust="spacingAndGlyphs" stroke="#111" stroke-width="0.15">50</text><text x="414.40" y="685.60" font-size="8.8" fill="#111" text-anchor="end" textLength="4.10" lengthAdjust="spacingAndGlyphs" stroke="#111" stroke-width="0.15">0</text><text x="414.40" y="717.50" font-size="8.8" fill="#111" text-anchor="end" textLength="12.30" lengthAdjust="spacingAndGlyphs" stroke="#111" stroke-width="0.15">400</text><text x="414.40" y="742.50" font-size="8.8" fill="#111" text-anchor="end" textLength="12.30" lengthAdjust="spacingAndGlyphs" stroke="#111" stroke-width="0.15">200</text><text x="414.40" y="767.40" font-size="8.8" fill="#111" text-anchor="end" textLength="4.10" lengthAdjust="spacingAndGlyphs" stroke="#111" stroke-width="0.15">0</text><text x="419.10" y="785.90" font-size="8.8" fill="#111" text-anchor="middle" textLength="4.10" lengthAdjust="spacingAndGlyphs" stroke="#111" stroke-width="0.15">0</text><text x="448.70" y="785.90" font-size="8.8" fill="#111" text-anchor="middle" textLength="4.10" lengthAdjust="spacingAndGlyphs" stroke="#111" stroke-width="0.15">8</text><text x="478.20" y="785.90" font-size="8.8" fill="#111" text-anchor="middle" textLength="8.20" lengthAdjust="spacingAndGlyphs" stroke="#111" stroke-width="0.15">16</text><text x="540.00" y="785.90" font-size="8.8" fill="#111" text-anchor="middle" textLength="8.20" lengthAdjust="spacingAndGlyphs" stroke="#111" stroke-width="0.15">20</text><text x="573.50" y="785.90" font-size="8.8" fill="#111" text-anchor="middle" textLength="8.20" lengthAdjust="spacingAndGlyphs" stroke="#111" stroke-width="0.15">40</text><text x="595.30" y="785.90" font-size="8.8" fill="#111" text-anchor="middle" textLength="4.10" lengthAdjust="spacingAndGlyphs" stroke="#111" stroke-width="0.15">0</text><text x="625.20" y="785.90" font-size="8.8" fill="#111" text-anchor="middle" textLength="8.20" lengthAdjust="spacingAndGlyphs" stroke="#111" stroke-width="0.15">50</text><text x="655.80" y="785.90" font-size="8.8" fill="#111" text-anchor="middle" textLength="12.30" lengthAdjust="spacingAndGlyphs" stroke="#111" stroke-width="0.15">100</text><text x="457.10" y="796.30" font-size="9.2" fill="#111" text-anchor="middle" textLength="55.30" lengthAdjust="spacingAndGlyphs" stroke="#111" stroke-width="0.15">Sulfur loading</text><text x="457.10" y="806.80" font-size="9.2" fill="#111" text-anchor="middle" textLength="36.00" lengthAdjust="spacingAndGlyphs" stroke="#111" stroke-width="0.15">(mg/cm²)</text><text x="545.00" y="796.10" font-size="9.2" fill="#111" text-anchor="middle" textLength="47.90" lengthAdjust="spacingAndGlyphs" stroke="#111" stroke-width="0.15">E/S (µL/mg)</text><text x="633.70" y="796.10" font-size="9.2" fill="#111" text-anchor="middle" textLength="81.00" lengthAdjust="spacingAndGlyphs" stroke="#111" stroke-width="0.15">Normalized capacity</text><text x="633.00" y="805.60" font-size="9.2" fill="#111" text-anchor="middle" textLength="52.60" lengthAdjust="spacingAndGlyphs" stroke="#111" stroke-width="0.15">retention (%)</text><text x="403.60" y="556.00" font-size="9.2" fill="#111" text-anchor="middle" textLength="46.50" lengthAdjust="spacingAndGlyphs" transform="rotate(-90.00 403.60 556.00)" stroke="#111" stroke-width="0.15">E/S (µL/mg)</text><text x="387.60" y="648.10" font-size="9.2" fill="#111" text-anchor="middle" textLength="80.60" lengthAdjust="spacingAndGlyphs" transform="rotate(-90.00 387.60 648.10)" stroke="#111" stroke-width="0.15">Normalized capacity</text><text x="397.60" y="648.50" font-size="9.2" fill="#111" text-anchor="middle" textLength="51.80" lengthAdjust="spacingAndGlyphs" transform="rotate(-90.00 397.60 648.50)" stroke="#111" stroke-width="0.15">retention (%)</text><text x="387.60" y="741.60" font-size="9.2" fill="#111" text-anchor="middle" textLength="60.30" lengthAdjust="spacingAndGlyphs" transform="rotate(-90.00 387.60 741.60)" stroke="#111" stroke-width="0.15">Specific energy</text><text x="397.20" y="741.60" font-size="9.2" fill="#111" text-anchor="middle" textLength="33.00" lengthAdjust="spacingAndGlyphs" transform="rotate(-90.00 397.20 741.60)" stroke="#111" stroke-width="0.15">(Wh/kg)</text></svg></body></html>
